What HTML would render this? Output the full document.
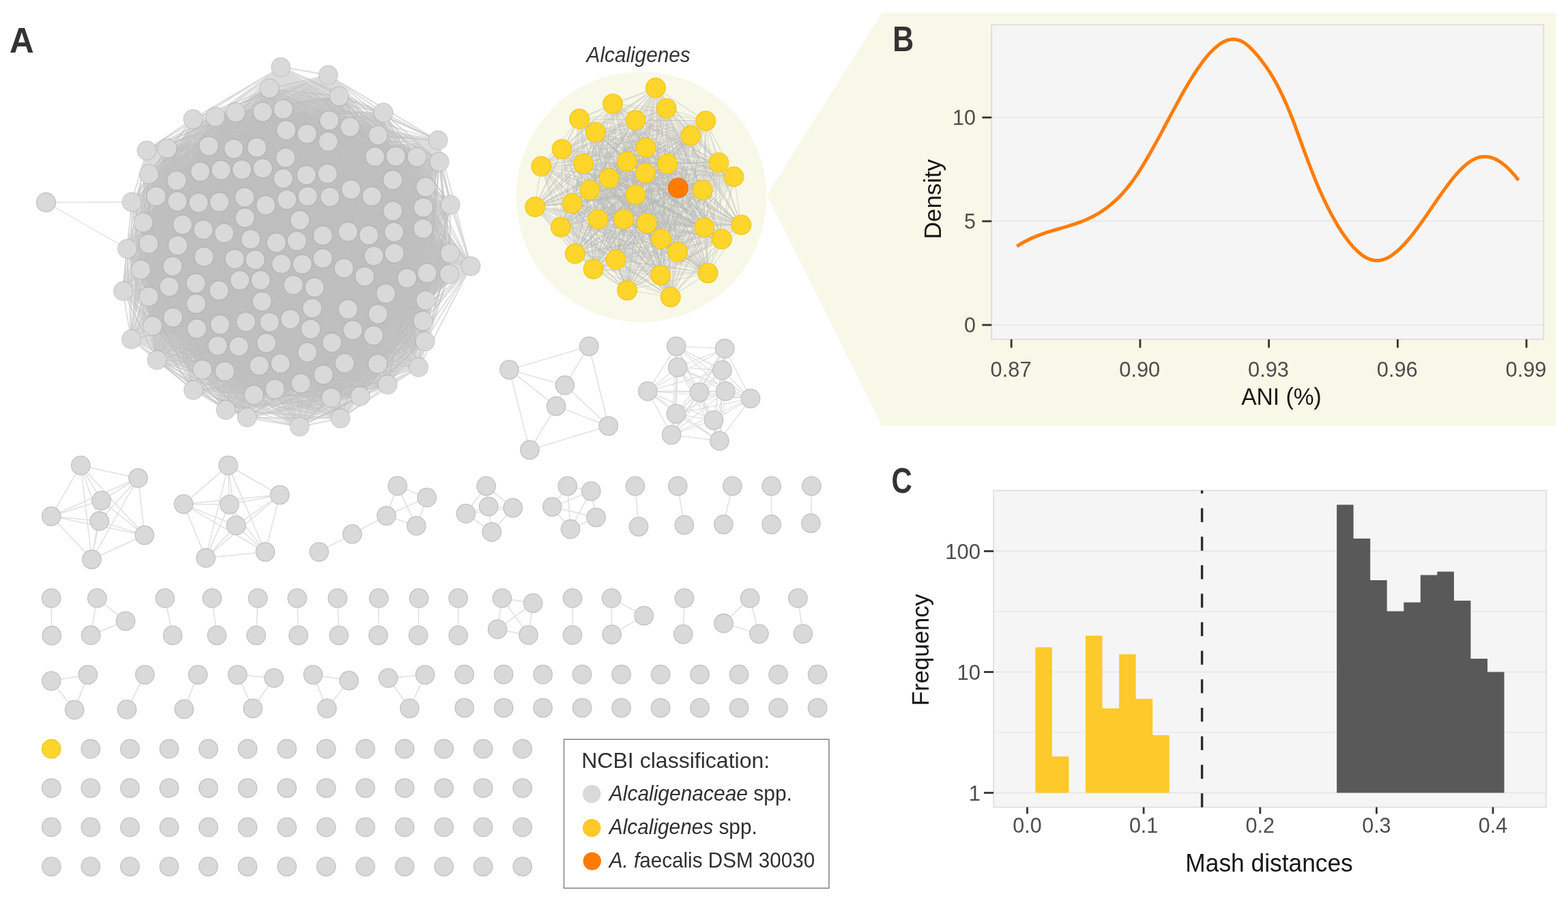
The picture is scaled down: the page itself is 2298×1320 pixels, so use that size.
<!DOCTYPE html><html><head><meta charset="utf-8"><style>html,body{margin:0;padding:0;background:#fff;overflow:hidden}svg{display:block}</style></head><body>
<svg width="2298" height="1320" viewBox="0 0 2298 1320" font-family="Liberation Sans, Arial, sans-serif">
<rect width="2298" height="1320" fill="#fff"/>
<polygon points="1292.5,19 2280.5,19 2280.5,624 1292.5,624 1124,286" fill="#f7f8e7"/>
<circle cx="940" cy="288.5" r="183.5" fill="#f7f8e7"/>
<polygon points="256.1,423.7 267,310.2 279.4,267.5 323.1,237.9 426.2,176.9 454.9,181.7 577.2,254.3 610.2,381.1 555.9,486.1 470.1,542.3 438.1,548.7 381.2,538.7 363.4,532.4 327,510.2 261.7,456.7" fill="#bfbfbf"/>
<g stroke="#bfbfbf" stroke-width="1.8" fill="none" stroke-opacity="0.55">
<path d="M412 98L481 110M412 98L395 130M412 98L497 141M412 98L562 165M412 98L283 174M412 98L316 171M412 98L346 164M412 98L385 164M412 98L415 160M412 98L482 176M412 98L513 186M412 98L420 190M412 98L450 196M412 98L554 198M412 98L481 208M412 98L642 206M412 98L215 220M412 98L245 218M412 98L306 214M412 98L342 218M412 98L376 216M412 98L418 231M412 98L550 230M412 98L580 229M412 98L611 230M412 98L644 237M412 98L218 255M412 98L259 264M412 98L294 252M412 98L324 249M412 98L354 248M412 98L385 246M412 98L415 262M412 98L449 256M412 98L480 254M412 98L576 264M412 98L624 274M412 98L193 296M412 98L229 288M412 98L260 295M412 98L291 297M412 98L322 296M412 98L358 289M412 98L390 300M412 98L420 292M412 98L451 288M412 98L484 288M412 98L514 278M412 98L545 288M412 98L576 309M412 98L620 304M412 98L660 300M412 98L210 326M412 98L268 329M412 98L298 336M412 98L328 342M412 98L359 319M412 98L440 322M412 98L620 335M412 98L578 340M412 98L186 364M412 98L218 357M412 98L260 360M412 98L368 350M412 98L405 356M412 98L435 353M412 98L473 345M412 98L510 340M412 98L540 344M412 98L548 375M412 98L578 371M412 98L660 371M412 98L690 390M412 98L206 395M412 98L253 390M412 98L299 376M412 98L344 380M412 98L374 380M412 98L412 386M412 98L443 387M412 98L473 378M412 98L504 393M412 98L534 405M412 98L596 408M412 98L626 400M412 98L658 402M412 98L180 426M412 98L218 434M412 98L248 420M412 98L287 415M412 98L321 426M412 98L352 410M412 98L382 410M412 98L430 418M412 98L461 421M412 98L566 430M412 98L624 440M412 98L288 445M412 98L384 442M412 98L458 452M412 98L510 453M412 98L554 460M412 98L192 497M412 98L224 478M412 98L254 465M412 98L288 482M412 98L322 476M412 98L360 472M412 98L395 472M412 98L426 468M412 98L456 482M412 98L517 484M412 98L548 492M412 98L620 470M412 98L486 502M412 98L319 506M412 98L350 508M412 98L390 502M412 98L623 500M412 98L230 528M412 98L296 542M412 98L330 544M412 98L380 536M412 98L411 532M412 98L450 516M412 98L474 549M412 98L505 532M412 98L554 533M412 98L614 538M412 98L284 572M412 98L372 578M412 98L403 570M412 98L441 562M412 98L486 582M412 98L528 580M412 98L568 564M412 98L331 600M412 98L362 612M412 98L439 625M412 98L499 613"/>
<path d="M481 110L395 130M481 110L497 141M481 110L562 165M481 110L283 174M481 110L316 171M481 110L346 164M481 110L385 164M481 110L415 160M481 110L482 176M481 110L513 186M481 110L420 190M481 110L450 196M481 110L554 198M481 110L481 208M481 110L642 206M481 110L215 220M481 110L245 218M481 110L306 214M481 110L342 218M481 110L376 216M481 110L418 231M481 110L550 230M481 110L580 229M481 110L611 230M481 110L644 237M481 110L218 255M481 110L259 264M481 110L294 252M481 110L324 249M481 110L354 248M481 110L385 246M481 110L415 262M481 110L449 256M481 110L480 254M481 110L576 264M481 110L624 274M481 110L193 296M481 110L229 288M481 110L260 295M481 110L291 297M481 110L322 296M481 110L358 289M481 110L390 300M481 110L420 292M481 110L451 288M481 110L484 288M481 110L514 278M481 110L545 288M481 110L576 309M481 110L620 304M481 110L660 300M481 110L210 326M481 110L268 329M481 110L298 336M481 110L328 342M481 110L359 319M481 110L440 322M481 110L620 335M481 110L578 340M481 110L186 364M481 110L218 357M481 110L260 360M481 110L368 350M481 110L405 356M481 110L435 353M481 110L473 345M481 110L510 340M481 110L540 344M481 110L548 375M481 110L578 371M481 110L660 371M481 110L690 390M481 110L206 395M481 110L253 390M481 110L299 376M481 110L344 380M481 110L374 380M481 110L412 386M481 110L443 387M481 110L473 378M481 110L504 393M481 110L534 405M481 110L596 408M481 110L626 400M481 110L658 402M481 110L180 426M481 110L218 434M481 110L248 420M481 110L287 415M481 110L321 426M481 110L352 410M481 110L382 410M481 110L430 418M481 110L461 421M481 110L566 430M481 110L624 440M481 110L288 445M481 110L384 442M481 110L458 452M481 110L510 453M481 110L554 460M481 110L192 497M481 110L224 478M481 110L254 465M481 110L288 482M481 110L322 476M481 110L360 472M481 110L395 472M481 110L426 468M481 110L456 482M481 110L517 484M481 110L548 492M481 110L620 470M481 110L486 502M481 110L319 506M481 110L350 508M481 110L390 502M481 110L623 500M481 110L230 528M481 110L296 542M481 110L330 544M481 110L380 536M481 110L411 532M481 110L450 516M481 110L474 549M481 110L505 532M481 110L554 533M481 110L614 538M481 110L284 572M481 110L372 578M481 110L403 570M481 110L441 562M481 110L486 582M481 110L528 580M481 110L568 564M481 110L331 600M481 110L362 612M481 110L439 625M481 110L499 613"/>
<path d="M395 130L497 141M395 130L346 164M395 130L385 164M395 130L415 160M395 130L482 176M395 130L513 186M395 130L420 190M395 130L450 196M395 130L554 198M395 130L481 208M395 130L306 214M395 130L342 218M395 130L376 216M395 130L418 231M395 130L550 230M395 130L580 229M395 130L611 230M395 130L259 264M395 130L294 252M395 130L324 249M395 130L354 248M395 130L385 246M395 130L415 262M395 130L449 256M395 130L480 254M395 130L576 264M395 130L624 274M395 130L229 288M395 130L260 295M395 130L291 297M395 130L322 296M395 130L358 289M395 130L390 300M395 130L420 292M395 130L451 288M395 130L484 288M395 130L514 278M395 130L545 288M395 130L576 309M395 130L620 304M395 130L210 326M395 130L268 329M395 130L298 336M395 130L328 342M395 130L359 319M395 130L440 322M395 130L620 335M395 130L578 340M395 130L218 357M395 130L260 360M395 130L368 350M395 130L405 356M395 130L435 353M395 130L473 345M395 130L510 340M395 130L540 344M395 130L548 375M395 130L578 371M395 130L660 371M395 130L206 395M395 130L253 390M395 130L299 376M395 130L344 380M395 130L374 380M395 130L412 386M395 130L443 387M395 130L473 378M395 130L504 393M395 130L534 405M395 130L596 408M395 130L626 400M395 130L658 402M395 130L218 434M395 130L248 420M395 130L287 415M395 130L321 426M395 130L352 410M395 130L382 410M395 130L430 418M395 130L461 421M395 130L566 430M395 130L624 440M395 130L288 445M395 130L384 442M395 130L458 452M395 130L510 453M395 130L554 460M395 130L224 478M395 130L254 465M395 130L288 482M395 130L322 476M395 130L360 472M395 130L395 472M395 130L426 468M395 130L456 482M395 130L517 484M395 130L548 492M395 130L620 470M395 130L486 502M395 130L319 506M395 130L350 508M395 130L390 502M395 130L296 542M395 130L330 544M395 130L380 536M395 130L411 532M395 130L450 516M395 130L474 549M395 130L505 532M395 130L554 533M395 130L372 578M395 130L403 570M395 130L441 562M395 130L486 582"/>
<path d="M497 141L346 164M497 141L385 164M497 141L415 160M497 141L482 176M497 141L513 186M497 141L420 190M497 141L450 196M497 141L554 198M497 141L481 208M497 141L306 214M497 141L342 218M497 141L376 216M497 141L418 231M497 141L550 230M497 141L580 229M497 141L611 230M497 141L259 264M497 141L294 252M497 141L324 249M497 141L354 248M497 141L385 246M497 141L415 262M497 141L449 256M497 141L480 254M497 141L576 264M497 141L624 274M497 141L229 288M497 141L260 295M497 141L291 297M497 141L322 296M497 141L358 289M497 141L390 300M497 141L420 292M497 141L451 288M497 141L484 288M497 141L514 278M497 141L545 288M497 141L576 309M497 141L620 304M497 141L210 326M497 141L268 329M497 141L298 336M497 141L328 342M497 141L359 319M497 141L440 322M497 141L620 335M497 141L578 340M497 141L218 357M497 141L260 360M497 141L368 350M497 141L405 356M497 141L435 353M497 141L473 345M497 141L510 340M497 141L540 344M497 141L548 375M497 141L578 371M497 141L660 371M497 141L206 395M497 141L253 390M497 141L299 376M497 141L344 380M497 141L374 380M497 141L412 386M497 141L443 387M497 141L473 378M497 141L504 393M497 141L534 405M497 141L596 408M497 141L626 400M497 141L658 402M497 141L218 434M497 141L248 420M497 141L287 415M497 141L321 426M497 141L352 410M497 141L382 410M497 141L430 418M497 141L461 421M497 141L566 430M497 141L624 440M497 141L288 445M497 141L384 442M497 141L458 452M497 141L510 453M497 141L554 460M497 141L224 478M497 141L254 465M497 141L288 482M497 141L322 476M497 141L360 472M497 141L395 472M497 141L426 468M497 141L456 482M497 141L517 484M497 141L548 492M497 141L620 470M497 141L486 502M497 141L319 506M497 141L350 508M497 141L390 502M497 141L296 542M497 141L330 544M497 141L380 536M497 141L411 532M497 141L450 516M497 141L474 549M497 141L505 532M497 141L554 533M497 141L372 578M497 141L403 570M497 141L441 562M497 141L486 582"/>
<path d="M562 165L395 130M562 165L497 141M562 165L316 171M562 165L346 164M562 165L385 164M562 165L415 160M562 165L482 176M562 165L513 186M562 165L420 190M562 165L450 196M562 165L554 198M562 165L481 208M562 165L245 218M562 165L306 214M562 165L342 218M562 165L376 216M562 165L418 231M562 165L550 230M562 165L580 229M562 165L611 230M562 165L644 237M562 165L218 255M562 165L259 264M562 165L294 252M562 165L324 249M562 165L354 248M562 165L385 246M562 165L415 262M562 165L449 256M562 165L480 254M562 165L576 264M562 165L624 274M562 165L229 288M562 165L260 295M562 165L291 297M562 165L322 296M562 165L358 289M562 165L390 300M562 165L420 292M562 165L451 288M562 165L484 288M562 165L514 278M562 165L545 288M562 165L576 309M562 165L620 304M562 165L660 300M562 165L210 326M562 165L268 329M562 165L298 336M562 165L328 342M562 165L359 319M562 165L440 322M562 165L620 335M562 165L578 340M562 165L218 357M562 165L260 360M562 165L368 350M562 165L405 356M562 165L435 353M562 165L473 345M562 165L510 340M562 165L540 344M562 165L548 375M562 165L578 371M562 165L660 371M562 165L206 395M562 165L253 390M562 165L299 376M562 165L344 380M562 165L374 380M562 165L412 386M562 165L443 387M562 165L473 378M562 165L504 393M562 165L534 405M562 165L596 408M562 165L626 400M562 165L658 402M562 165L218 434M562 165L248 420M562 165L287 415M562 165L321 426M562 165L352 410M562 165L382 410M562 165L430 418M562 165L461 421M562 165L566 430M562 165L624 440M562 165L288 445M562 165L384 442M562 165L458 452M562 165L510 453M562 165L554 460M562 165L224 478M562 165L254 465M562 165L288 482M562 165L322 476M562 165L360 472M562 165L395 472M562 165L426 468M562 165L456 482M562 165L517 484M562 165L548 492M562 165L620 470M562 165L486 502M562 165L319 506M562 165L350 508M562 165L390 502M562 165L623 500M562 165L296 542M562 165L330 544M562 165L380 536M562 165L411 532M562 165L450 516M562 165L474 549M562 165L505 532M562 165L554 533M562 165L372 578M562 165L403 570M562 165L441 562M562 165L486 582M562 165L528 580"/>
<path d="M283 174L395 130M283 174L497 141M283 174L562 165M283 174L316 171M283 174L346 164M283 174L385 164M283 174L415 160M283 174L482 176M283 174L513 186M283 174L420 190M283 174L450 196M283 174L554 198M283 174L481 208M283 174L642 206M283 174L215 220M283 174L245 218M283 174L306 214M283 174L342 218M283 174L376 216M283 174L418 231M283 174L550 230M283 174L580 229M283 174L611 230M283 174L644 237M283 174L218 255M283 174L259 264M283 174L294 252M283 174L324 249M283 174L354 248M283 174L385 246M283 174L415 262M283 174L449 256M283 174L480 254M283 174L576 264M283 174L624 274M283 174L193 296M283 174L229 288M283 174L260 295M283 174L291 297M283 174L322 296M283 174L358 289M283 174L390 300M283 174L420 292M283 174L451 288M283 174L484 288M283 174L514 278M283 174L545 288M283 174L576 309M283 174L620 304M283 174L660 300M283 174L210 326M283 174L268 329M283 174L298 336M283 174L328 342M283 174L359 319M283 174L440 322M283 174L620 335M283 174L578 340M283 174L186 364M283 174L218 357M283 174L260 360M283 174L368 350M283 174L405 356M283 174L435 353M283 174L473 345M283 174L510 340M283 174L540 344M283 174L548 375M283 174L578 371M283 174L660 371M283 174L690 390M283 174L206 395M283 174L253 390M283 174L299 376M283 174L344 380M283 174L374 380M283 174L412 386M283 174L443 387M283 174L473 378M283 174L504 393M283 174L534 405M283 174L596 408M283 174L626 400M283 174L658 402M283 174L180 426M283 174L218 434M283 174L248 420M283 174L287 415M283 174L321 426M283 174L352 410M283 174L382 410M283 174L430 418M283 174L461 421M283 174L566 430M283 174L624 440M283 174L288 445M283 174L384 442M283 174L458 452M283 174L510 453M283 174L554 460M283 174L192 497M283 174L224 478M283 174L254 465M283 174L288 482M283 174L322 476M283 174L360 472M283 174L395 472M283 174L426 468M283 174L456 482M283 174L517 484M283 174L548 492M283 174L620 470M283 174L486 502M283 174L319 506M283 174L350 508M283 174L390 502M283 174L623 500M283 174L230 528M283 174L296 542M283 174L330 544M283 174L380 536M283 174L411 532M283 174L450 516M283 174L474 549M283 174L505 532M283 174L554 533M283 174L614 538M283 174L284 572M283 174L372 578M283 174L403 570M283 174L441 562M283 174L486 582M283 174L528 580M283 174L568 564M283 174L331 600M283 174L362 612M283 174L439 625M283 174L499 613"/>
<path d="M316 171L395 130M316 171L497 141M316 171L346 164M316 171L385 164M316 171L415 160M316 171L482 176M316 171L513 186M316 171L420 190M316 171L450 196M316 171L554 198M316 171L481 208M316 171L245 218M316 171L306 214M316 171L342 218M316 171L376 216M316 171L418 231M316 171L550 230M316 171L580 229M316 171L611 230M316 171L259 264M316 171L294 252M316 171L324 249M316 171L354 248M316 171L385 246M316 171L415 262M316 171L449 256M316 171L480 254M316 171L576 264M316 171L624 274M316 171L229 288M316 171L260 295M316 171L291 297M316 171L322 296M316 171L358 289M316 171L390 300M316 171L420 292M316 171L451 288M316 171L484 288M316 171L514 278M316 171L545 288M316 171L576 309M316 171L620 304M316 171L210 326M316 171L268 329M316 171L298 336M316 171L328 342M316 171L359 319M316 171L440 322M316 171L620 335M316 171L578 340M316 171L218 357M316 171L260 360M316 171L368 350M316 171L405 356M316 171L435 353M316 171L473 345M316 171L510 340M316 171L540 344M316 171L548 375M316 171L578 371M316 171L660 371M316 171L206 395M316 171L253 390M316 171L299 376M316 171L344 380M316 171L374 380M316 171L412 386M316 171L443 387M316 171L473 378M316 171L504 393M316 171L534 405M316 171L596 408M316 171L626 400M316 171L658 402M316 171L218 434M316 171L248 420M316 171L287 415M316 171L321 426M316 171L352 410M316 171L382 410M316 171L430 418M316 171L461 421M316 171L566 430M316 171L624 440M316 171L288 445M316 171L384 442M316 171L458 452M316 171L510 453M316 171L554 460M316 171L224 478M316 171L254 465M316 171L288 482M316 171L322 476M316 171L360 472M316 171L395 472M316 171L426 468M316 171L456 482M316 171L517 484M316 171L548 492M316 171L620 470M316 171L486 502M316 171L319 506M316 171L350 508M316 171L390 502M316 171L296 542M316 171L330 544M316 171L380 536M316 171L411 532M316 171L450 516M316 171L474 549M316 171L505 532M316 171L554 533M316 171L372 578M316 171L403 570M316 171L441 562M316 171L486 582"/>
<path d="M346 164L385 164M346 164L415 160M346 164L482 176M346 164L513 186M346 164L420 190M346 164L450 196M346 164L554 198M346 164L481 208M346 164L306 214M346 164L342 218M346 164L376 216M346 164L418 231M346 164L550 230M346 164L580 229M346 164L611 230M346 164L259 264M346 164L294 252M346 164L324 249M346 164L354 248M346 164L385 246M346 164L415 262M346 164L449 256M346 164L480 254M346 164L576 264M346 164L624 274M346 164L229 288M346 164L260 295M346 164L291 297M346 164L322 296M346 164L358 289M346 164L390 300M346 164L420 292M346 164L451 288M346 164L484 288M346 164L514 278M346 164L545 288M346 164L576 309M346 164L620 304M346 164L268 329M346 164L298 336M346 164L328 342M346 164L359 319M346 164L440 322M346 164L620 335M346 164L578 340M346 164L218 357M346 164L260 360M346 164L368 350M346 164L405 356M346 164L435 353M346 164L473 345M346 164L510 340M346 164L540 344M346 164L548 375M346 164L578 371M346 164L660 371M346 164L253 390M346 164L299 376M346 164L344 380M346 164L374 380M346 164L412 386M346 164L443 387M346 164L473 378M346 164L504 393M346 164L534 405M346 164L596 408M346 164L626 400M346 164L218 434M346 164L248 420M346 164L287 415M346 164L321 426M346 164L352 410M346 164L382 410M346 164L430 418M346 164L461 421M346 164L566 430M346 164L624 440M346 164L288 445M346 164L384 442M346 164L458 452M346 164L510 453M346 164L554 460M346 164L224 478M346 164L254 465M346 164L288 482M346 164L322 476M346 164L360 472M346 164L395 472M346 164L426 468M346 164L456 482M346 164L517 484M346 164L548 492M346 164L620 470M346 164L486 502M346 164L319 506M346 164L350 508M346 164L390 502M346 164L296 542M346 164L330 544M346 164L380 536M346 164L411 532M346 164L450 516M346 164L474 549M346 164L505 532M346 164L554 533M346 164L372 578M346 164L403 570M346 164L441 562M346 164L486 582"/>
<path d="M385 164L415 160M385 164L482 176M385 164L513 186M385 164L420 190M385 164L450 196M385 164L481 208M385 164L306 214M385 164L342 218M385 164L376 216M385 164L418 231M385 164L550 230M385 164L580 229M385 164L259 264M385 164L294 252M385 164L324 249M385 164L354 248M385 164L385 246M385 164L415 262M385 164L449 256M385 164L480 254M385 164L576 264M385 164L260 295M385 164L291 297M385 164L322 296M385 164L358 289M385 164L390 300M385 164L420 292M385 164L451 288M385 164L484 288M385 164L514 278M385 164L545 288M385 164L576 309M385 164L620 304M385 164L268 329M385 164L298 336M385 164L328 342M385 164L359 319M385 164L440 322M385 164L620 335M385 164L578 340M385 164L260 360M385 164L368 350M385 164L405 356M385 164L435 353M385 164L473 345M385 164L510 340M385 164L540 344M385 164L548 375M385 164L578 371M385 164L253 390M385 164L299 376M385 164L344 380M385 164L374 380M385 164L412 386M385 164L443 387M385 164L473 378M385 164L504 393M385 164L534 405M385 164L596 408M385 164L626 400M385 164L248 420M385 164L287 415M385 164L321 426M385 164L352 410M385 164L382 410M385 164L430 418M385 164L461 421M385 164L566 430M385 164L288 445M385 164L384 442M385 164L458 452M385 164L510 453M385 164L554 460M385 164L254 465M385 164L288 482M385 164L322 476M385 164L360 472M385 164L395 472M385 164L426 468M385 164L456 482M385 164L517 484M385 164L548 492M385 164L486 502M385 164L319 506M385 164L350 508M385 164L390 502M385 164L330 544M385 164L380 536M385 164L411 532M385 164L450 516M385 164L474 549M385 164L505 532M385 164L403 570M385 164L441 562"/>
<path d="M415 160L482 176M415 160L420 190M415 160L450 196M415 160L481 208M415 160L342 218M415 160L376 216M415 160L418 231M415 160L550 230M415 160L294 252M415 160L324 249M415 160L354 248M415 160L385 246M415 160L415 262M415 160L449 256M415 160L480 254M415 160L576 264M415 160L260 295M415 160L291 297M415 160L322 296M415 160L358 289M415 160L390 300M415 160L420 292M415 160L451 288M415 160L484 288M415 160L514 278M415 160L545 288M415 160L576 309M415 160L268 329M415 160L298 336M415 160L328 342M415 160L359 319M415 160L440 322M415 160L578 340M415 160L260 360M415 160L368 350M415 160L405 356M415 160L435 353M415 160L473 345M415 160L510 340M415 160L540 344M415 160L548 375M415 160L578 371M415 160L253 390M415 160L299 376M415 160L344 380M415 160L374 380M415 160L412 386M415 160L443 387M415 160L473 378M415 160L504 393M415 160L534 405M415 160L596 408M415 160L248 420M415 160L287 415M415 160L321 426M415 160L352 410M415 160L382 410M415 160L430 418M415 160L461 421M415 160L566 430M415 160L288 445M415 160L384 442M415 160L458 452M415 160L510 453M415 160L554 460M415 160L254 465M415 160L288 482M415 160L322 476M415 160L360 472M415 160L395 472M415 160L426 468M415 160L456 482M415 160L517 484M415 160L548 492M415 160L486 502M415 160L319 506M415 160L350 508M415 160L390 502M415 160L380 536M415 160L411 532M415 160L450 516M415 160L474 549M415 160L505 532M415 160L441 562"/>
<path d="M482 176L420 190M482 176L450 196M482 176L481 208M482 176L342 218M482 176L376 216M482 176L418 231M482 176L550 230M482 176L294 252M482 176L324 249M482 176L354 248M482 176L385 246M482 176L415 262M482 176L449 256M482 176L480 254M482 176L576 264M482 176L260 295M482 176L291 297M482 176L322 296M482 176L358 289M482 176L390 300M482 176L420 292M482 176L451 288M482 176L484 288M482 176L514 278M482 176L545 288M482 176L576 309M482 176L268 329M482 176L298 336M482 176L328 342M482 176L359 319M482 176L440 322M482 176L578 340M482 176L260 360M482 176L368 350M482 176L405 356M482 176L435 353M482 176L473 345M482 176L510 340M482 176L540 344M482 176L548 375M482 176L578 371M482 176L253 390M482 176L299 376M482 176L344 380M482 176L374 380M482 176L412 386M482 176L443 387M482 176L473 378M482 176L504 393M482 176L534 405M482 176L596 408M482 176L248 420M482 176L287 415M482 176L321 426M482 176L352 410M482 176L382 410M482 176L430 418M482 176L461 421M482 176L566 430M482 176L288 445M482 176L384 442M482 176L458 452M482 176L510 453M482 176L554 460M482 176L254 465M482 176L288 482M482 176L322 476M482 176L360 472M482 176L395 472M482 176L426 468M482 176L456 482M482 176L517 484M482 176L548 492M482 176L486 502M482 176L319 506M482 176L350 508M482 176L390 502M482 176L380 536M482 176L411 532M482 176L450 516M482 176L474 549M482 176L505 532M482 176L441 562"/>
<path d="M513 186L415 160M513 186L482 176M513 186L420 190M513 186L450 196M513 186L481 208M513 186L342 218M513 186L376 216M513 186L418 231M513 186L550 230M513 186L580 229M513 186L259 264M513 186L294 252M513 186L324 249M513 186L354 248M513 186L385 246M513 186L415 262M513 186L449 256M513 186L480 254M513 186L576 264M513 186L260 295M513 186L291 297M513 186L322 296M513 186L358 289M513 186L390 300M513 186L420 292M513 186L451 288M513 186L484 288M513 186L514 278M513 186L545 288M513 186L576 309M513 186L268 329M513 186L298 336M513 186L328 342M513 186L359 319M513 186L440 322M513 186L620 335M513 186L578 340M513 186L260 360M513 186L368 350M513 186L405 356M513 186L435 353M513 186L473 345M513 186L510 340M513 186L540 344M513 186L548 375M513 186L578 371M513 186L253 390M513 186L299 376M513 186L344 380M513 186L374 380M513 186L412 386M513 186L443 387M513 186L473 378M513 186L504 393M513 186L534 405M513 186L596 408M513 186L626 400M513 186L248 420M513 186L287 415M513 186L321 426M513 186L352 410M513 186L382 410M513 186L430 418M513 186L461 421M513 186L566 430M513 186L288 445M513 186L384 442M513 186L458 452M513 186L510 453M513 186L554 460M513 186L254 465M513 186L288 482M513 186L322 476M513 186L360 472M513 186L395 472M513 186L426 468M513 186L456 482M513 186L517 484M513 186L548 492M513 186L486 502M513 186L319 506M513 186L350 508M513 186L390 502M513 186L380 536M513 186L411 532M513 186L450 516M513 186L474 549M513 186L505 532M513 186L441 562"/>
<path d="M554 198L385 164M554 198L415 160M554 198L482 176M554 198L513 186M554 198L420 190M554 198L450 196M554 198L481 208M554 198L306 214M554 198L342 218M554 198L376 216M554 198L418 231M554 198L550 230M554 198L580 229M554 198L259 264M554 198L294 252M554 198L324 249M554 198L354 248M554 198L385 246M554 198L415 262M554 198L449 256M554 198L480 254M554 198L576 264M554 198L260 295M554 198L291 297M554 198L322 296M554 198L358 289M554 198L390 300M554 198L420 292M554 198L451 288M554 198L484 288M554 198L514 278M554 198L545 288M554 198L576 309M554 198L620 304M554 198L268 329M554 198L298 336M554 198L328 342M554 198L359 319M554 198L440 322M554 198L620 335M554 198L578 340M554 198L260 360M554 198L368 350M554 198L405 356M554 198L435 353M554 198L473 345M554 198L510 340M554 198L540 344M554 198L548 375M554 198L578 371M554 198L253 390M554 198L299 376M554 198L344 380M554 198L374 380M554 198L412 386M554 198L443 387M554 198L473 378M554 198L504 393M554 198L534 405M554 198L596 408M554 198L626 400M554 198L248 420M554 198L287 415M554 198L321 426M554 198L352 410M554 198L382 410M554 198L430 418M554 198L461 421M554 198L566 430M554 198L288 445M554 198L384 442M554 198L458 452M554 198L510 453M554 198L554 460M554 198L254 465M554 198L288 482M554 198L322 476M554 198L360 472M554 198L395 472M554 198L426 468M554 198L456 482M554 198L517 484M554 198L548 492M554 198L486 502M554 198L319 506M554 198L350 508M554 198L390 502M554 198L330 544M554 198L380 536M554 198L411 532M554 198L450 516M554 198L474 549M554 198L505 532M554 198L403 570M554 198L441 562"/>
<path d="M642 206L395 130M642 206L497 141M642 206L562 165M642 206L316 171M642 206L346 164M642 206L385 164M642 206L415 160M642 206L482 176M642 206L513 186M642 206L420 190M642 206L450 196M642 206L554 198M642 206L481 208M642 206L215 220M642 206L245 218M642 206L306 214M642 206L342 218M642 206L376 216M642 206L418 231M642 206L550 230M642 206L580 229M642 206L611 230M642 206L644 237M642 206L218 255M642 206L259 264M642 206L294 252M642 206L324 249M642 206L354 248M642 206L385 246M642 206L415 262M642 206L449 256M642 206L480 254M642 206L576 264M642 206L624 274M642 206L193 296M642 206L229 288M642 206L260 295M642 206L291 297M642 206L322 296M642 206L358 289M642 206L390 300M642 206L420 292M642 206L451 288M642 206L484 288M642 206L514 278M642 206L545 288M642 206L576 309M642 206L620 304M642 206L660 300M642 206L210 326M642 206L268 329M642 206L298 336M642 206L328 342M642 206L359 319M642 206L440 322M642 206L620 335M642 206L578 340M642 206L186 364M642 206L218 357M642 206L260 360M642 206L368 350M642 206L405 356M642 206L435 353M642 206L473 345M642 206L510 340M642 206L540 344M642 206L548 375M642 206L578 371M642 206L660 371M642 206L690 390M642 206L206 395M642 206L253 390M642 206L299 376M642 206L344 380M642 206L374 380M642 206L412 386M642 206L443 387M642 206L473 378M642 206L504 393M642 206L534 405M642 206L596 408M642 206L626 400M642 206L658 402M642 206L180 426M642 206L218 434M642 206L248 420M642 206L287 415M642 206L321 426M642 206L352 410M642 206L382 410M642 206L430 418M642 206L461 421M642 206L566 430M642 206L624 440M642 206L288 445M642 206L384 442M642 206L458 452M642 206L510 453M642 206L554 460M642 206L192 497M642 206L224 478M642 206L254 465M642 206L288 482M642 206L322 476M642 206L360 472M642 206L395 472M642 206L426 468M642 206L456 482M642 206L517 484M642 206L548 492M642 206L620 470M642 206L486 502M642 206L319 506M642 206L350 508M642 206L390 502M642 206L623 500M642 206L230 528M642 206L296 542M642 206L330 544M642 206L380 536M642 206L411 532M642 206L450 516M642 206L474 549M642 206L505 532M642 206L554 533M642 206L614 538M642 206L284 572M642 206L372 578M642 206L403 570M642 206L441 562M642 206L486 582M642 206L528 580M642 206L568 564M642 206L331 600M642 206L362 612M642 206L439 625M642 206L499 613"/>
<path d="M215 220L395 130M215 220L497 141M215 220L562 165M215 220L316 171M215 220L346 164M215 220L385 164M215 220L415 160M215 220L482 176M215 220L513 186M215 220L420 190M215 220L450 196M215 220L554 198M215 220L481 208M215 220L245 218M215 220L306 214M215 220L342 218M215 220L376 216M215 220L418 231M215 220L550 230M215 220L580 229M215 220L611 230M215 220L644 237M215 220L218 255M215 220L259 264M215 220L294 252M215 220L324 249M215 220L354 248M215 220L385 246M215 220L415 262M215 220L449 256M215 220L480 254M215 220L576 264M215 220L624 274M215 220L193 296M215 220L229 288M215 220L260 295M215 220L291 297M215 220L322 296M215 220L358 289M215 220L390 300M215 220L420 292M215 220L451 288M215 220L484 288M215 220L514 278M215 220L545 288M215 220L576 309M215 220L620 304M215 220L660 300M215 220L210 326M215 220L268 329M215 220L298 336M215 220L328 342M215 220L359 319M215 220L440 322M215 220L620 335M215 220L578 340M215 220L186 364M215 220L218 357M215 220L260 360M215 220L368 350M215 220L405 356M215 220L435 353M215 220L473 345M215 220L510 340M215 220L540 344M215 220L548 375M215 220L578 371M215 220L660 371M215 220L690 390M215 220L206 395M215 220L253 390M215 220L299 376M215 220L344 380M215 220L374 380M215 220L412 386M215 220L443 387M215 220L473 378M215 220L504 393M215 220L534 405M215 220L596 408M215 220L626 400M215 220L658 402M215 220L180 426M215 220L218 434M215 220L248 420M215 220L287 415M215 220L321 426M215 220L352 410M215 220L382 410M215 220L430 418M215 220L461 421M215 220L566 430M215 220L624 440M215 220L288 445M215 220L384 442M215 220L458 452M215 220L510 453M215 220L554 460M215 220L192 497M215 220L224 478M215 220L254 465M215 220L288 482M215 220L322 476M215 220L360 472M215 220L395 472M215 220L426 468M215 220L456 482M215 220L517 484M215 220L548 492M215 220L620 470M215 220L486 502M215 220L319 506M215 220L350 508M215 220L390 502M215 220L623 500M215 220L230 528M215 220L296 542M215 220L330 544M215 220L380 536M215 220L411 532M215 220L450 516M215 220L474 549M215 220L505 532M215 220L554 533M215 220L614 538M215 220L284 572M215 220L372 578M215 220L403 570M215 220L441 562M215 220L486 582M215 220L528 580M215 220L568 564M215 220L331 600M215 220L362 612M215 220L439 625M215 220L499 613"/>
<path d="M245 218L395 130M245 218L497 141M245 218L346 164M245 218L385 164M245 218L415 160M245 218L482 176M245 218L513 186M245 218L420 190M245 218L450 196M245 218L554 198M245 218L481 208M245 218L306 214M245 218L342 218M245 218L376 216M245 218L418 231M245 218L550 230M245 218L580 229M245 218L611 230M245 218L259 264M245 218L294 252M245 218L324 249M245 218L354 248M245 218L385 246M245 218L415 262M245 218L449 256M245 218L480 254M245 218L576 264M245 218L624 274M245 218L229 288M245 218L260 295M245 218L291 297M245 218L322 296M245 218L358 289M245 218L390 300M245 218L420 292M245 218L451 288M245 218L484 288M245 218L514 278M245 218L545 288M245 218L576 309M245 218L620 304M245 218L210 326M245 218L268 329M245 218L298 336M245 218L328 342M245 218L359 319M245 218L440 322M245 218L620 335M245 218L578 340M245 218L218 357M245 218L260 360M245 218L368 350M245 218L405 356M245 218L435 353M245 218L473 345M245 218L510 340M245 218L540 344M245 218L548 375M245 218L578 371M245 218L660 371M245 218L206 395M245 218L253 390M245 218L299 376M245 218L344 380M245 218L374 380M245 218L412 386M245 218L443 387M245 218L473 378M245 218L504 393M245 218L534 405M245 218L596 408M245 218L626 400M245 218L658 402M245 218L218 434M245 218L248 420M245 218L287 415M245 218L321 426M245 218L352 410M245 218L382 410M245 218L430 418M245 218L461 421M245 218L566 430M245 218L624 440M245 218L288 445M245 218L384 442M245 218L458 452M245 218L510 453M245 218L554 460M245 218L224 478M245 218L254 465M245 218L288 482M245 218L322 476M245 218L360 472M245 218L395 472M245 218L426 468M245 218L456 482M245 218L517 484M245 218L548 492M245 218L620 470M245 218L486 502M245 218L319 506M245 218L350 508M245 218L390 502M245 218L296 542M245 218L330 544M245 218L380 536M245 218L411 532M245 218L450 516M245 218L474 549M245 218L505 532M245 218L554 533M245 218L372 578M245 218L403 570M245 218L441 562M245 218L486 582"/>
<path d="M306 214L415 160M306 214L482 176M306 214L513 186M306 214L420 190M306 214L450 196M306 214L481 208M306 214L342 218M306 214L376 216M306 214L418 231M306 214L550 230M306 214L580 229M306 214L259 264M306 214L294 252M306 214L324 249M306 214L354 248M306 214L385 246M306 214L415 262M306 214L449 256M306 214L480 254M306 214L576 264M306 214L260 295M306 214L291 297M306 214L322 296M306 214L358 289M306 214L390 300M306 214L420 292M306 214L451 288M306 214L484 288M306 214L514 278M306 214L545 288M306 214L576 309M306 214L620 304M306 214L268 329M306 214L298 336M306 214L328 342M306 214L359 319M306 214L440 322M306 214L620 335M306 214L578 340M306 214L260 360M306 214L368 350M306 214L405 356M306 214L435 353M306 214L473 345M306 214L510 340M306 214L540 344M306 214L548 375M306 214L578 371M306 214L253 390M306 214L299 376M306 214L344 380M306 214L374 380M306 214L412 386M306 214L443 387M306 214L473 378M306 214L504 393M306 214L534 405M306 214L596 408M306 214L626 400M306 214L248 420M306 214L287 415M306 214L321 426M306 214L352 410M306 214L382 410M306 214L430 418M306 214L461 421M306 214L566 430M306 214L288 445M306 214L384 442M306 214L458 452M306 214L510 453M306 214L554 460M306 214L254 465M306 214L288 482M306 214L322 476M306 214L360 472M306 214L395 472M306 214L426 468M306 214L456 482M306 214L517 484M306 214L548 492M306 214L486 502M306 214L319 506M306 214L350 508M306 214L390 502M306 214L330 544M306 214L380 536M306 214L411 532M306 214L450 516M306 214L474 549M306 214L505 532M306 214L403 570M306 214L441 562"/>
<path d="M342 218L420 190M342 218L450 196M342 218L481 208M342 218L376 216M342 218L418 231M342 218L550 230M342 218L294 252M342 218L324 249M342 218L354 248M342 218L385 246M342 218L415 262M342 218L449 256M342 218L480 254M342 218L576 264M342 218L291 297M342 218L322 296M342 218L358 289M342 218L390 300M342 218L420 292M342 218L451 288M342 218L484 288M342 218L514 278M342 218L545 288M342 218L576 309M342 218L268 329M342 218L298 336M342 218L328 342M342 218L359 319M342 218L440 322M342 218L578 340M342 218L260 360M342 218L368 350M342 218L405 356M342 218L435 353M342 218L473 345M342 218L510 340M342 218L540 344M342 218L548 375M342 218L578 371M342 218L253 390M342 218L299 376M342 218L344 380M342 218L374 380M342 218L412 386M342 218L443 387M342 218L473 378M342 218L504 393M342 218L534 405M342 218L596 408M342 218L287 415M342 218L321 426M342 218L352 410M342 218L382 410M342 218L430 418M342 218L461 421M342 218L566 430M342 218L288 445M342 218L384 442M342 218L458 452M342 218L510 453M342 218L554 460M342 218L288 482M342 218L322 476M342 218L360 472M342 218L395 472M342 218L426 468M342 218L456 482M342 218L517 484M342 218L548 492M342 218L486 502M342 218L319 506M342 218L350 508M342 218L390 502M342 218L380 536M342 218L411 532M342 218L450 516"/>
<path d="M550 230L420 190M550 230L450 196M550 230L481 208M550 230L376 216M550 230L418 231M550 230L294 252M550 230L324 249M550 230L354 248M550 230L385 246M550 230L415 262M550 230L449 256M550 230L480 254M550 230L576 264M550 230L291 297M550 230L322 296M550 230L358 289M550 230L390 300M550 230L420 292M550 230L451 288M550 230L484 288M550 230L514 278M550 230L545 288M550 230L576 309M550 230L268 329M550 230L298 336M550 230L328 342M550 230L359 319M550 230L440 322M550 230L578 340M550 230L260 360M550 230L368 350M550 230L405 356M550 230L435 353M550 230L473 345M550 230L510 340M550 230L540 344M550 230L548 375M550 230L578 371M550 230L253 390M550 230L299 376M550 230L344 380M550 230L374 380M550 230L412 386M550 230L443 387M550 230L473 378M550 230L504 393M550 230L534 405M550 230L596 408M550 230L287 415M550 230L321 426M550 230L352 410M550 230L382 410M550 230L430 418M550 230L461 421M550 230L566 430M550 230L288 445M550 230L384 442M550 230L458 452M550 230L510 453M550 230L554 460M550 230L288 482M550 230L322 476M550 230L360 472M550 230L395 472M550 230L426 468M550 230L456 482M550 230L517 484M550 230L548 492M550 230L486 502M550 230L319 506M550 230L350 508M550 230L390 502M550 230L380 536M550 230L411 532M550 230L450 516"/>
<path d="M580 229L415 160M580 229L482 176M580 229L420 190M580 229L450 196M580 229L481 208M580 229L342 218M580 229L376 216M580 229L418 231M580 229L550 230M580 229L259 264M580 229L294 252M580 229L324 249M580 229L354 248M580 229L385 246M580 229L415 262M580 229L449 256M580 229L480 254M580 229L576 264M580 229L260 295M580 229L291 297M580 229L322 296M580 229L358 289M580 229L390 300M580 229L420 292M580 229L451 288M580 229L484 288M580 229L514 278M580 229L545 288M580 229L576 309M580 229L268 329M580 229L298 336M580 229L328 342M580 229L359 319M580 229L440 322M580 229L620 335M580 229L578 340M580 229L260 360M580 229L368 350M580 229L405 356M580 229L435 353M580 229L473 345M580 229L510 340M580 229L540 344M580 229L548 375M580 229L578 371M580 229L253 390M580 229L299 376M580 229L344 380M580 229L374 380M580 229L412 386M580 229L443 387M580 229L473 378M580 229L504 393M580 229L534 405M580 229L596 408M580 229L626 400M580 229L248 420M580 229L287 415M580 229L321 426M580 229L352 410M580 229L382 410M580 229L430 418M580 229L461 421M580 229L566 430M580 229L288 445M580 229L384 442M580 229L458 452M580 229L510 453M580 229L554 460M580 229L254 465M580 229L288 482M580 229L322 476M580 229L360 472M580 229L395 472M580 229L426 468M580 229L456 482M580 229L517 484M580 229L548 492M580 229L486 502M580 229L319 506M580 229L350 508M580 229L390 502M580 229L380 536M580 229L411 532M580 229L450 516M580 229L474 549M580 229L505 532M580 229L441 562"/>
<path d="M611 230L385 164M611 230L415 160M611 230L482 176M611 230L513 186M611 230L420 190M611 230L450 196M611 230L554 198M611 230L481 208M611 230L306 214M611 230L342 218M611 230L376 216M611 230L418 231M611 230L550 230M611 230L580 229M611 230L259 264M611 230L294 252M611 230L324 249M611 230L354 248M611 230L385 246M611 230L415 262M611 230L449 256M611 230L480 254M611 230L576 264M611 230L260 295M611 230L291 297M611 230L322 296M611 230L358 289M611 230L390 300M611 230L420 292M611 230L451 288M611 230L484 288M611 230L514 278M611 230L545 288M611 230L576 309M611 230L620 304M611 230L268 329M611 230L298 336M611 230L328 342M611 230L359 319M611 230L440 322M611 230L620 335M611 230L578 340M611 230L260 360M611 230L368 350M611 230L405 356M611 230L435 353M611 230L473 345M611 230L510 340M611 230L540 344M611 230L548 375M611 230L578 371M611 230L253 390M611 230L299 376M611 230L344 380M611 230L374 380M611 230L412 386M611 230L443 387M611 230L473 378M611 230L504 393M611 230L534 405M611 230L596 408M611 230L626 400M611 230L248 420M611 230L287 415M611 230L321 426M611 230L352 410M611 230L382 410M611 230L430 418M611 230L461 421M611 230L566 430M611 230L288 445M611 230L384 442M611 230L458 452M611 230L510 453M611 230L554 460M611 230L254 465M611 230L288 482M611 230L322 476M611 230L360 472M611 230L395 472M611 230L426 468M611 230L456 482M611 230L517 484M611 230L548 492M611 230L486 502M611 230L319 506M611 230L350 508M611 230L390 502M611 230L330 544M611 230L380 536M611 230L411 532M611 230L450 516M611 230L474 549M611 230L505 532M611 230L554 533M611 230L403 570M611 230L441 562"/>
<path d="M644 237L395 130M644 237L497 141M644 237L316 171M644 237L346 164M644 237L385 164M644 237L415 160M644 237L482 176M644 237L513 186M644 237L420 190M644 237L450 196M644 237L554 198M644 237L481 208M644 237L245 218M644 237L306 214M644 237L342 218M644 237L376 216M644 237L418 231M644 237L550 230M644 237L580 229M644 237L611 230M644 237L218 255M644 237L259 264M644 237L294 252M644 237L324 249M644 237L354 248M644 237L385 246M644 237L415 262M644 237L449 256M644 237L480 254M644 237L576 264M644 237L624 274M644 237L229 288M644 237L260 295M644 237L291 297M644 237L322 296M644 237L358 289M644 237L390 300M644 237L420 292M644 237L451 288M644 237L484 288M644 237L514 278M644 237L545 288M644 237L576 309M644 237L620 304M644 237L660 300M644 237L210 326M644 237L268 329M644 237L298 336M644 237L328 342M644 237L359 319M644 237L440 322M644 237L620 335M644 237L578 340M644 237L218 357M644 237L260 360M644 237L368 350M644 237L405 356M644 237L435 353M644 237L473 345M644 237L510 340M644 237L540 344M644 237L548 375M644 237L578 371M644 237L660 371M644 237L206 395M644 237L253 390M644 237L299 376M644 237L344 380M644 237L374 380M644 237L412 386M644 237L443 387M644 237L473 378M644 237L504 393M644 237L534 405M644 237L596 408M644 237L626 400M644 237L658 402M644 237L218 434M644 237L248 420M644 237L287 415M644 237L321 426M644 237L352 410M644 237L382 410M644 237L430 418M644 237L461 421M644 237L566 430M644 237L624 440M644 237L288 445M644 237L384 442M644 237L458 452M644 237L510 453M644 237L554 460M644 237L224 478M644 237L254 465M644 237L288 482M644 237L322 476M644 237L360 472M644 237L395 472M644 237L426 468M644 237L456 482M644 237L517 484M644 237L548 492M644 237L620 470M644 237L486 502M644 237L319 506M644 237L350 508M644 237L390 502M644 237L623 500M644 237L296 542M644 237L330 544M644 237L380 536M644 237L411 532M644 237L450 516M644 237L474 549M644 237L505 532M644 237L554 533M644 237L372 578M644 237L403 570M644 237L441 562M644 237L486 582M644 237L528 580"/>
<path d="M218 255L395 130M218 255L497 141M218 255L316 171M218 255L346 164M218 255L385 164M218 255L415 160M218 255L482 176M218 255L513 186M218 255L420 190M218 255L450 196M218 255L554 198M218 255L481 208M218 255L245 218M218 255L306 214M218 255L342 218M218 255L376 216M218 255L418 231M218 255L550 230M218 255L580 229M218 255L611 230M218 255L259 264M218 255L294 252M218 255L324 249M218 255L354 248M218 255L385 246M218 255L415 262M218 255L449 256M218 255L480 254M218 255L576 264M218 255L624 274M218 255L229 288M218 255L260 295M218 255L291 297M218 255L322 296M218 255L358 289M218 255L390 300M218 255L420 292M218 255L451 288M218 255L484 288M218 255L514 278M218 255L545 288M218 255L576 309M218 255L620 304M218 255L210 326M218 255L268 329M218 255L298 336M218 255L328 342M218 255L359 319M218 255L440 322M218 255L620 335M218 255L578 340M218 255L218 357M218 255L260 360M218 255L368 350M218 255L405 356M218 255L435 353M218 255L473 345M218 255L510 340M218 255L540 344M218 255L548 375M218 255L578 371M218 255L660 371M218 255L206 395M218 255L253 390M218 255L299 376M218 255L344 380M218 255L374 380M218 255L412 386M218 255L443 387M218 255L473 378M218 255L504 393M218 255L534 405M218 255L596 408M218 255L626 400M218 255L658 402M218 255L218 434M218 255L248 420M218 255L287 415M218 255L321 426M218 255L352 410M218 255L382 410M218 255L430 418M218 255L461 421M218 255L566 430M218 255L624 440M218 255L288 445M218 255L384 442M218 255L458 452M218 255L510 453M218 255L554 460M218 255L224 478M218 255L254 465M218 255L288 482M218 255L322 476M218 255L360 472M218 255L395 472M218 255L426 468M218 255L456 482M218 255L517 484M218 255L548 492M218 255L620 470M218 255L486 502M218 255L319 506M218 255L350 508M218 255L390 502M218 255L296 542M218 255L330 544M218 255L380 536M218 255L411 532M218 255L450 516M218 255L474 549M218 255L505 532M218 255L554 533M218 255L372 578M218 255L403 570M218 255L441 562M218 255L486 582"/>
<path d="M259 264L415 160M259 264L482 176M259 264L420 190M259 264L450 196M259 264L481 208M259 264L342 218M259 264L376 216M259 264L418 231M259 264L550 230M259 264L294 252M259 264L324 249M259 264L354 248M259 264L385 246M259 264L415 262M259 264L449 256M259 264L480 254M259 264L576 264M259 264L260 295M259 264L291 297M259 264L322 296M259 264L358 289M259 264L390 300M259 264L420 292M259 264L451 288M259 264L484 288M259 264L514 278M259 264L545 288M259 264L576 309M259 264L268 329M259 264L298 336M259 264L328 342M259 264L359 319M259 264L440 322M259 264L578 340M259 264L260 360M259 264L368 350M259 264L405 356M259 264L435 353M259 264L473 345M259 264L510 340M259 264L540 344M259 264L548 375M259 264L578 371M259 264L253 390M259 264L299 376M259 264L344 380M259 264L374 380M259 264L412 386M259 264L443 387M259 264L473 378M259 264L504 393M259 264L534 405M259 264L596 408M259 264L248 420M259 264L287 415M259 264L321 426M259 264L352 410M259 264L382 410M259 264L430 418M259 264L461 421M259 264L566 430M259 264L288 445M259 264L384 442M259 264L458 452M259 264L510 453M259 264L554 460M259 264L254 465M259 264L288 482M259 264L322 476M259 264L360 472M259 264L395 472M259 264L426 468M259 264L456 482M259 264L517 484M259 264L548 492M259 264L486 502M259 264L319 506M259 264L350 508M259 264L390 502M259 264L380 536M259 264L411 532M259 264L450 516M259 264L474 549M259 264L505 532M259 264L441 562"/>
<path d="M294 252L420 190M294 252L450 196M294 252L481 208M294 252L376 216M294 252L418 231M294 252L324 249M294 252L354 248M294 252L385 246M294 252L415 262M294 252L449 256M294 252L480 254M294 252L576 264M294 252L291 297M294 252L322 296M294 252L358 289M294 252L390 300M294 252L420 292M294 252L451 288M294 252L484 288M294 252L514 278M294 252L545 288M294 252L576 309M294 252L268 329M294 252L298 336M294 252L328 342M294 252L359 319M294 252L440 322M294 252L578 340M294 252L260 360M294 252L368 350M294 252L405 356M294 252L435 353M294 252L473 345M294 252L510 340M294 252L540 344M294 252L548 375M294 252L578 371M294 252L299 376M294 252L344 380M294 252L374 380M294 252L412 386M294 252L443 387M294 252L473 378M294 252L504 393M294 252L534 405M294 252L596 408M294 252L287 415M294 252L321 426M294 252L352 410M294 252L382 410M294 252L430 418M294 252L461 421M294 252L566 430M294 252L288 445M294 252L384 442M294 252L458 452M294 252L510 453M294 252L554 460M294 252L288 482M294 252L322 476M294 252L360 472M294 252L395 472M294 252L426 468M294 252L456 482M294 252L517 484M294 252L548 492M294 252L486 502M294 252L319 506M294 252L350 508M294 252L390 502M294 252L380 536M294 252L411 532M294 252L450 516"/>
<path d="M624 274L385 164M624 274L415 160M624 274L482 176M624 274L513 186M624 274L420 190M624 274L450 196M624 274L554 198M624 274L481 208M624 274L306 214M624 274L342 218M624 274L376 216M624 274L418 231M624 274L550 230M624 274L580 229M624 274L611 230M624 274L259 264M624 274L294 252M624 274L324 249M624 274L354 248M624 274L385 246M624 274L415 262M624 274L449 256M624 274L480 254M624 274L576 264M624 274L260 295M624 274L291 297M624 274L322 296M624 274L358 289M624 274L390 300M624 274L420 292M624 274L451 288M624 274L484 288M624 274L514 278M624 274L545 288M624 274L576 309M624 274L620 304M624 274L268 329M624 274L298 336M624 274L328 342M624 274L359 319M624 274L440 322M624 274L620 335M624 274L578 340M624 274L260 360M624 274L368 350M624 274L405 356M624 274L435 353M624 274L473 345M624 274L510 340M624 274L540 344M624 274L548 375M624 274L578 371M624 274L253 390M624 274L299 376M624 274L344 380M624 274L374 380M624 274L412 386M624 274L443 387M624 274L473 378M624 274L504 393M624 274L534 405M624 274L596 408M624 274L626 400M624 274L218 434M624 274L248 420M624 274L287 415M624 274L321 426M624 274L352 410M624 274L382 410M624 274L430 418M624 274L461 421M624 274L566 430M624 274L624 440M624 274L288 445M624 274L384 442M624 274L458 452M624 274L510 453M624 274L554 460M624 274L254 465M624 274L288 482M624 274L322 476M624 274L360 472M624 274L395 472M624 274L426 468M624 274L456 482M624 274L517 484M624 274L548 492M624 274L486 502M624 274L319 506M624 274L350 508M624 274L390 502M624 274L330 544M624 274L380 536M624 274L411 532M624 274L450 516M624 274L474 549M624 274L505 532M624 274L554 533M624 274L403 570M624 274L441 562"/>
<path d="M193 296L395 130M193 296L497 141M193 296L562 165M193 296L316 171M193 296L346 164M193 296L385 164M193 296L415 160M193 296L482 176M193 296L513 186M193 296L420 190M193 296L450 196M193 296L554 198M193 296L481 208M193 296L245 218M193 296L306 214M193 296L342 218M193 296L376 216M193 296L418 231M193 296L550 230M193 296L580 229M193 296L611 230M193 296L644 237M193 296L218 255M193 296L259 264M193 296L294 252M193 296L324 249M193 296L354 248M193 296L385 246M193 296L415 262M193 296L449 256M193 296L480 254M193 296L576 264M193 296L624 274M193 296L229 288M193 296L260 295M193 296L291 297M193 296L322 296M193 296L358 289M193 296L390 300M193 296L420 292M193 296L451 288M193 296L484 288M193 296L514 278M193 296L545 288M193 296L576 309M193 296L620 304M193 296L660 300M193 296L210 326M193 296L268 329M193 296L298 336M193 296L328 342M193 296L359 319M193 296L440 322M193 296L620 335M193 296L578 340M193 296L186 364M193 296L218 357M193 296L260 360M193 296L368 350M193 296L405 356M193 296L435 353M193 296L473 345M193 296L510 340M193 296L540 344M193 296L548 375M193 296L578 371M193 296L660 371M193 296L690 390M193 296L206 395M193 296L253 390M193 296L299 376M193 296L344 380M193 296L374 380M193 296L412 386M193 296L443 387M193 296L473 378M193 296L504 393M193 296L534 405M193 296L596 408M193 296L626 400M193 296L658 402M193 296L180 426M193 296L218 434M193 296L248 420M193 296L287 415M193 296L321 426M193 296L352 410M193 296L382 410M193 296L430 418M193 296L461 421M193 296L566 430M193 296L624 440M193 296L288 445M193 296L384 442M193 296L458 452M193 296L510 453M193 296L554 460M193 296L192 497M193 296L224 478M193 296L254 465M193 296L288 482M193 296L322 476M193 296L360 472M193 296L395 472M193 296L426 468M193 296L456 482M193 296L517 484M193 296L548 492M193 296L620 470M193 296L486 502M193 296L319 506M193 296L350 508M193 296L390 502M193 296L623 500M193 296L230 528M193 296L296 542M193 296L330 544M193 296L380 536M193 296L411 532M193 296L450 516M193 296L474 549M193 296L505 532M193 296L554 533M193 296L614 538M193 296L284 572M193 296L372 578M193 296L403 570M193 296L441 562M193 296L486 582M193 296L528 580M193 296L568 564M193 296L331 600M193 296L362 612M193 296L439 625M193 296L499 613"/>
<path d="M229 288L385 164M229 288L415 160M229 288L482 176M229 288L513 186M229 288L420 190M229 288L450 196M229 288L554 198M229 288L481 208M229 288L306 214M229 288L342 218M229 288L376 216M229 288L418 231M229 288L550 230M229 288L580 229M229 288L611 230M229 288L259 264M229 288L294 252M229 288L324 249M229 288L354 248M229 288L385 246M229 288L415 262M229 288L449 256M229 288L480 254M229 288L576 264M229 288L624 274M229 288L260 295M229 288L291 297M229 288L322 296M229 288L358 289M229 288L390 300M229 288L420 292M229 288L451 288M229 288L484 288M229 288L514 278M229 288L545 288M229 288L576 309M229 288L620 304M229 288L268 329M229 288L298 336M229 288L328 342M229 288L359 319M229 288L440 322M229 288L620 335M229 288L578 340M229 288L260 360M229 288L368 350M229 288L405 356M229 288L435 353M229 288L473 345M229 288L510 340M229 288L540 344M229 288L548 375M229 288L578 371M229 288L253 390M229 288L299 376M229 288L344 380M229 288L374 380M229 288L412 386M229 288L443 387M229 288L473 378M229 288L504 393M229 288L534 405M229 288L596 408M229 288L626 400M229 288L218 434M229 288L248 420M229 288L287 415M229 288L321 426M229 288L352 410M229 288L382 410M229 288L430 418M229 288L461 421M229 288L566 430M229 288L624 440M229 288L288 445M229 288L384 442M229 288L458 452M229 288L510 453M229 288L554 460M229 288L224 478M229 288L254 465M229 288L288 482M229 288L322 476M229 288L360 472M229 288L395 472M229 288L426 468M229 288L456 482M229 288L517 484M229 288L548 492M229 288L486 502M229 288L319 506M229 288L350 508M229 288L390 502M229 288L330 544M229 288L380 536M229 288L411 532M229 288L450 516M229 288L474 549M229 288L505 532M229 288L554 533M229 288L372 578M229 288L403 570M229 288L441 562M229 288L486 582"/>
<path d="M260 295L420 190M260 295L450 196M260 295L481 208M260 295L342 218M260 295L376 216M260 295L418 231M260 295L550 230M260 295L294 252M260 295L324 249M260 295L354 248M260 295L385 246M260 295L415 262M260 295L449 256M260 295L480 254M260 295L576 264M260 295L291 297M260 295L322 296M260 295L358 289M260 295L390 300M260 295L420 292M260 295L451 288M260 295L484 288M260 295L514 278M260 295L545 288M260 295L576 309M260 295L268 329M260 295L298 336M260 295L328 342M260 295L359 319M260 295L440 322M260 295L578 340M260 295L260 360M260 295L368 350M260 295L405 356M260 295L435 353M260 295L473 345M260 295L510 340M260 295L540 344M260 295L548 375M260 295L578 371M260 295L253 390M260 295L299 376M260 295L344 380M260 295L374 380M260 295L412 386M260 295L443 387M260 295L473 378M260 295L504 393M260 295L534 405M260 295L596 408M260 295L248 420M260 295L287 415M260 295L321 426M260 295L352 410M260 295L382 410M260 295L430 418M260 295L461 421M260 295L566 430M260 295L288 445M260 295L384 442M260 295L458 452M260 295L510 453M260 295L554 460M260 295L288 482M260 295L322 476M260 295L360 472M260 295L395 472M260 295L426 468M260 295L456 482M260 295L517 484M260 295L548 492M260 295L486 502M260 295L319 506M260 295L350 508M260 295L390 502M260 295L380 536M260 295L411 532M260 295L450 516M260 295L474 549M260 295L505 532"/>
<path d="M620 304L415 160M620 304L482 176M620 304L513 186M620 304L420 190M620 304L450 196M620 304L481 208M620 304L342 218M620 304L376 216M620 304L418 231M620 304L550 230M620 304L580 229M620 304L259 264M620 304L294 252M620 304L324 249M620 304L354 248M620 304L385 246M620 304L415 262M620 304L449 256M620 304L480 254M620 304L576 264M620 304L260 295M620 304L291 297M620 304L322 296M620 304L358 289M620 304L390 300M620 304L420 292M620 304L451 288M620 304L484 288M620 304L514 278M620 304L545 288M620 304L576 309M620 304L268 329M620 304L298 336M620 304L328 342M620 304L359 319M620 304L440 322M620 304L620 335M620 304L578 340M620 304L260 360M620 304L368 350M620 304L405 356M620 304L435 353M620 304L473 345M620 304L510 340M620 304L540 344M620 304L548 375M620 304L578 371M620 304L253 390M620 304L299 376M620 304L344 380M620 304L374 380M620 304L412 386M620 304L443 387M620 304L473 378M620 304L504 393M620 304L534 405M620 304L596 408M620 304L626 400M620 304L248 420M620 304L287 415M620 304L321 426M620 304L352 410M620 304L382 410M620 304L430 418M620 304L461 421M620 304L566 430M620 304L288 445M620 304L384 442M620 304L458 452M620 304L510 453M620 304L554 460M620 304L254 465M620 304L288 482M620 304L322 476M620 304L360 472M620 304L395 472M620 304L426 468M620 304L456 482M620 304L517 484M620 304L548 492M620 304L486 502M620 304L319 506M620 304L350 508M620 304L390 502M620 304L330 544M620 304L380 536M620 304L411 532M620 304L450 516M620 304L474 549M620 304L505 532M620 304L403 570M620 304L441 562"/>
<path d="M660 300L395 130M660 300L497 141M660 300L316 171M660 300L346 164M660 300L385 164M660 300L415 160M660 300L482 176M660 300L513 186M660 300L420 190M660 300L450 196M660 300L554 198M660 300L481 208M660 300L245 218M660 300L306 214M660 300L342 218M660 300L376 216M660 300L418 231M660 300L550 230M660 300L580 229M660 300L611 230M660 300L218 255M660 300L259 264M660 300L294 252M660 300L324 249M660 300L354 248M660 300L385 246M660 300L415 262M660 300L449 256M660 300L480 254M660 300L576 264M660 300L624 274M660 300L229 288M660 300L260 295M660 300L291 297M660 300L322 296M660 300L358 289M660 300L390 300M660 300L420 292M660 300L451 288M660 300L484 288M660 300L514 278M660 300L545 288M660 300L576 309M660 300L620 304M660 300L210 326M660 300L268 329M660 300L298 336M660 300L328 342M660 300L359 319M660 300L440 322M660 300L620 335M660 300L578 340M660 300L218 357M660 300L260 360M660 300L368 350M660 300L405 356M660 300L435 353M660 300L473 345M660 300L510 340M660 300L540 344M660 300L548 375M660 300L578 371M660 300L660 371M660 300L206 395M660 300L253 390M660 300L299 376M660 300L344 380M660 300L374 380M660 300L412 386M660 300L443 387M660 300L473 378M660 300L504 393M660 300L534 405M660 300L596 408M660 300L626 400M660 300L658 402M660 300L218 434M660 300L248 420M660 300L287 415M660 300L321 426M660 300L352 410M660 300L382 410M660 300L430 418M660 300L461 421M660 300L566 430M660 300L624 440M660 300L288 445M660 300L384 442M660 300L458 452M660 300L510 453M660 300L554 460M660 300L224 478M660 300L254 465M660 300L288 482M660 300L322 476M660 300L360 472M660 300L395 472M660 300L426 468M660 300L456 482M660 300L517 484M660 300L548 492M660 300L620 470M660 300L486 502M660 300L319 506M660 300L350 508M660 300L390 502M660 300L623 500M660 300L296 542M660 300L330 544M660 300L380 536M660 300L411 532M660 300L450 516M660 300L474 549M660 300L505 532M660 300L554 533M660 300L372 578M660 300L403 570M660 300L441 562M660 300L486 582M660 300L528 580"/>
<path d="M210 326L346 164M210 326L385 164M210 326L415 160M210 326L482 176M210 326L513 186M210 326L420 190M210 326L450 196M210 326L554 198M210 326L481 208M210 326L306 214M210 326L342 218M210 326L376 216M210 326L418 231M210 326L550 230M210 326L580 229M210 326L611 230M210 326L259 264M210 326L294 252M210 326L324 249M210 326L354 248M210 326L385 246M210 326L415 262M210 326L449 256M210 326L480 254M210 326L576 264M210 326L624 274M210 326L229 288M210 326L260 295M210 326L291 297M210 326L322 296M210 326L358 289M210 326L390 300M210 326L420 292M210 326L451 288M210 326L484 288M210 326L514 278M210 326L545 288M210 326L576 309M210 326L620 304M210 326L268 329M210 326L298 336M210 326L328 342M210 326L359 319M210 326L440 322M210 326L620 335M210 326L578 340M210 326L218 357M210 326L260 360M210 326L368 350M210 326L405 356M210 326L435 353M210 326L473 345M210 326L510 340M210 326L540 344M210 326L548 375M210 326L578 371M210 326L660 371M210 326L206 395M210 326L253 390M210 326L299 376M210 326L344 380M210 326L374 380M210 326L412 386M210 326L443 387M210 326L473 378M210 326L504 393M210 326L534 405M210 326L596 408M210 326L626 400M210 326L658 402M210 326L218 434M210 326L248 420M210 326L287 415M210 326L321 426M210 326L352 410M210 326L382 410M210 326L430 418M210 326L461 421M210 326L566 430M210 326L624 440M210 326L288 445M210 326L384 442M210 326L458 452M210 326L510 453M210 326L554 460M210 326L224 478M210 326L254 465M210 326L288 482M210 326L322 476M210 326L360 472M210 326L395 472M210 326L426 468M210 326L456 482M210 326L517 484M210 326L548 492M210 326L620 470M210 326L486 502M210 326L319 506M210 326L350 508M210 326L390 502M210 326L296 542M210 326L330 544M210 326L380 536M210 326L411 532M210 326L450 516M210 326L474 549M210 326L505 532M210 326L554 533M210 326L372 578M210 326L403 570M210 326L441 562M210 326L486 582"/>
<path d="M620 335L415 160M620 335L482 176M620 335L420 190M620 335L450 196M620 335L481 208M620 335L342 218M620 335L376 216M620 335L418 231M620 335L550 230M620 335L259 264M620 335L294 252M620 335L324 249M620 335L354 248M620 335L385 246M620 335L415 262M620 335L449 256M620 335L480 254M620 335L576 264M620 335L260 295M620 335L291 297M620 335L322 296M620 335L358 289M620 335L390 300M620 335L420 292M620 335L451 288M620 335L484 288M620 335L514 278M620 335L545 288M620 335L576 309M620 335L268 329M620 335L298 336M620 335L328 342M620 335L359 319M620 335L440 322M620 335L578 340M620 335L260 360M620 335L368 350M620 335L405 356M620 335L435 353M620 335L473 345M620 335L510 340M620 335L540 344M620 335L548 375M620 335L578 371M620 335L253 390M620 335L299 376M620 335L344 380M620 335L374 380M620 335L412 386M620 335L443 387M620 335L473 378M620 335L504 393M620 335L534 405M620 335L596 408M620 335L248 420M620 335L287 415M620 335L321 426M620 335L352 410M620 335L382 410M620 335L430 418M620 335L461 421M620 335L566 430M620 335L288 445M620 335L384 442M620 335L458 452M620 335L510 453M620 335L554 460M620 335L254 465M620 335L288 482M620 335L322 476M620 335L360 472M620 335L395 472M620 335L426 468M620 335L456 482M620 335L517 484M620 335L548 492M620 335L486 502M620 335L319 506M620 335L350 508M620 335L390 502M620 335L380 536M620 335L411 532M620 335L450 516M620 335L474 549M620 335L505 532M620 335L441 562"/>
<path d="M186 364L395 130M186 364L497 141M186 364L562 165M186 364L316 171M186 364L346 164M186 364L385 164M186 364L415 160M186 364L482 176M186 364L513 186M186 364L420 190M186 364L450 196M186 364L554 198M186 364L481 208M186 364L245 218M186 364L306 214M186 364L342 218M186 364L376 216M186 364L418 231M186 364L550 230M186 364L580 229M186 364L611 230M186 364L644 237M186 364L218 255M186 364L259 264M186 364L294 252M186 364L324 249M186 364L354 248M186 364L385 246M186 364L415 262M186 364L449 256M186 364L480 254M186 364L576 264M186 364L624 274M186 364L229 288M186 364L260 295M186 364L291 297M186 364L322 296M186 364L358 289M186 364L390 300M186 364L420 292M186 364L451 288M186 364L484 288M186 364L514 278M186 364L545 288M186 364L576 309M186 364L620 304M186 364L660 300M186 364L210 326M186 364L268 329M186 364L298 336M186 364L328 342M186 364L359 319M186 364L440 322M186 364L620 335M186 364L578 340M186 364L218 357M186 364L260 360M186 364L368 350M186 364L405 356M186 364L435 353M186 364L473 345M186 364L510 340M186 364L540 344M186 364L548 375M186 364L578 371M186 364L660 371M186 364L206 395M186 364L253 390M186 364L299 376M186 364L344 380M186 364L374 380M186 364L412 386M186 364L443 387M186 364L473 378M186 364L504 393M186 364L534 405M186 364L596 408M186 364L626 400M186 364L658 402M186 364L218 434M186 364L248 420M186 364L287 415M186 364L321 426M186 364L352 410M186 364L382 410M186 364L430 418M186 364L461 421M186 364L566 430M186 364L624 440M186 364L288 445M186 364L384 442M186 364L458 452M186 364L510 453M186 364L554 460M186 364L224 478M186 364L254 465M186 364L288 482M186 364L322 476M186 364L360 472M186 364L395 472M186 364L426 468M186 364L456 482M186 364L517 484M186 364L548 492M186 364L620 470M186 364L486 502M186 364L319 506M186 364L350 508M186 364L390 502M186 364L623 500M186 364L230 528M186 364L296 542M186 364L330 544M186 364L380 536M186 364L411 532M186 364L450 516M186 364L474 549M186 364L505 532M186 364L554 533M186 364L372 578M186 364L403 570M186 364L441 562M186 364L486 582M186 364L528 580M186 364L568 564"/>
<path d="M218 357L385 164M218 357L415 160M218 357L482 176M218 357L513 186M218 357L420 190M218 357L450 196M218 357L554 198M218 357L481 208M218 357L306 214M218 357L342 218M218 357L376 216M218 357L418 231M218 357L550 230M218 357L580 229M218 357L611 230M218 357L259 264M218 357L294 252M218 357L324 249M218 357L354 248M218 357L385 246M218 357L415 262M218 357L449 256M218 357L480 254M218 357L576 264M218 357L624 274M218 357L229 288M218 357L260 295M218 357L291 297M218 357L322 296M218 357L358 289M218 357L390 300M218 357L420 292M218 357L451 288M218 357L484 288M218 357L514 278M218 357L545 288M218 357L576 309M218 357L620 304M218 357L268 329M218 357L298 336M218 357L328 342M218 357L359 319M218 357L440 322M218 357L620 335M218 357L578 340M218 357L260 360M218 357L368 350M218 357L405 356M218 357L435 353M218 357L473 345M218 357L510 340M218 357L540 344M218 357L548 375M218 357L578 371M218 357L253 390M218 357L299 376M218 357L344 380M218 357L374 380M218 357L412 386M218 357L443 387M218 357L473 378M218 357L504 393M218 357L534 405M218 357L596 408M218 357L626 400M218 357L218 434M218 357L248 420M218 357L287 415M218 357L321 426M218 357L352 410M218 357L382 410M218 357L430 418M218 357L461 421M218 357L566 430M218 357L624 440M218 357L288 445M218 357L384 442M218 357L458 452M218 357L510 453M218 357L554 460M218 357L224 478M218 357L254 465M218 357L288 482M218 357L322 476M218 357L360 472M218 357L395 472M218 357L426 468M218 357L456 482M218 357L517 484M218 357L548 492M218 357L486 502M218 357L319 506M218 357L350 508M218 357L390 502M218 357L296 542M218 357L330 544M218 357L380 536M218 357L411 532M218 357L450 516M218 357L474 549M218 357L505 532M218 357L554 533M218 357L372 578M218 357L403 570M218 357L441 562M218 357L486 582"/>
<path d="M260 360L420 190M260 360L450 196M260 360L481 208M260 360L376 216M260 360L418 231M260 360L324 249M260 360L354 248M260 360L385 246M260 360L415 262M260 360L449 256M260 360L480 254M260 360L576 264M260 360L291 297M260 360L322 296M260 360L358 289M260 360L390 300M260 360L420 292M260 360L451 288M260 360L484 288M260 360L514 278M260 360L545 288M260 360L576 309M260 360L268 329M260 360L298 336M260 360L328 342M260 360L359 319M260 360L440 322M260 360L578 340M260 360L368 350M260 360L405 356M260 360L435 353M260 360L473 345M260 360L510 340M260 360L540 344M260 360L548 375M260 360L578 371M260 360L299 376M260 360L344 380M260 360L374 380M260 360L412 386M260 360L443 387M260 360L473 378M260 360L504 393M260 360L534 405M260 360L596 408M260 360L287 415M260 360L321 426M260 360L352 410M260 360L382 410M260 360L430 418M260 360L461 421M260 360L566 430M260 360L288 445M260 360L384 442M260 360L458 452M260 360L510 453M260 360L554 460M260 360L322 476M260 360L360 472M260 360L395 472M260 360L426 468M260 360L456 482M260 360L517 484M260 360L548 492M260 360L486 502M260 360L350 508M260 360L390 502M260 360L380 536M260 360L411 532M260 360L450 516"/>
<path d="M660 371L385 164M660 371L415 160M660 371L482 176M660 371L513 186M660 371L420 190M660 371L450 196M660 371L554 198M660 371L481 208M660 371L306 214M660 371L342 218M660 371L376 216M660 371L418 231M660 371L550 230M660 371L580 229M660 371L611 230M660 371L259 264M660 371L294 252M660 371L324 249M660 371L354 248M660 371L385 246M660 371L415 262M660 371L449 256M660 371L480 254M660 371L576 264M660 371L624 274M660 371L229 288M660 371L260 295M660 371L291 297M660 371L322 296M660 371L358 289M660 371L390 300M660 371L420 292M660 371L451 288M660 371L484 288M660 371L514 278M660 371L545 288M660 371L576 309M660 371L620 304M660 371L268 329M660 371L298 336M660 371L328 342M660 371L359 319M660 371L440 322M660 371L620 335M660 371L578 340M660 371L218 357M660 371L260 360M660 371L368 350M660 371L405 356M660 371L435 353M660 371L473 345M660 371L510 340M660 371L540 344M660 371L548 375M660 371L578 371M660 371L253 390M660 371L299 376M660 371L344 380M660 371L374 380M660 371L412 386M660 371L443 387M660 371L473 378M660 371L504 393M660 371L534 405M660 371L596 408M660 371L626 400M660 371L218 434M660 371L248 420M660 371L287 415M660 371L321 426M660 371L352 410M660 371L382 410M660 371L430 418M660 371L461 421M660 371L566 430M660 371L624 440M660 371L288 445M660 371L384 442M660 371L458 452M660 371L510 453M660 371L554 460M660 371L224 478M660 371L254 465M660 371L288 482M660 371L322 476M660 371L360 472M660 371L395 472M660 371L426 468M660 371L456 482M660 371L517 484M660 371L548 492M660 371L620 470M660 371L486 502M660 371L319 506M660 371L350 508M660 371L390 502M660 371L296 542M660 371L330 544M660 371L380 536M660 371L411 532M660 371L450 516M660 371L474 549M660 371L505 532M660 371L554 533M660 371L372 578M660 371L403 570M660 371L441 562M660 371L486 582"/>
<path d="M690 390L395 130M690 390L497 141M690 390L562 165M690 390L316 171M690 390L346 164M690 390L385 164M690 390L415 160M690 390L482 176M690 390L513 186M690 390L420 190M690 390L450 196M690 390L554 198M690 390L481 208M690 390L245 218M690 390L306 214M690 390L342 218M690 390L376 216M690 390L418 231M690 390L550 230M690 390L580 229M690 390L611 230M690 390L644 237M690 390L218 255M690 390L259 264M690 390L294 252M690 390L324 249M690 390L354 248M690 390L385 246M690 390L415 262M690 390L449 256M690 390L480 254M690 390L576 264M690 390L624 274M690 390L229 288M690 390L260 295M690 390L291 297M690 390L322 296M690 390L358 289M690 390L390 300M690 390L420 292M690 390L451 288M690 390L484 288M690 390L514 278M690 390L545 288M690 390L576 309M690 390L620 304M690 390L660 300M690 390L210 326M690 390L268 329M690 390L298 336M690 390L328 342M690 390L359 319M690 390L440 322M690 390L620 335M690 390L578 340M690 390L186 364M690 390L218 357M690 390L260 360M690 390L368 350M690 390L405 356M690 390L435 353M690 390L473 345M690 390L510 340M690 390L540 344M690 390L548 375M690 390L578 371M690 390L660 371M690 390L206 395M690 390L253 390M690 390L299 376M690 390L344 380M690 390L374 380M690 390L412 386M690 390L443 387M690 390L473 378M690 390L504 393M690 390L534 405M690 390L596 408M690 390L626 400M690 390L658 402M690 390L180 426M690 390L218 434M690 390L248 420M690 390L287 415M690 390L321 426M690 390L352 410M690 390L382 410M690 390L430 418M690 390L461 421M690 390L566 430M690 390L624 440M690 390L288 445M690 390L384 442M690 390L458 452M690 390L510 453M690 390L554 460M690 390L192 497M690 390L224 478M690 390L254 465M690 390L288 482M690 390L322 476M690 390L360 472M690 390L395 472M690 390L426 468M690 390L456 482M690 390L517 484M690 390L548 492M690 390L620 470M690 390L486 502M690 390L319 506M690 390L350 508M690 390L390 502M690 390L623 500M690 390L230 528M690 390L296 542M690 390L330 544M690 390L380 536M690 390L411 532M690 390L450 516M690 390L474 549M690 390L505 532M690 390L554 533M690 390L614 538M690 390L284 572M690 390L372 578M690 390L403 570M690 390L441 562M690 390L486 582M690 390L528 580M690 390L568 564M690 390L331 600M690 390L362 612M690 390L439 625M690 390L499 613"/>
<path d="M206 395L346 164M206 395L385 164M206 395L415 160M206 395L482 176M206 395L513 186M206 395L420 190M206 395L450 196M206 395L554 198M206 395L481 208M206 395L306 214M206 395L342 218M206 395L376 216M206 395L418 231M206 395L550 230M206 395L580 229M206 395L611 230M206 395L259 264M206 395L294 252M206 395L324 249M206 395L354 248M206 395L385 246M206 395L415 262M206 395L449 256M206 395L480 254M206 395L576 264M206 395L624 274M206 395L229 288M206 395L260 295M206 395L291 297M206 395L322 296M206 395L358 289M206 395L390 300M206 395L420 292M206 395L451 288M206 395L484 288M206 395L514 278M206 395L545 288M206 395L576 309M206 395L620 304M206 395L268 329M206 395L298 336M206 395L328 342M206 395L359 319M206 395L440 322M206 395L620 335M206 395L578 340M206 395L218 357M206 395L260 360M206 395L368 350M206 395L405 356M206 395L435 353M206 395L473 345M206 395L510 340M206 395L540 344M206 395L548 375M206 395L578 371M206 395L660 371M206 395L253 390M206 395L299 376M206 395L344 380M206 395L374 380M206 395L412 386M206 395L443 387M206 395L473 378M206 395L504 393M206 395L534 405M206 395L596 408M206 395L626 400M206 395L218 434M206 395L248 420M206 395L287 415M206 395L321 426M206 395L352 410M206 395L382 410M206 395L430 418M206 395L461 421M206 395L566 430M206 395L624 440M206 395L288 445M206 395L384 442M206 395L458 452M206 395L510 453M206 395L554 460M206 395L224 478M206 395L254 465M206 395L288 482M206 395L322 476M206 395L360 472M206 395L395 472M206 395L426 468M206 395L456 482M206 395L517 484M206 395L548 492M206 395L620 470M206 395L486 502M206 395L319 506M206 395L350 508M206 395L390 502M206 395L296 542M206 395L330 544M206 395L380 536M206 395L411 532M206 395L450 516M206 395L474 549M206 395L505 532M206 395L554 533M206 395L372 578M206 395L403 570M206 395L441 562M206 395L486 582"/>
<path d="M253 390L420 190M253 390L450 196M253 390L481 208M253 390L376 216M253 390L418 231M253 390L294 252M253 390L324 249M253 390L354 248M253 390L385 246M253 390L415 262M253 390L449 256M253 390L480 254M253 390L576 264M253 390L291 297M253 390L322 296M253 390L358 289M253 390L390 300M253 390L420 292M253 390L451 288M253 390L484 288M253 390L514 278M253 390L545 288M253 390L576 309M253 390L268 329M253 390L298 336M253 390L328 342M253 390L359 319M253 390L440 322M253 390L578 340M253 390L260 360M253 390L368 350M253 390L405 356M253 390L435 353M253 390L473 345M253 390L510 340M253 390L540 344M253 390L548 375M253 390L578 371M253 390L299 376M253 390L344 380M253 390L374 380M253 390L412 386M253 390L443 387M253 390L473 378M253 390L504 393M253 390L534 405M253 390L596 408M253 390L287 415M253 390L321 426M253 390L352 410M253 390L382 410M253 390L430 418M253 390L461 421M253 390L566 430M253 390L288 445M253 390L384 442M253 390L458 452M253 390L510 453M253 390L554 460M253 390L288 482M253 390L322 476M253 390L360 472M253 390L395 472M253 390L426 468M253 390L456 482M253 390L517 484M253 390L548 492M253 390L486 502M253 390L319 506M253 390L350 508M253 390L390 502M253 390L380 536M253 390L411 532M253 390L450 516"/>
<path d="M626 400L415 160M626 400L482 176M626 400L420 190M626 400L450 196M626 400L481 208M626 400L342 218M626 400L376 216M626 400L418 231M626 400L550 230M626 400L259 264M626 400L294 252M626 400L324 249M626 400L354 248M626 400L385 246M626 400L415 262M626 400L449 256M626 400L480 254M626 400L576 264M626 400L260 295M626 400L291 297M626 400L322 296M626 400L358 289M626 400L390 300M626 400L420 292M626 400L451 288M626 400L484 288M626 400L514 278M626 400L545 288M626 400L576 309M626 400L268 329M626 400L298 336M626 400L328 342M626 400L359 319M626 400L440 322M626 400L620 335M626 400L578 340M626 400L260 360M626 400L368 350M626 400L405 356M626 400L435 353M626 400L473 345M626 400L510 340M626 400L540 344M626 400L548 375M626 400L578 371M626 400L253 390M626 400L299 376M626 400L344 380M626 400L374 380M626 400L412 386M626 400L443 387M626 400L473 378M626 400L504 393M626 400L534 405M626 400L596 408M626 400L248 420M626 400L287 415M626 400L321 426M626 400L352 410M626 400L382 410M626 400L430 418M626 400L461 421M626 400L566 430M626 400L288 445M626 400L384 442M626 400L458 452M626 400L510 453M626 400L554 460M626 400L254 465M626 400L288 482M626 400L322 476M626 400L360 472M626 400L395 472M626 400L426 468M626 400L456 482M626 400L517 484M626 400L548 492M626 400L486 502M626 400L319 506M626 400L350 508M626 400L390 502M626 400L380 536M626 400L411 532M626 400L450 516M626 400L474 549M626 400L505 532M626 400L441 562"/>
<path d="M658 402L346 164M658 402L385 164M658 402L415 160M658 402L482 176M658 402L513 186M658 402L420 190M658 402L450 196M658 402L554 198M658 402L481 208M658 402L306 214M658 402L342 218M658 402L376 216M658 402L418 231M658 402L550 230M658 402L580 229M658 402L611 230M658 402L259 264M658 402L294 252M658 402L324 249M658 402L354 248M658 402L385 246M658 402L415 262M658 402L449 256M658 402L480 254M658 402L576 264M658 402L624 274M658 402L229 288M658 402L260 295M658 402L291 297M658 402L322 296M658 402L358 289M658 402L390 300M658 402L420 292M658 402L451 288M658 402L484 288M658 402L514 278M658 402L545 288M658 402L576 309M658 402L620 304M658 402L268 329M658 402L298 336M658 402L328 342M658 402L359 319M658 402L440 322M658 402L620 335M658 402L578 340M658 402L218 357M658 402L260 360M658 402L368 350M658 402L405 356M658 402L435 353M658 402L473 345M658 402L510 340M658 402L540 344M658 402L548 375M658 402L578 371M658 402L660 371M658 402L206 395M658 402L253 390M658 402L299 376M658 402L344 380M658 402L374 380M658 402L412 386M658 402L443 387M658 402L473 378M658 402L504 393M658 402L534 405M658 402L596 408M658 402L626 400M658 402L218 434M658 402L248 420M658 402L287 415M658 402L321 426M658 402L352 410M658 402L382 410M658 402L430 418M658 402L461 421M658 402L566 430M658 402L624 440M658 402L288 445M658 402L384 442M658 402L458 452M658 402L510 453M658 402L554 460M658 402L224 478M658 402L254 465M658 402L288 482M658 402L322 476M658 402L360 472M658 402L395 472M658 402L426 468M658 402L456 482M658 402L517 484M658 402L548 492M658 402L620 470M658 402L486 502M658 402L319 506M658 402L350 508M658 402L390 502M658 402L296 542M658 402L330 544M658 402L380 536M658 402L411 532M658 402L450 516M658 402L474 549M658 402L505 532M658 402L554 533M658 402L372 578M658 402L403 570M658 402L441 562M658 402L486 582"/>
<path d="M180 426L395 130M180 426L497 141M180 426L562 165M180 426L316 171M180 426L346 164M180 426L385 164M180 426L415 160M180 426L482 176M180 426L513 186M180 426L420 190M180 426L450 196M180 426L554 198M180 426L481 208M180 426L245 218M180 426L306 214M180 426L342 218M180 426L376 216M180 426L418 231M180 426L550 230M180 426L580 229M180 426L611 230M180 426L644 237M180 426L218 255M180 426L259 264M180 426L294 252M180 426L324 249M180 426L354 248M180 426L385 246M180 426L415 262M180 426L449 256M180 426L480 254M180 426L576 264M180 426L624 274M180 426L229 288M180 426L260 295M180 426L291 297M180 426L322 296M180 426L358 289M180 426L390 300M180 426L420 292M180 426L451 288M180 426L484 288M180 426L514 278M180 426L545 288M180 426L576 309M180 426L620 304M180 426L660 300M180 426L210 326M180 426L268 329M180 426L298 336M180 426L328 342M180 426L359 319M180 426L440 322M180 426L620 335M180 426L578 340M180 426L186 364M180 426L218 357M180 426L260 360M180 426L368 350M180 426L405 356M180 426L435 353M180 426L473 345M180 426L510 340M180 426L540 344M180 426L548 375M180 426L578 371M180 426L660 371M180 426L206 395M180 426L253 390M180 426L299 376M180 426L344 380M180 426L374 380M180 426L412 386M180 426L443 387M180 426L473 378M180 426L504 393M180 426L534 405M180 426L596 408M180 426L626 400M180 426L658 402M180 426L218 434M180 426L248 420M180 426L287 415M180 426L321 426M180 426L352 410M180 426L382 410M180 426L430 418M180 426L461 421M180 426L566 430M180 426L624 440M180 426L288 445M180 426L384 442M180 426L458 452M180 426L510 453M180 426L554 460M180 426L192 497M180 426L224 478M180 426L254 465M180 426L288 482M180 426L322 476M180 426L360 472M180 426L395 472M180 426L426 468M180 426L456 482M180 426L517 484M180 426L548 492M180 426L620 470M180 426L486 502M180 426L319 506M180 426L350 508M180 426L390 502M180 426L623 500M180 426L230 528M180 426L296 542M180 426L330 544M180 426L380 536M180 426L411 532M180 426L450 516M180 426L474 549M180 426L505 532M180 426L554 533M180 426L614 538M180 426L284 572M180 426L372 578M180 426L403 570M180 426L441 562M180 426L486 582M180 426L528 580M180 426L568 564M180 426L331 600M180 426L362 612M180 426L439 625M180 426L499 613"/>
<path d="M218 434L385 164M218 434L415 160M218 434L482 176M218 434L513 186M218 434L420 190M218 434L450 196M218 434L554 198M218 434L481 208M218 434L306 214M218 434L342 218M218 434L376 216M218 434L418 231M218 434L550 230M218 434L580 229M218 434L611 230M218 434L259 264M218 434L294 252M218 434L324 249M218 434L354 248M218 434L385 246M218 434L415 262M218 434L449 256M218 434L480 254M218 434L576 264M218 434L260 295M218 434L291 297M218 434L322 296M218 434L358 289M218 434L390 300M218 434L420 292M218 434L451 288M218 434L484 288M218 434L514 278M218 434L545 288M218 434L576 309M218 434L620 304M218 434L268 329M218 434L298 336M218 434L328 342M218 434L359 319M218 434L440 322M218 434L620 335M218 434L578 340M218 434L260 360M218 434L368 350M218 434L405 356M218 434L435 353M218 434L473 345M218 434L510 340M218 434L540 344M218 434L548 375M218 434L578 371M218 434L253 390M218 434L299 376M218 434L344 380M218 434L374 380M218 434L412 386M218 434L443 387M218 434L473 378M218 434L504 393M218 434L534 405M218 434L596 408M218 434L626 400M218 434L248 420M218 434L287 415M218 434L321 426M218 434L352 410M218 434L382 410M218 434L430 418M218 434L461 421M218 434L566 430M218 434L624 440M218 434L288 445M218 434L384 442M218 434L458 452M218 434L510 453M218 434L554 460M218 434L254 465M218 434L288 482M218 434L322 476M218 434L360 472M218 434L395 472M218 434L426 468M218 434L456 482M218 434L517 484M218 434L548 492M218 434L486 502M218 434L319 506M218 434L350 508M218 434L390 502M218 434L330 544M218 434L380 536M218 434L411 532M218 434L450 516M218 434L474 549M218 434L505 532M218 434L554 533M218 434L403 570M218 434L441 562"/>
<path d="M248 420L420 190M248 420L450 196M248 420L481 208M248 420L342 218M248 420L376 216M248 420L418 231M248 420L550 230M248 420L294 252M248 420L324 249M248 420L354 248M248 420L385 246M248 420L415 262M248 420L449 256M248 420L480 254M248 420L576 264M248 420L291 297M248 420L322 296M248 420L358 289M248 420L390 300M248 420L420 292M248 420L451 288M248 420L484 288M248 420L514 278M248 420L545 288M248 420L576 309M248 420L268 329M248 420L298 336M248 420L328 342M248 420L359 319M248 420L440 322M248 420L578 340M248 420L260 360M248 420L368 350M248 420L405 356M248 420L435 353M248 420L473 345M248 420L510 340M248 420L540 344M248 420L548 375M248 420L578 371M248 420L253 390M248 420L299 376M248 420L344 380M248 420L374 380M248 420L412 386M248 420L443 387M248 420L473 378M248 420L504 393M248 420L534 405M248 420L596 408M248 420L287 415M248 420L321 426M248 420L352 410M248 420L382 410M248 420L430 418M248 420L461 421M248 420L566 430M248 420L288 445M248 420L384 442M248 420L458 452M248 420L510 453M248 420L554 460M248 420L288 482M248 420L322 476M248 420L360 472M248 420L395 472M248 420L426 468M248 420L456 482M248 420L517 484M248 420L548 492M248 420L486 502M248 420L319 506M248 420L350 508M248 420L390 502M248 420L380 536M248 420L411 532M248 420L450 516M248 420L474 549"/>
<path d="M624 440L385 164M624 440L415 160M624 440L482 176M624 440L513 186M624 440L420 190M624 440L450 196M624 440L554 198M624 440L481 208M624 440L306 214M624 440L342 218M624 440L376 216M624 440L418 231M624 440L550 230M624 440L580 229M624 440L611 230M624 440L259 264M624 440L294 252M624 440L324 249M624 440L354 248M624 440L385 246M624 440L415 262M624 440L449 256M624 440L480 254M624 440L576 264M624 440L260 295M624 440L291 297M624 440L322 296M624 440L358 289M624 440L390 300M624 440L420 292M624 440L451 288M624 440L484 288M624 440L514 278M624 440L545 288M624 440L576 309M624 440L620 304M624 440L268 329M624 440L298 336M624 440L328 342M624 440L359 319M624 440L440 322M624 440L620 335M624 440L578 340M624 440L260 360M624 440L368 350M624 440L405 356M624 440L435 353M624 440L473 345M624 440L510 340M624 440L540 344M624 440L548 375M624 440L578 371M624 440L253 390M624 440L299 376M624 440L344 380M624 440L374 380M624 440L412 386M624 440L443 387M624 440L473 378M624 440L504 393M624 440L534 405M624 440L596 408M624 440L626 400M624 440L248 420M624 440L287 415M624 440L321 426M624 440L352 410M624 440L382 410M624 440L430 418M624 440L461 421M624 440L566 430M624 440L288 445M624 440L384 442M624 440L458 452M624 440L510 453M624 440L554 460M624 440L254 465M624 440L288 482M624 440L322 476M624 440L360 472M624 440L395 472M624 440L426 468M624 440L456 482M624 440L517 484M624 440L548 492M624 440L486 502M624 440L319 506M624 440L350 508M624 440L390 502M624 440L330 544M624 440L380 536M624 440L411 532M624 440L450 516M624 440L474 549M624 440L505 532M624 440L554 533M624 440L403 570M624 440L441 562"/>
<path d="M192 497L395 130M192 497L497 141M192 497L562 165M192 497L316 171M192 497L346 164M192 497L385 164M192 497L415 160M192 497L482 176M192 497L513 186M192 497L420 190M192 497L450 196M192 497L554 198M192 497L481 208M192 497L245 218M192 497L306 214M192 497L342 218M192 497L376 216M192 497L418 231M192 497L550 230M192 497L580 229M192 497L611 230M192 497L644 237M192 497L218 255M192 497L259 264M192 497L294 252M192 497L324 249M192 497L354 248M192 497L385 246M192 497L415 262M192 497L449 256M192 497L480 254M192 497L576 264M192 497L624 274M192 497L229 288M192 497L260 295M192 497L291 297M192 497L322 296M192 497L358 289M192 497L390 300M192 497L420 292M192 497L451 288M192 497L484 288M192 497L514 278M192 497L545 288M192 497L576 309M192 497L620 304M192 497L660 300M192 497L210 326M192 497L268 329M192 497L298 336M192 497L328 342M192 497L359 319M192 497L440 322M192 497L620 335M192 497L578 340M192 497L186 364M192 497L218 357M192 497L260 360M192 497L368 350M192 497L405 356M192 497L435 353M192 497L473 345M192 497L510 340M192 497L540 344M192 497L548 375M192 497L578 371M192 497L660 371M192 497L206 395M192 497L253 390M192 497L299 376M192 497L344 380M192 497L374 380M192 497L412 386M192 497L443 387M192 497L473 378M192 497L504 393M192 497L534 405M192 497L596 408M192 497L626 400M192 497L658 402M192 497L218 434M192 497L248 420M192 497L287 415M192 497L321 426M192 497L352 410M192 497L382 410M192 497L430 418M192 497L461 421M192 497L566 430M192 497L624 440M192 497L288 445M192 497L384 442M192 497L458 452M192 497L510 453M192 497L554 460M192 497L224 478M192 497L254 465M192 497L288 482M192 497L322 476M192 497L360 472M192 497L395 472M192 497L426 468M192 497L456 482M192 497L517 484M192 497L548 492M192 497L620 470M192 497L486 502M192 497L319 506M192 497L350 508M192 497L390 502M192 497L623 500M192 497L230 528M192 497L296 542M192 497L330 544M192 497L380 536M192 497L411 532M192 497L450 516M192 497L474 549M192 497L505 532M192 497L554 533M192 497L614 538M192 497L284 572M192 497L372 578M192 497L403 570M192 497L441 562M192 497L486 582M192 497L528 580M192 497L568 564M192 497L331 600M192 497L362 612M192 497L439 625M192 497L499 613"/>
<path d="M224 478L385 164M224 478L415 160M224 478L482 176M224 478L513 186M224 478L420 190M224 478L450 196M224 478L554 198M224 478L481 208M224 478L306 214M224 478L342 218M224 478L376 216M224 478L418 231M224 478L550 230M224 478L580 229M224 478L611 230M224 478L259 264M224 478L294 252M224 478L324 249M224 478L354 248M224 478L385 246M224 478L415 262M224 478L449 256M224 478L480 254M224 478L576 264M224 478L624 274M224 478L260 295M224 478L291 297M224 478L322 296M224 478L358 289M224 478L390 300M224 478L420 292M224 478L451 288M224 478L484 288M224 478L514 278M224 478L545 288M224 478L576 309M224 478L620 304M224 478L268 329M224 478L298 336M224 478L328 342M224 478L359 319M224 478L440 322M224 478L620 335M224 478L578 340M224 478L260 360M224 478L368 350M224 478L405 356M224 478L435 353M224 478L473 345M224 478L510 340M224 478L540 344M224 478L548 375M224 478L578 371M224 478L253 390M224 478L299 376M224 478L344 380M224 478L374 380M224 478L412 386M224 478L443 387M224 478L473 378M224 478L504 393M224 478L534 405M224 478L596 408M224 478L626 400M224 478L218 434M224 478L248 420M224 478L287 415M224 478L321 426M224 478L352 410M224 478L382 410M224 478L430 418M224 478L461 421M224 478L566 430M224 478L624 440M224 478L288 445M224 478L384 442M224 478L458 452M224 478L510 453M224 478L554 460M224 478L254 465M224 478L288 482M224 478L322 476M224 478L360 472M224 478L395 472M224 478L426 468M224 478L456 482M224 478L517 484M224 478L548 492M224 478L486 502M224 478L319 506M224 478L350 508M224 478L390 502M224 478L330 544M224 478L380 536M224 478L411 532M224 478L450 516M224 478L474 549M224 478L505 532M224 478L554 533M224 478L372 578M224 478L403 570M224 478L441 562"/>
<path d="M254 465L420 190M254 465L450 196M254 465L481 208M254 465L342 218M254 465L376 216M254 465L418 231M254 465L550 230M254 465L294 252M254 465L324 249M254 465L354 248M254 465L385 246M254 465L415 262M254 465L449 256M254 465L480 254M254 465L576 264M254 465L260 295M254 465L291 297M254 465L322 296M254 465L358 289M254 465L390 300M254 465L420 292M254 465L451 288M254 465L484 288M254 465L514 278M254 465L545 288M254 465L576 309M254 465L268 329M254 465L298 336M254 465L328 342M254 465L359 319M254 465L440 322M254 465L578 340M254 465L260 360M254 465L368 350M254 465L405 356M254 465L435 353M254 465L473 345M254 465L510 340M254 465L540 344M254 465L548 375M254 465L578 371M254 465L253 390M254 465L299 376M254 465L344 380M254 465L374 380M254 465L412 386M254 465L443 387M254 465L473 378M254 465L504 393M254 465L534 405M254 465L596 408M254 465L248 420M254 465L287 415M254 465L321 426M254 465L352 410M254 465L382 410M254 465L430 418M254 465L461 421M254 465L566 430M254 465L288 445M254 465L384 442M254 465L458 452M254 465L510 453M254 465L554 460M254 465L288 482M254 465L322 476M254 465L360 472M254 465L395 472M254 465L426 468M254 465L456 482M254 465L517 484M254 465L548 492M254 465L486 502M254 465L319 506M254 465L350 508M254 465L390 502M254 465L380 536M254 465L411 532M254 465L450 516M254 465L474 549M254 465L505 532"/>
<path d="M288 482L420 190M288 482L450 196M288 482L481 208M288 482L376 216M288 482L418 231M288 482L324 249M288 482L354 248M288 482L385 246M288 482L415 262M288 482L449 256M288 482L480 254M288 482L576 264M288 482L291 297M288 482L322 296M288 482L358 289M288 482L390 300M288 482L420 292M288 482L451 288M288 482L484 288M288 482L514 278M288 482L545 288M288 482L576 309M288 482L268 329M288 482L298 336M288 482L328 342M288 482L359 319M288 482L440 322M288 482L578 340M288 482L260 360M288 482L368 350M288 482L405 356M288 482L435 353M288 482L473 345M288 482L510 340M288 482L540 344M288 482L548 375M288 482L578 371M288 482L299 376M288 482L344 380M288 482L374 380M288 482L412 386M288 482L443 387M288 482L473 378M288 482L504 393M288 482L534 405M288 482L596 408M288 482L287 415M288 482L321 426M288 482L352 410M288 482L382 410M288 482L430 418M288 482L461 421M288 482L566 430M288 482L288 445M288 482L384 442M288 482L458 452M288 482L510 453M288 482L554 460M288 482L322 476M288 482L360 472M288 482L395 472M288 482L426 468M288 482L456 482M288 482L517 484M288 482L548 492M288 482L486 502M288 482L350 508M288 482L390 502M288 482L380 536M288 482L411 532M288 482L450 516"/>
<path d="M620 470L385 164M620 470L415 160M620 470L482 176M620 470L513 186M620 470L420 190M620 470L450 196M620 470L554 198M620 470L481 208M620 470L306 214M620 470L342 218M620 470L376 216M620 470L418 231M620 470L550 230M620 470L580 229M620 470L611 230M620 470L259 264M620 470L294 252M620 470L324 249M620 470L354 248M620 470L385 246M620 470L415 262M620 470L449 256M620 470L480 254M620 470L576 264M620 470L624 274M620 470L229 288M620 470L260 295M620 470L291 297M620 470L322 296M620 470L358 289M620 470L390 300M620 470L420 292M620 470L451 288M620 470L484 288M620 470L514 278M620 470L545 288M620 470L576 309M620 470L620 304M620 470L268 329M620 470L298 336M620 470L328 342M620 470L359 319M620 470L440 322M620 470L620 335M620 470L578 340M620 470L218 357M620 470L260 360M620 470L368 350M620 470L405 356M620 470L435 353M620 470L473 345M620 470L510 340M620 470L540 344M620 470L548 375M620 470L578 371M620 470L253 390M620 470L299 376M620 470L344 380M620 470L374 380M620 470L412 386M620 470L443 387M620 470L473 378M620 470L504 393M620 470L534 405M620 470L596 408M620 470L626 400M620 470L218 434M620 470L248 420M620 470L287 415M620 470L321 426M620 470L352 410M620 470L382 410M620 470L430 418M620 470L461 421M620 470L566 430M620 470L624 440M620 470L288 445M620 470L384 442M620 470L458 452M620 470L510 453M620 470L554 460M620 470L224 478M620 470L254 465M620 470L288 482M620 470L322 476M620 470L360 472M620 470L395 472M620 470L426 468M620 470L456 482M620 470L517 484M620 470L548 492M620 470L486 502M620 470L319 506M620 470L350 508M620 470L390 502M620 470L296 542M620 470L330 544M620 470L380 536M620 470L411 532M620 470L450 516M620 470L474 549M620 470L505 532M620 470L554 533M620 470L372 578M620 470L403 570M620 470L441 562M620 470L486 582"/>
<path d="M319 506L420 190M319 506L450 196M319 506L481 208M319 506L376 216M319 506L418 231M319 506L324 249M319 506L354 248M319 506L385 246M319 506L415 262M319 506L449 256M319 506L480 254M319 506L576 264M319 506L291 297M319 506L322 296M319 506L358 289M319 506L390 300M319 506L420 292M319 506L451 288M319 506L484 288M319 506L514 278M319 506L545 288M319 506L576 309M319 506L268 329M319 506L298 336M319 506L328 342M319 506L359 319M319 506L440 322M319 506L578 340M319 506L260 360M319 506L368 350M319 506L405 356M319 506L435 353M319 506L473 345M319 506L510 340M319 506L540 344M319 506L548 375M319 506L578 371M319 506L299 376M319 506L344 380M319 506L374 380M319 506L412 386M319 506L443 387M319 506L473 378M319 506L504 393M319 506L534 405M319 506L596 408M319 506L287 415M319 506L321 426M319 506L352 410M319 506L382 410M319 506L430 418M319 506L461 421M319 506L566 430M319 506L288 445M319 506L384 442M319 506L458 452M319 506L510 453M319 506L554 460M319 506L288 482M319 506L322 476M319 506L360 472M319 506L395 472M319 506L426 468M319 506L456 482M319 506L517 484M319 506L548 492M319 506L486 502M319 506L350 508M319 506L390 502M319 506L380 536M319 506L411 532M319 506L450 516"/>
<path d="M623 500L395 130M623 500L497 141M623 500L316 171M623 500L346 164M623 500L385 164M623 500L415 160M623 500L482 176M623 500L513 186M623 500L420 190M623 500L450 196M623 500L554 198M623 500L481 208M623 500L245 218M623 500L306 214M623 500L342 218M623 500L376 216M623 500L418 231M623 500L550 230M623 500L580 229M623 500L611 230M623 500L218 255M623 500L259 264M623 500L294 252M623 500L324 249M623 500L354 248M623 500L385 246M623 500L415 262M623 500L449 256M623 500L480 254M623 500L576 264M623 500L624 274M623 500L229 288M623 500L260 295M623 500L291 297M623 500L322 296M623 500L358 289M623 500L390 300M623 500L420 292M623 500L451 288M623 500L484 288M623 500L514 278M623 500L545 288M623 500L576 309M623 500L620 304M623 500L210 326M623 500L268 329M623 500L298 336M623 500L328 342M623 500L359 319M623 500L440 322M623 500L620 335M623 500L578 340M623 500L218 357M623 500L260 360M623 500L368 350M623 500L405 356M623 500L435 353M623 500L473 345M623 500L510 340M623 500L540 344M623 500L548 375M623 500L578 371M623 500L660 371M623 500L206 395M623 500L253 390M623 500L299 376M623 500L344 380M623 500L374 380M623 500L412 386M623 500L443 387M623 500L473 378M623 500L504 393M623 500L534 405M623 500L596 408M623 500L626 400M623 500L658 402M623 500L218 434M623 500L248 420M623 500L287 415M623 500L321 426M623 500L352 410M623 500L382 410M623 500L430 418M623 500L461 421M623 500L566 430M623 500L624 440M623 500L288 445M623 500L384 442M623 500L458 452M623 500L510 453M623 500L554 460M623 500L224 478M623 500L254 465M623 500L288 482M623 500L322 476M623 500L360 472M623 500L395 472M623 500L426 468M623 500L456 482M623 500L517 484M623 500L548 492M623 500L620 470M623 500L486 502M623 500L319 506M623 500L350 508M623 500L390 502M623 500L296 542M623 500L330 544M623 500L380 536M623 500L411 532M623 500L450 516M623 500L474 549M623 500L505 532M623 500L554 533M623 500L372 578M623 500L403 570M623 500L441 562M623 500L486 582M623 500L528 580"/>
<path d="M230 528L395 130M230 528L497 141M230 528L562 165M230 528L316 171M230 528L346 164M230 528L385 164M230 528L415 160M230 528L482 176M230 528L513 186M230 528L420 190M230 528L450 196M230 528L554 198M230 528L481 208M230 528L245 218M230 528L306 214M230 528L342 218M230 528L376 216M230 528L418 231M230 528L550 230M230 528L580 229M230 528L611 230M230 528L644 237M230 528L218 255M230 528L259 264M230 528L294 252M230 528L324 249M230 528L354 248M230 528L385 246M230 528L415 262M230 528L449 256M230 528L480 254M230 528L576 264M230 528L624 274M230 528L229 288M230 528L260 295M230 528L291 297M230 528L322 296M230 528L358 289M230 528L390 300M230 528L420 292M230 528L451 288M230 528L484 288M230 528L514 278M230 528L545 288M230 528L576 309M230 528L620 304M230 528L660 300M230 528L210 326M230 528L268 329M230 528L298 336M230 528L328 342M230 528L359 319M230 528L440 322M230 528L620 335M230 528L578 340M230 528L218 357M230 528L260 360M230 528L368 350M230 528L405 356M230 528L435 353M230 528L473 345M230 528L510 340M230 528L540 344M230 528L548 375M230 528L578 371M230 528L660 371M230 528L206 395M230 528L253 390M230 528L299 376M230 528L344 380M230 528L374 380M230 528L412 386M230 528L443 387M230 528L473 378M230 528L504 393M230 528L534 405M230 528L596 408M230 528L626 400M230 528L658 402M230 528L218 434M230 528L248 420M230 528L287 415M230 528L321 426M230 528L352 410M230 528L382 410M230 528L430 418M230 528L461 421M230 528L566 430M230 528L624 440M230 528L288 445M230 528L384 442M230 528L458 452M230 528L510 453M230 528L554 460M230 528L224 478M230 528L254 465M230 528L288 482M230 528L322 476M230 528L360 472M230 528L395 472M230 528L426 468M230 528L456 482M230 528L517 484M230 528L548 492M230 528L620 470M230 528L486 502M230 528L319 506M230 528L350 508M230 528L390 502M230 528L623 500M230 528L296 542M230 528L330 544M230 528L380 536M230 528L411 532M230 528L450 516M230 528L474 549M230 528L505 532M230 528L554 533M230 528L372 578M230 528L403 570M230 528L441 562M230 528L486 582M230 528L528 580M230 528L568 564"/>
<path d="M296 542L385 164M296 542L415 160M296 542L482 176M296 542L513 186M296 542L420 190M296 542L450 196M296 542L554 198M296 542L481 208M296 542L306 214M296 542L342 218M296 542L376 216M296 542L418 231M296 542L550 230M296 542L580 229M296 542L611 230M296 542L259 264M296 542L294 252M296 542L324 249M296 542L354 248M296 542L385 246M296 542L415 262M296 542L449 256M296 542L480 254M296 542L576 264M296 542L624 274M296 542L229 288M296 542L260 295M296 542L291 297M296 542L322 296M296 542L358 289M296 542L390 300M296 542L420 292M296 542L451 288M296 542L484 288M296 542L514 278M296 542L545 288M296 542L576 309M296 542L620 304M296 542L268 329M296 542L298 336M296 542L328 342M296 542L359 319M296 542L440 322M296 542L620 335M296 542L578 340M296 542L260 360M296 542L368 350M296 542L405 356M296 542L435 353M296 542L473 345M296 542L510 340M296 542L540 344M296 542L548 375M296 542L578 371M296 542L253 390M296 542L299 376M296 542L344 380M296 542L374 380M296 542L412 386M296 542L443 387M296 542L473 378M296 542L504 393M296 542L534 405M296 542L596 408M296 542L626 400M296 542L218 434M296 542L248 420M296 542L287 415M296 542L321 426M296 542L352 410M296 542L382 410M296 542L430 418M296 542L461 421M296 542L566 430M296 542L624 440M296 542L288 445M296 542L384 442M296 542L458 452M296 542L510 453M296 542L554 460M296 542L224 478M296 542L254 465M296 542L288 482M296 542L322 476M296 542L360 472M296 542L395 472M296 542L426 468M296 542L456 482M296 542L517 484M296 542L548 492M296 542L486 502M296 542L319 506M296 542L350 508M296 542L390 502M296 542L330 544M296 542L380 536M296 542L411 532M296 542L450 516M296 542L474 549M296 542L505 532M296 542L554 533M296 542L372 578M296 542L403 570M296 542L441 562M296 542L486 582"/>
<path d="M330 544L415 160M330 544L482 176M330 544L513 186M330 544L420 190M330 544L450 196M330 544L481 208M330 544L342 218M330 544L376 216M330 544L418 231M330 544L550 230M330 544L580 229M330 544L259 264M330 544L294 252M330 544L324 249M330 544L354 248M330 544L385 246M330 544L415 262M330 544L449 256M330 544L480 254M330 544L576 264M330 544L260 295M330 544L291 297M330 544L322 296M330 544L358 289M330 544L390 300M330 544L420 292M330 544L451 288M330 544L484 288M330 544L514 278M330 544L545 288M330 544L576 309M330 544L268 329M330 544L298 336M330 544L328 342M330 544L359 319M330 544L440 322M330 544L620 335M330 544L578 340M330 544L260 360M330 544L368 350M330 544L405 356M330 544L435 353M330 544L473 345M330 544L510 340M330 544L540 344M330 544L548 375M330 544L578 371M330 544L253 390M330 544L299 376M330 544L344 380M330 544L374 380M330 544L412 386M330 544L443 387M330 544L473 378M330 544L504 393M330 544L534 405M330 544L596 408M330 544L626 400M330 544L248 420M330 544L287 415M330 544L321 426M330 544L352 410M330 544L382 410M330 544L430 418M330 544L461 421M330 544L566 430M330 544L288 445M330 544L384 442M330 544L458 452M330 544L510 453M330 544L554 460M330 544L254 465M330 544L288 482M330 544L322 476M330 544L360 472M330 544L395 472M330 544L426 468M330 544L456 482M330 544L517 484M330 544L548 492M330 544L486 502M330 544L319 506M330 544L350 508M330 544L390 502M330 544L380 536M330 544L411 532M330 544L450 516M330 544L474 549M330 544L505 532M330 544L403 570M330 544L441 562"/>
<path d="M474 549L420 190M474 549L450 196M474 549L481 208M474 549L342 218M474 549L376 216M474 549L418 231M474 549L550 230M474 549L294 252M474 549L324 249M474 549L354 248M474 549L385 246M474 549L415 262M474 549L449 256M474 549L480 254M474 549L576 264M474 549L291 297M474 549L322 296M474 549L358 289M474 549L390 300M474 549L420 292M474 549L451 288M474 549L484 288M474 549L514 278M474 549L545 288M474 549L576 309M474 549L268 329M474 549L298 336M474 549L328 342M474 549L359 319M474 549L440 322M474 549L578 340M474 549L260 360M474 549L368 350M474 549L405 356M474 549L435 353M474 549L473 345M474 549L510 340M474 549L540 344M474 549L548 375M474 549L578 371M474 549L253 390M474 549L299 376M474 549L344 380M474 549L374 380M474 549L412 386M474 549L443 387M474 549L473 378M474 549L504 393M474 549L534 405M474 549L596 408M474 549L287 415M474 549L321 426M474 549L352 410M474 549L382 410M474 549L430 418M474 549L461 421M474 549L566 430M474 549L288 445M474 549L384 442M474 549L458 452M474 549L510 453M474 549L554 460M474 549L288 482M474 549L322 476M474 549L360 472M474 549L395 472M474 549L426 468M474 549L456 482M474 549L517 484M474 549L548 492M474 549L486 502M474 549L319 506M474 549L350 508M474 549L390 502M474 549L380 536M474 549L411 532M474 549L450 516"/>
<path d="M505 532L420 190M505 532L450 196M505 532L481 208M505 532L342 218M505 532L376 216M505 532L418 231M505 532L550 230M505 532L294 252M505 532L324 249M505 532L354 248M505 532L385 246M505 532L415 262M505 532L449 256M505 532L480 254M505 532L576 264M505 532L291 297M505 532L322 296M505 532L358 289M505 532L390 300M505 532L420 292M505 532L451 288M505 532L484 288M505 532L514 278M505 532L545 288M505 532L576 309M505 532L268 329M505 532L298 336M505 532L328 342M505 532L359 319M505 532L440 322M505 532L578 340M505 532L260 360M505 532L368 350M505 532L405 356M505 532L435 353M505 532L473 345M505 532L510 340M505 532L540 344M505 532L548 375M505 532L578 371M505 532L253 390M505 532L299 376M505 532L344 380M505 532L374 380M505 532L412 386M505 532L443 387M505 532L473 378M505 532L504 393M505 532L534 405M505 532L596 408M505 532L248 420M505 532L287 415M505 532L321 426M505 532L352 410M505 532L382 410M505 532L430 418M505 532L461 421M505 532L566 430M505 532L288 445M505 532L384 442M505 532L458 452M505 532L510 453M505 532L554 460M505 532L288 482M505 532L322 476M505 532L360 472M505 532L395 472M505 532L426 468M505 532L456 482M505 532L517 484M505 532L548 492M505 532L486 502M505 532L319 506M505 532L350 508M505 532L390 502M505 532L380 536M505 532L411 532M505 532L450 516M505 532L474 549"/>
<path d="M554 533L385 164M554 533L415 160M554 533L482 176M554 533L513 186M554 533L420 190M554 533L450 196M554 533L554 198M554 533L481 208M554 533L306 214M554 533L342 218M554 533L376 216M554 533L418 231M554 533L550 230M554 533L580 229M554 533L259 264M554 533L294 252M554 533L324 249M554 533L354 248M554 533L385 246M554 533L415 262M554 533L449 256M554 533L480 254M554 533L576 264M554 533L260 295M554 533L291 297M554 533L322 296M554 533L358 289M554 533L390 300M554 533L420 292M554 533L451 288M554 533L484 288M554 533L514 278M554 533L545 288M554 533L576 309M554 533L620 304M554 533L268 329M554 533L298 336M554 533L328 342M554 533L359 319M554 533L440 322M554 533L620 335M554 533L578 340M554 533L260 360M554 533L368 350M554 533L405 356M554 533L435 353M554 533L473 345M554 533L510 340M554 533L540 344M554 533L548 375M554 533L578 371M554 533L253 390M554 533L299 376M554 533L344 380M554 533L374 380M554 533L412 386M554 533L443 387M554 533L473 378M554 533L504 393M554 533L534 405M554 533L596 408M554 533L626 400M554 533L248 420M554 533L287 415M554 533L321 426M554 533L352 410M554 533L382 410M554 533L430 418M554 533L461 421M554 533L566 430M554 533L288 445M554 533L384 442M554 533L458 452M554 533L510 453M554 533L554 460M554 533L254 465M554 533L288 482M554 533L322 476M554 533L360 472M554 533L395 472M554 533L426 468M554 533L456 482M554 533L517 484M554 533L548 492M554 533L486 502M554 533L319 506M554 533L350 508M554 533L390 502M554 533L330 544M554 533L380 536M554 533L411 532M554 533L450 516M554 533L474 549M554 533L505 532M554 533L403 570M554 533L441 562"/>
<path d="M614 538L395 130M614 538L497 141M614 538L562 165M614 538L316 171M614 538L346 164M614 538L385 164M614 538L415 160M614 538L482 176M614 538L513 186M614 538L420 190M614 538L450 196M614 538L554 198M614 538L481 208M614 538L245 218M614 538L306 214M614 538L342 218M614 538L376 216M614 538L418 231M614 538L550 230M614 538L580 229M614 538L611 230M614 538L644 237M614 538L218 255M614 538L259 264M614 538L294 252M614 538L324 249M614 538L354 248M614 538L385 246M614 538L415 262M614 538L449 256M614 538L480 254M614 538L576 264M614 538L624 274M614 538L229 288M614 538L260 295M614 538L291 297M614 538L322 296M614 538L358 289M614 538L390 300M614 538L420 292M614 538L451 288M614 538L484 288M614 538L514 278M614 538L545 288M614 538L576 309M614 538L620 304M614 538L660 300M614 538L210 326M614 538L268 329M614 538L298 336M614 538L328 342M614 538L359 319M614 538L440 322M614 538L620 335M614 538L578 340M614 538L186 364M614 538L218 357M614 538L260 360M614 538L368 350M614 538L405 356M614 538L435 353M614 538L473 345M614 538L510 340M614 538L540 344M614 538L548 375M614 538L578 371M614 538L660 371M614 538L206 395M614 538L253 390M614 538L299 376M614 538L344 380M614 538L374 380M614 538L412 386M614 538L443 387M614 538L473 378M614 538L504 393M614 538L534 405M614 538L596 408M614 538L626 400M614 538L658 402M614 538L218 434M614 538L248 420M614 538L287 415M614 538L321 426M614 538L352 410M614 538L382 410M614 538L430 418M614 538L461 421M614 538L566 430M614 538L624 440M614 538L288 445M614 538L384 442M614 538L458 452M614 538L510 453M614 538L554 460M614 538L224 478M614 538L254 465M614 538L288 482M614 538L322 476M614 538L360 472M614 538L395 472M614 538L426 468M614 538L456 482M614 538L517 484M614 538L548 492M614 538L620 470M614 538L486 502M614 538L319 506M614 538L350 508M614 538L390 502M614 538L623 500M614 538L230 528M614 538L296 542M614 538L330 544M614 538L380 536M614 538L411 532M614 538L450 516M614 538L474 549M614 538L505 532M614 538L554 533M614 538L284 572M614 538L372 578M614 538L403 570M614 538L441 562M614 538L486 582M614 538L528 580M614 538L568 564M614 538L331 600M614 538L362 612M614 538L439 625M614 538L499 613"/>
<path d="M284 572L395 130M284 572L497 141M284 572L562 165M284 572L316 171M284 572L346 164M284 572L385 164M284 572L415 160M284 572L482 176M284 572L513 186M284 572L420 190M284 572L450 196M284 572L554 198M284 572L481 208M284 572L245 218M284 572L306 214M284 572L342 218M284 572L376 216M284 572L418 231M284 572L550 230M284 572L580 229M284 572L611 230M284 572L644 237M284 572L218 255M284 572L259 264M284 572L294 252M284 572L324 249M284 572L354 248M284 572L385 246M284 572L415 262M284 572L449 256M284 572L480 254M284 572L576 264M284 572L624 274M284 572L229 288M284 572L260 295M284 572L291 297M284 572L322 296M284 572L358 289M284 572L390 300M284 572L420 292M284 572L451 288M284 572L484 288M284 572L514 278M284 572L545 288M284 572L576 309M284 572L620 304M284 572L660 300M284 572L210 326M284 572L268 329M284 572L298 336M284 572L328 342M284 572L359 319M284 572L440 322M284 572L620 335M284 572L578 340M284 572L186 364M284 572L218 357M284 572L260 360M284 572L368 350M284 572L405 356M284 572L435 353M284 572L473 345M284 572L510 340M284 572L540 344M284 572L548 375M284 572L578 371M284 572L660 371M284 572L206 395M284 572L253 390M284 572L299 376M284 572L344 380M284 572L374 380M284 572L412 386M284 572L443 387M284 572L473 378M284 572L504 393M284 572L534 405M284 572L596 408M284 572L626 400M284 572L658 402M284 572L218 434M284 572L248 420M284 572L287 415M284 572L321 426M284 572L352 410M284 572L382 410M284 572L430 418M284 572L461 421M284 572L566 430M284 572L624 440M284 572L288 445M284 572L384 442M284 572L458 452M284 572L510 453M284 572L554 460M284 572L224 478M284 572L254 465M284 572L288 482M284 572L322 476M284 572L360 472M284 572L395 472M284 572L426 468M284 572L456 482M284 572L517 484M284 572L548 492M284 572L620 470M284 572L486 502M284 572L319 506M284 572L350 508M284 572L390 502M284 572L623 500M284 572L230 528M284 572L296 542M284 572L330 544M284 572L380 536M284 572L411 532M284 572L450 516M284 572L474 549M284 572L505 532M284 572L554 533M284 572L372 578M284 572L403 570M284 572L441 562M284 572L486 582M284 572L528 580M284 572L568 564M284 572L331 600M284 572L362 612M284 572L439 625M284 572L499 613"/>
<path d="M372 578L385 164M372 578L415 160M372 578L482 176M372 578L513 186M372 578L420 190M372 578L450 196M372 578L554 198M372 578L481 208M372 578L306 214M372 578L342 218M372 578L376 216M372 578L418 231M372 578L550 230M372 578L580 229M372 578L611 230M372 578L259 264M372 578L294 252M372 578L324 249M372 578L354 248M372 578L385 246M372 578L415 262M372 578L449 256M372 578L480 254M372 578L576 264M372 578L624 274M372 578L260 295M372 578L291 297M372 578L322 296M372 578L358 289M372 578L390 300M372 578L420 292M372 578L451 288M372 578L484 288M372 578L514 278M372 578L545 288M372 578L576 309M372 578L620 304M372 578L268 329M372 578L298 336M372 578L328 342M372 578L359 319M372 578L440 322M372 578L620 335M372 578L578 340M372 578L260 360M372 578L368 350M372 578L405 356M372 578L435 353M372 578L473 345M372 578L510 340M372 578L540 344M372 578L548 375M372 578L578 371M372 578L253 390M372 578L299 376M372 578L344 380M372 578L374 380M372 578L412 386M372 578L443 387M372 578L473 378M372 578L504 393M372 578L534 405M372 578L596 408M372 578L626 400M372 578L218 434M372 578L248 420M372 578L287 415M372 578L321 426M372 578L352 410M372 578L382 410M372 578L430 418M372 578L461 421M372 578L566 430M372 578L624 440M372 578L288 445M372 578L384 442M372 578L458 452M372 578L510 453M372 578L554 460M372 578L254 465M372 578L288 482M372 578L322 476M372 578L360 472M372 578L395 472M372 578L426 468M372 578L456 482M372 578L517 484M372 578L548 492M372 578L486 502M372 578L319 506M372 578L350 508M372 578L390 502M372 578L330 544M372 578L380 536M372 578L411 532M372 578L450 516M372 578L474 549M372 578L505 532M372 578L554 533M372 578L403 570M372 578L441 562"/>
<path d="M403 570L415 160M403 570L482 176M403 570L513 186M403 570L420 190M403 570L450 196M403 570L481 208M403 570L342 218M403 570L376 216M403 570L418 231M403 570L550 230M403 570L580 229M403 570L259 264M403 570L294 252M403 570L324 249M403 570L354 248M403 570L385 246M403 570L415 262M403 570L449 256M403 570L480 254M403 570L576 264M403 570L260 295M403 570L291 297M403 570L322 296M403 570L358 289M403 570L390 300M403 570L420 292M403 570L451 288M403 570L484 288M403 570L514 278M403 570L545 288M403 570L576 309M403 570L268 329M403 570L298 336M403 570L328 342M403 570L359 319M403 570L440 322M403 570L620 335M403 570L578 340M403 570L260 360M403 570L368 350M403 570L405 356M403 570L435 353M403 570L473 345M403 570L510 340M403 570L540 344M403 570L548 375M403 570L578 371M403 570L253 390M403 570L299 376M403 570L344 380M403 570L374 380M403 570L412 386M403 570L443 387M403 570L473 378M403 570L504 393M403 570L534 405M403 570L596 408M403 570L626 400M403 570L248 420M403 570L287 415M403 570L321 426M403 570L352 410M403 570L382 410M403 570L430 418M403 570L461 421M403 570L566 430M403 570L288 445M403 570L384 442M403 570L458 452M403 570L510 453M403 570L554 460M403 570L254 465M403 570L288 482M403 570L322 476M403 570L360 472M403 570L395 472M403 570L426 468M403 570L456 482M403 570L517 484M403 570L548 492M403 570L486 502M403 570L319 506M403 570L350 508M403 570L390 502M403 570L380 536M403 570L411 532M403 570L450 516M403 570L474 549M403 570L505 532M403 570L441 562"/>
<path d="M441 562L420 190M441 562L450 196M441 562L481 208M441 562L342 218M441 562L376 216M441 562L418 231M441 562L550 230M441 562L294 252M441 562L324 249M441 562L354 248M441 562L385 246M441 562L415 262M441 562L449 256M441 562L480 254M441 562L576 264M441 562L260 295M441 562L291 297M441 562L322 296M441 562L358 289M441 562L390 300M441 562L420 292M441 562L451 288M441 562L484 288M441 562L514 278M441 562L545 288M441 562L576 309M441 562L268 329M441 562L298 336M441 562L328 342M441 562L359 319M441 562L440 322M441 562L578 340M441 562L260 360M441 562L368 350M441 562L405 356M441 562L435 353M441 562L473 345M441 562L510 340M441 562L540 344M441 562L548 375M441 562L578 371M441 562L253 390M441 562L299 376M441 562L344 380M441 562L374 380M441 562L412 386M441 562L443 387M441 562L473 378M441 562L504 393M441 562L534 405M441 562L596 408M441 562L248 420M441 562L287 415M441 562L321 426M441 562L352 410M441 562L382 410M441 562L430 418M441 562L461 421M441 562L566 430M441 562L288 445M441 562L384 442M441 562L458 452M441 562L510 453M441 562L554 460M441 562L254 465M441 562L288 482M441 562L322 476M441 562L360 472M441 562L395 472M441 562L426 468M441 562L456 482M441 562L517 484M441 562L548 492M441 562L486 502M441 562L319 506M441 562L350 508M441 562L390 502M441 562L380 536M441 562L411 532M441 562L450 516M441 562L474 549M441 562L505 532"/>
<path d="M486 582L385 164M486 582L415 160M486 582L482 176M486 582L513 186M486 582L420 190M486 582L450 196M486 582L554 198M486 582L481 208M486 582L306 214M486 582L342 218M486 582L376 216M486 582L418 231M486 582L550 230M486 582L580 229M486 582L611 230M486 582L259 264M486 582L294 252M486 582L324 249M486 582L354 248M486 582L385 246M486 582L415 262M486 582L449 256M486 582L480 254M486 582L576 264M486 582L624 274M486 582L260 295M486 582L291 297M486 582L322 296M486 582L358 289M486 582L390 300M486 582L420 292M486 582L451 288M486 582L484 288M486 582L514 278M486 582L545 288M486 582L576 309M486 582L620 304M486 582L268 329M486 582L298 336M486 582L328 342M486 582L359 319M486 582L440 322M486 582L620 335M486 582L578 340M486 582L260 360M486 582L368 350M486 582L405 356M486 582L435 353M486 582L473 345M486 582L510 340M486 582L540 344M486 582L548 375M486 582L578 371M486 582L253 390M486 582L299 376M486 582L344 380M486 582L374 380M486 582L412 386M486 582L443 387M486 582L473 378M486 582L504 393M486 582L534 405M486 582L596 408M486 582L626 400M486 582L218 434M486 582L248 420M486 582L287 415M486 582L321 426M486 582L352 410M486 582L382 410M486 582L430 418M486 582L461 421M486 582L566 430M486 582L624 440M486 582L288 445M486 582L384 442M486 582L458 452M486 582L510 453M486 582L554 460M486 582L224 478M486 582L254 465M486 582L288 482M486 582L322 476M486 582L360 472M486 582L395 472M486 582L426 468M486 582L456 482M486 582L517 484M486 582L548 492M486 582L486 502M486 582L319 506M486 582L350 508M486 582L390 502M486 582L330 544M486 582L380 536M486 582L411 532M486 582L450 516M486 582L474 549M486 582L505 532M486 582L554 533M486 582L372 578M486 582L403 570M486 582L441 562"/>
<path d="M528 580L395 130M528 580L497 141M528 580L316 171M528 580L346 164M528 580L385 164M528 580L415 160M528 580L482 176M528 580L513 186M528 580L420 190M528 580L450 196M528 580L554 198M528 580L481 208M528 580L245 218M528 580L306 214M528 580L342 218M528 580L376 216M528 580L418 231M528 580L550 230M528 580L580 229M528 580L611 230M528 580L218 255M528 580L259 264M528 580L294 252M528 580L324 249M528 580L354 248M528 580L385 246M528 580L415 262M528 580L449 256M528 580L480 254M528 580L576 264M528 580L624 274M528 580L229 288M528 580L260 295M528 580L291 297M528 580L322 296M528 580L358 289M528 580L390 300M528 580L420 292M528 580L451 288M528 580L484 288M528 580L514 278M528 580L545 288M528 580L576 309M528 580L620 304M528 580L210 326M528 580L268 329M528 580L298 336M528 580L328 342M528 580L359 319M528 580L440 322M528 580L620 335M528 580L578 340M528 580L218 357M528 580L260 360M528 580L368 350M528 580L405 356M528 580L435 353M528 580L473 345M528 580L510 340M528 580L540 344M528 580L548 375M528 580L578 371M528 580L660 371M528 580L206 395M528 580L253 390M528 580L299 376M528 580L344 380M528 580L374 380M528 580L412 386M528 580L443 387M528 580L473 378M528 580L504 393M528 580L534 405M528 580L596 408M528 580L626 400M528 580L658 402M528 580L218 434M528 580L248 420M528 580L287 415M528 580L321 426M528 580L352 410M528 580L382 410M528 580L430 418M528 580L461 421M528 580L566 430M528 580L624 440M528 580L288 445M528 580L384 442M528 580L458 452M528 580L510 453M528 580L554 460M528 580L224 478M528 580L254 465M528 580L288 482M528 580L322 476M528 580L360 472M528 580L395 472M528 580L426 468M528 580L456 482M528 580L517 484M528 580L548 492M528 580L620 470M528 580L486 502M528 580L319 506M528 580L350 508M528 580L390 502M528 580L296 542M528 580L330 544M528 580L380 536M528 580L411 532M528 580L450 516M528 580L474 549M528 580L505 532M528 580L554 533M528 580L372 578M528 580L403 570M528 580L441 562M528 580L486 582"/>
<path d="M568 564L395 130M568 564L497 141M568 564L562 165M568 564L316 171M568 564L346 164M568 564L385 164M568 564L415 160M568 564L482 176M568 564L513 186M568 564L420 190M568 564L450 196M568 564L554 198M568 564L481 208M568 564L245 218M568 564L306 214M568 564L342 218M568 564L376 216M568 564L418 231M568 564L550 230M568 564L580 229M568 564L611 230M568 564L644 237M568 564L218 255M568 564L259 264M568 564L294 252M568 564L324 249M568 564L354 248M568 564L385 246M568 564L415 262M568 564L449 256M568 564L480 254M568 564L576 264M568 564L624 274M568 564L229 288M568 564L260 295M568 564L291 297M568 564L322 296M568 564L358 289M568 564L390 300M568 564L420 292M568 564L451 288M568 564L484 288M568 564L514 278M568 564L545 288M568 564L576 309M568 564L620 304M568 564L660 300M568 564L210 326M568 564L268 329M568 564L298 336M568 564L328 342M568 564L359 319M568 564L440 322M568 564L620 335M568 564L578 340M568 564L218 357M568 564L260 360M568 564L368 350M568 564L405 356M568 564L435 353M568 564L473 345M568 564L510 340M568 564L540 344M568 564L548 375M568 564L578 371M568 564L660 371M568 564L206 395M568 564L253 390M568 564L299 376M568 564L344 380M568 564L374 380M568 564L412 386M568 564L443 387M568 564L473 378M568 564L504 393M568 564L534 405M568 564L596 408M568 564L626 400M568 564L658 402M568 564L218 434M568 564L248 420M568 564L287 415M568 564L321 426M568 564L352 410M568 564L382 410M568 564L430 418M568 564L461 421M568 564L566 430M568 564L624 440M568 564L288 445M568 564L384 442M568 564L458 452M568 564L510 453M568 564L554 460M568 564L224 478M568 564L254 465M568 564L288 482M568 564L322 476M568 564L360 472M568 564L395 472M568 564L426 468M568 564L456 482M568 564L517 484M568 564L548 492M568 564L620 470M568 564L486 502M568 564L319 506M568 564L350 508M568 564L390 502M568 564L623 500M568 564L296 542M568 564L330 544M568 564L380 536M568 564L411 532M568 564L450 516M568 564L474 549M568 564L505 532M568 564L554 533M568 564L372 578M568 564L403 570M568 564L441 562M568 564L486 582M568 564L528 580"/>
<path d="M331 600L395 130M331 600L497 141M331 600L562 165M331 600L316 171M331 600L346 164M331 600L385 164M331 600L415 160M331 600L482 176M331 600L513 186M331 600L420 190M331 600L450 196M331 600L554 198M331 600L481 208M331 600L245 218M331 600L306 214M331 600L342 218M331 600L376 216M331 600L418 231M331 600L550 230M331 600L580 229M331 600L611 230M331 600L644 237M331 600L218 255M331 600L259 264M331 600L294 252M331 600L324 249M331 600L354 248M331 600L385 246M331 600L415 262M331 600L449 256M331 600L480 254M331 600L576 264M331 600L624 274M331 600L229 288M331 600L260 295M331 600L291 297M331 600L322 296M331 600L358 289M331 600L390 300M331 600L420 292M331 600L451 288M331 600L484 288M331 600L514 278M331 600L545 288M331 600L576 309M331 600L620 304M331 600L660 300M331 600L210 326M331 600L268 329M331 600L298 336M331 600L328 342M331 600L359 319M331 600L440 322M331 600L620 335M331 600L578 340M331 600L186 364M331 600L218 357M331 600L260 360M331 600L368 350M331 600L405 356M331 600L435 353M331 600L473 345M331 600L510 340M331 600L540 344M331 600L548 375M331 600L578 371M331 600L660 371M331 600L206 395M331 600L253 390M331 600L299 376M331 600L344 380M331 600L374 380M331 600L412 386M331 600L443 387M331 600L473 378M331 600L504 393M331 600L534 405M331 600L596 408M331 600L626 400M331 600L658 402M331 600L218 434M331 600L248 420M331 600L287 415M331 600L321 426M331 600L352 410M331 600L382 410M331 600L430 418M331 600L461 421M331 600L566 430M331 600L624 440M331 600L288 445M331 600L384 442M331 600L458 452M331 600L510 453M331 600L554 460M331 600L224 478M331 600L254 465M331 600L288 482M331 600L322 476M331 600L360 472M331 600L395 472M331 600L426 468M331 600L456 482M331 600L517 484M331 600L548 492M331 600L620 470M331 600L486 502M331 600L319 506M331 600L350 508M331 600L390 502M331 600L623 500M331 600L230 528M331 600L296 542M331 600L330 544M331 600L380 536M331 600L411 532M331 600L450 516M331 600L474 549M331 600L505 532M331 600L554 533M331 600L372 578M331 600L403 570M331 600L441 562M331 600L486 582M331 600L528 580M331 600L568 564M331 600L362 612M331 600L439 625M331 600L499 613"/>
<path d="M362 612L395 130M362 612L497 141M362 612L562 165M362 612L316 171M362 612L346 164M362 612L385 164M362 612L415 160M362 612L482 176M362 612L513 186M362 612L420 190M362 612L450 196M362 612L554 198M362 612L481 208M362 612L245 218M362 612L306 214M362 612L342 218M362 612L376 216M362 612L418 231M362 612L550 230M362 612L580 229M362 612L611 230M362 612L644 237M362 612L218 255M362 612L259 264M362 612L294 252M362 612L324 249M362 612L354 248M362 612L385 246M362 612L415 262M362 612L449 256M362 612L480 254M362 612L576 264M362 612L624 274M362 612L229 288M362 612L260 295M362 612L291 297M362 612L322 296M362 612L358 289M362 612L390 300M362 612L420 292M362 612L451 288M362 612L484 288M362 612L514 278M362 612L545 288M362 612L576 309M362 612L620 304M362 612L660 300M362 612L210 326M362 612L268 329M362 612L298 336M362 612L328 342M362 612L359 319M362 612L440 322M362 612L620 335M362 612L578 340M362 612L186 364M362 612L218 357M362 612L260 360M362 612L368 350M362 612L405 356M362 612L435 353M362 612L473 345M362 612L510 340M362 612L540 344M362 612L548 375M362 612L578 371M362 612L660 371M362 612L206 395M362 612L253 390M362 612L299 376M362 612L344 380M362 612L374 380M362 612L412 386M362 612L443 387M362 612L473 378M362 612L504 393M362 612L534 405M362 612L596 408M362 612L626 400M362 612L658 402M362 612L218 434M362 612L248 420M362 612L287 415M362 612L321 426M362 612L352 410M362 612L382 410M362 612L430 418M362 612L461 421M362 612L566 430M362 612L624 440M362 612L288 445M362 612L384 442M362 612L458 452M362 612L510 453M362 612L554 460M362 612L224 478M362 612L254 465M362 612L288 482M362 612L322 476M362 612L360 472M362 612L395 472M362 612L426 468M362 612L456 482M362 612L517 484M362 612L548 492M362 612L620 470M362 612L486 502M362 612L319 506M362 612L350 508M362 612L390 502M362 612L623 500M362 612L230 528M362 612L296 542M362 612L330 544M362 612L380 536M362 612L411 532M362 612L450 516M362 612L474 549M362 612L505 532M362 612L554 533M362 612L372 578M362 612L403 570M362 612L441 562M362 612L486 582M362 612L528 580M362 612L568 564M362 612L439 625M362 612L499 613"/>
<path d="M439 625L395 130M439 625L497 141M439 625L562 165M439 625L316 171M439 625L346 164M439 625L385 164M439 625L415 160M439 625L482 176M439 625L513 186M439 625L420 190M439 625L450 196M439 625L554 198M439 625L481 208M439 625L245 218M439 625L306 214M439 625L342 218M439 625L376 216M439 625L418 231M439 625L550 230M439 625L580 229M439 625L611 230M439 625L644 237M439 625L218 255M439 625L259 264M439 625L294 252M439 625L324 249M439 625L354 248M439 625L385 246M439 625L415 262M439 625L449 256M439 625L480 254M439 625L576 264M439 625L624 274M439 625L229 288M439 625L260 295M439 625L291 297M439 625L322 296M439 625L358 289M439 625L390 300M439 625L420 292M439 625L451 288M439 625L484 288M439 625L514 278M439 625L545 288M439 625L576 309M439 625L620 304M439 625L660 300M439 625L210 326M439 625L268 329M439 625L298 336M439 625L328 342M439 625L359 319M439 625L440 322M439 625L620 335M439 625L578 340M439 625L186 364M439 625L218 357M439 625L260 360M439 625L368 350M439 625L405 356M439 625L435 353M439 625L473 345M439 625L510 340M439 625L540 344M439 625L548 375M439 625L578 371M439 625L660 371M439 625L206 395M439 625L253 390M439 625L299 376M439 625L344 380M439 625L374 380M439 625L412 386M439 625L443 387M439 625L473 378M439 625L504 393M439 625L534 405M439 625L596 408M439 625L626 400M439 625L658 402M439 625L218 434M439 625L248 420M439 625L287 415M439 625L321 426M439 625L352 410M439 625L382 410M439 625L430 418M439 625L461 421M439 625L566 430M439 625L624 440M439 625L288 445M439 625L384 442M439 625L458 452M439 625L510 453M439 625L554 460M439 625L224 478M439 625L254 465M439 625L288 482M439 625L322 476M439 625L360 472M439 625L395 472M439 625L426 468M439 625L456 482M439 625L517 484M439 625L548 492M439 625L620 470M439 625L486 502M439 625L319 506M439 625L350 508M439 625L390 502M439 625L623 500M439 625L230 528M439 625L296 542M439 625L330 544M439 625L380 536M439 625L411 532M439 625L450 516M439 625L474 549M439 625L505 532M439 625L554 533M439 625L372 578M439 625L403 570M439 625L441 562M439 625L486 582M439 625L528 580M439 625L568 564M439 625L499 613"/>
<path d="M499 613L395 130M499 613L497 141M499 613L562 165M499 613L316 171M499 613L346 164M499 613L385 164M499 613L415 160M499 613L482 176M499 613L513 186M499 613L420 190M499 613L450 196M499 613L554 198M499 613L481 208M499 613L245 218M499 613L306 214M499 613L342 218M499 613L376 216M499 613L418 231M499 613L550 230M499 613L580 229M499 613L611 230M499 613L644 237M499 613L218 255M499 613L259 264M499 613L294 252M499 613L324 249M499 613L354 248M499 613L385 246M499 613L415 262M499 613L449 256M499 613L480 254M499 613L576 264M499 613L624 274M499 613L229 288M499 613L260 295M499 613L291 297M499 613L322 296M499 613L358 289M499 613L390 300M499 613L420 292M499 613L451 288M499 613L484 288M499 613L514 278M499 613L545 288M499 613L576 309M499 613L620 304M499 613L660 300M499 613L210 326M499 613L268 329M499 613L298 336M499 613L328 342M499 613L359 319M499 613L440 322M499 613L620 335M499 613L578 340M499 613L186 364M499 613L218 357M499 613L260 360M499 613L368 350M499 613L405 356M499 613L435 353M499 613L473 345M499 613L510 340M499 613L540 344M499 613L548 375M499 613L578 371M499 613L660 371M499 613L206 395M499 613L253 390M499 613L299 376M499 613L344 380M499 613L374 380M499 613L412 386M499 613L443 387M499 613L473 378M499 613L504 393M499 613L534 405M499 613L596 408M499 613L626 400M499 613L658 402M499 613L218 434M499 613L248 420M499 613L287 415M499 613L321 426M499 613L352 410M499 613L382 410M499 613L430 418M499 613L461 421M499 613L566 430M499 613L624 440M499 613L288 445M499 613L384 442M499 613L458 452M499 613L510 453M499 613L554 460M499 613L224 478M499 613L254 465M499 613L288 482M499 613L322 476M499 613L360 472M499 613L395 472M499 613L426 468M499 613L456 482M499 613L517 484M499 613L548 492M499 613L620 470M499 613L486 502M499 613L319 506M499 613L350 508M499 613L390 502M499 613L623 500M499 613L230 528M499 613L296 542M499 613L330 544M499 613L380 536M499 613L411 532M499 613L450 516M499 613L474 549M499 613L505 532M499 613L554 533M499 613L372 578M499 613L403 570M499 613L441 562M499 613L486 582M499 613L528 580M499 613L568 564"/>
</g>
<path d="M67.5 296.5L193 296M67.5 296.5L186 364" stroke="#e2e2e2" stroke-width="1.4" fill="none" stroke-opacity="1.0"/>
<g fill="#d9d9d9" stroke="rgba(0,0,0,0.10)" stroke-width="1.3">
<circle cx="411.5" cy="98.5" r="14.0"/>
<circle cx="481" cy="110" r="14.0"/>
<circle cx="395" cy="129.5" r="14.0"/>
<circle cx="497" cy="141" r="14.0"/>
<circle cx="562" cy="165" r="14.0"/>
<circle cx="283" cy="174.5" r="14.0"/>
<circle cx="315.5" cy="171" r="14.0"/>
<circle cx="345.5" cy="164.5" r="14.0"/>
<circle cx="385" cy="164" r="14.0"/>
<circle cx="415" cy="160" r="14.0"/>
<circle cx="482.5" cy="176.5" r="14.0"/>
<circle cx="513" cy="186" r="14.0"/>
<circle cx="419.5" cy="190.5" r="14.0"/>
<circle cx="450" cy="196" r="14.0"/>
<circle cx="554" cy="198" r="14.0"/>
<circle cx="481" cy="207.5" r="14.0"/>
<circle cx="642" cy="205.5" r="14.0"/>
<circle cx="215" cy="220.5" r="14.0"/>
<circle cx="245" cy="217.5" r="14.0"/>
<circle cx="306" cy="214" r="14.0"/>
<circle cx="342.5" cy="218" r="14.0"/>
<circle cx="376.5" cy="216" r="14.0"/>
<circle cx="418.5" cy="231" r="14.0"/>
<circle cx="549.5" cy="229.5" r="14.0"/>
<circle cx="580" cy="229" r="14.0"/>
<circle cx="611" cy="230" r="14.0"/>
<circle cx="644" cy="237" r="14.0"/>
<circle cx="218.5" cy="255" r="14.0"/>
<circle cx="259" cy="264.5" r="14.0"/>
<circle cx="293.5" cy="251.5" r="14.0"/>
<circle cx="324" cy="249" r="14.0"/>
<circle cx="354.5" cy="248.5" r="14.0"/>
<circle cx="385" cy="246.5" r="14.0"/>
<circle cx="415" cy="261.5" r="14.0"/>
<circle cx="449" cy="256.5" r="14.0"/>
<circle cx="480" cy="254.5" r="14.0"/>
<circle cx="575.5" cy="263.5" r="14.0"/>
<circle cx="624" cy="274" r="14.0"/>
<circle cx="193" cy="296" r="14.0"/>
<circle cx="229" cy="287.5" r="14.0"/>
<circle cx="260" cy="295" r="14.0"/>
<circle cx="291" cy="297" r="14.0"/>
<circle cx="321.5" cy="296" r="14.0"/>
<circle cx="358.5" cy="289" r="14.0"/>
<circle cx="389.5" cy="300.5" r="14.0"/>
<circle cx="420.5" cy="292.5" r="14.0"/>
<circle cx="451" cy="287.5" r="14.0"/>
<circle cx="483.5" cy="288.5" r="14.0"/>
<circle cx="514.5" cy="277.5" r="14.0"/>
<circle cx="545" cy="287.5" r="14.0"/>
<circle cx="575.5" cy="309" r="14.0"/>
<circle cx="620.5" cy="304" r="14.0"/>
<circle cx="660" cy="300" r="14.0"/>
<circle cx="210" cy="326" r="14.0"/>
<circle cx="267.5" cy="329" r="14.0"/>
<circle cx="298" cy="336.5" r="14.0"/>
<circle cx="328.5" cy="341.5" r="14.0"/>
<circle cx="359" cy="319" r="14.0"/>
<circle cx="439.5" cy="322.5" r="14.0"/>
<circle cx="620" cy="335" r="14.0"/>
<circle cx="577.5" cy="340" r="14.0"/>
<circle cx="186.5" cy="364.5" r="14.0"/>
<circle cx="218" cy="357" r="14.0"/>
<circle cx="260.5" cy="359.5" r="14.0"/>
<circle cx="367.5" cy="350.5" r="14.0"/>
<circle cx="405" cy="355.5" r="14.0"/>
<circle cx="435" cy="353" r="14.0"/>
<circle cx="473" cy="345" r="14.0"/>
<circle cx="510" cy="339.5" r="14.0"/>
<circle cx="540.5" cy="344.5" r="14.0"/>
<circle cx="548" cy="375" r="14.0"/>
<circle cx="578" cy="371" r="14.0"/>
<circle cx="659.5" cy="371" r="14.0"/>
<circle cx="690" cy="390" r="14.0"/>
<circle cx="206.5" cy="395" r="14.0"/>
<circle cx="253" cy="390" r="14.0"/>
<circle cx="299" cy="376" r="14.0"/>
<circle cx="344" cy="379.5" r="14.0"/>
<circle cx="374" cy="380.5" r="14.0"/>
<circle cx="412.5" cy="386.5" r="14.0"/>
<circle cx="443" cy="387" r="14.0"/>
<circle cx="473" cy="378.5" r="14.0"/>
<circle cx="504" cy="393" r="14.0"/>
<circle cx="534.5" cy="405" r="14.0"/>
<circle cx="596.5" cy="407.5" r="14.0"/>
<circle cx="626" cy="400" r="14.0"/>
<circle cx="658.5" cy="401.5" r="14.0"/>
<circle cx="180.5" cy="426.5" r="14.0"/>
<circle cx="218" cy="434.5" r="14.0"/>
<circle cx="248" cy="420" r="14.0"/>
<circle cx="287" cy="415" r="14.0"/>
<circle cx="321" cy="425.5" r="14.0"/>
<circle cx="351.5" cy="410.5" r="14.0"/>
<circle cx="382" cy="410.5" r="14.0"/>
<circle cx="430" cy="417.5" r="14.0"/>
<circle cx="461" cy="421" r="14.0"/>
<circle cx="565.5" cy="430" r="14.0"/>
<circle cx="624" cy="440" r="14.0"/>
<circle cx="287.5" cy="445" r="14.0"/>
<circle cx="384" cy="441.5" r="14.0"/>
<circle cx="457.5" cy="451.5" r="14.0"/>
<circle cx="510" cy="453" r="14.0"/>
<circle cx="554" cy="460" r="14.0"/>
<circle cx="192.5" cy="497" r="14.0"/>
<circle cx="223.5" cy="477.5" r="14.0"/>
<circle cx="253.5" cy="465" r="14.0"/>
<circle cx="288.5" cy="481.5" r="14.0"/>
<circle cx="322.5" cy="475.5" r="14.0"/>
<circle cx="360.5" cy="471.5" r="14.0"/>
<circle cx="395" cy="472" r="14.0"/>
<circle cx="425.5" cy="467.5" r="14.0"/>
<circle cx="455.5" cy="482" r="14.0"/>
<circle cx="517" cy="483.5" r="14.0"/>
<circle cx="547.5" cy="491.5" r="14.0"/>
<circle cx="620" cy="470" r="14.0"/>
<circle cx="486.5" cy="502" r="14.0"/>
<circle cx="319" cy="506.5" r="14.0"/>
<circle cx="350" cy="507.5" r="14.0"/>
<circle cx="390.5" cy="502.5" r="14.0"/>
<circle cx="623" cy="500" r="14.0"/>
<circle cx="230" cy="527.5" r="14.0"/>
<circle cx="296.5" cy="541.5" r="14.0"/>
<circle cx="329.5" cy="544" r="14.0"/>
<circle cx="380" cy="535.5" r="14.0"/>
<circle cx="411" cy="532.5" r="14.0"/>
<circle cx="450.5" cy="516" r="14.0"/>
<circle cx="474" cy="549" r="14.0"/>
<circle cx="505" cy="532" r="14.0"/>
<circle cx="553.5" cy="533" r="14.0"/>
<circle cx="613.5" cy="538" r="14.0"/>
<circle cx="283.5" cy="571.5" r="14.0"/>
<circle cx="372" cy="578.5" r="14.0"/>
<circle cx="403" cy="570" r="14.0"/>
<circle cx="441" cy="561.5" r="14.0"/>
<circle cx="485.5" cy="582.5" r="14.0"/>
<circle cx="528" cy="580.5" r="14.0"/>
<circle cx="568" cy="563.5" r="14.0"/>
<circle cx="331" cy="600.5" r="14.0"/>
<circle cx="362" cy="611.5" r="14.0"/>
<circle cx="439" cy="625" r="14.0"/>
<circle cx="499" cy="613" r="14.0"/>
</g>
<g fill="#d9d9d9" stroke="#c2c2c2" stroke-width="1.3">
<circle cx="67.5" cy="296.5" r="14.0"/>
</g>
<g stroke="#b8b8b8" stroke-width="1.2" fill="none" stroke-opacity="0.45">
<path d="M961 129L898 152M961 129L977 159M961 129L849 174M961 129L932 176M961 129L1034 177M961 129L873 194M961 129L1012 199M961 129L824 219M961 129L947 216M961 129L793 244M961 129L855 240M961 129L919 237M961 129L978 240M961 129L1053 238M961 129L1076 259M961 129L893 261M961 129L946 254M961 129L864 278M961 129L1030 278M961 129L932 285M961 129L784 303M961 129L838 298M961 129L876 321M961 129L914 321M961 129L948 327M961 129L822 333M961 129L1032 333M961 129L1086 330M961 129L969 350M961 129L1058 350M961 129L993 369M961 129L843 372M961 129L903 380M961 129L870 394M961 129L968 403M961 129L1038 400M961 129L919 425M961 129L983 435M961 129L994 275"/>
<path d="M898 152L977 159M898 152L849 174M898 152L932 176M898 152L1034 177M898 152L873 194M898 152L1012 199M898 152L824 219M898 152L947 216M898 152L793 244M898 152L855 240M898 152L919 237M898 152L978 240M898 152L1053 238M898 152L1076 259M898 152L893 261M898 152L946 254M898 152L864 278M898 152L1030 278M898 152L932 285M898 152L784 303M898 152L838 298M898 152L876 321M898 152L914 321M898 152L948 327M898 152L822 333M898 152L1032 333M898 152L1086 330M898 152L969 350M898 152L1058 350M898 152L993 369M898 152L843 372M898 152L903 380M898 152L870 394M898 152L968 403M898 152L1038 400M898 152L919 425M898 152L983 435M898 152L994 275"/>
<path d="M977 159L849 174M977 159L932 176M977 159L1034 177M977 159L873 194M977 159L1012 199M977 159L824 219M977 159L947 216M977 159L793 244M977 159L855 240M977 159L919 237M977 159L978 240M977 159L1053 238M977 159L1076 259M977 159L893 261M977 159L946 254M977 159L864 278M977 159L1030 278M977 159L932 285M977 159L784 303M977 159L838 298M977 159L876 321M977 159L914 321M977 159L948 327M977 159L822 333M977 159L1032 333M977 159L1086 330M977 159L969 350M977 159L1058 350M977 159L993 369M977 159L843 372M977 159L903 380M977 159L870 394M977 159L968 403M977 159L1038 400M977 159L919 425M977 159L983 435M977 159L994 275"/>
<path d="M849 174L932 176M849 174L1034 177M849 174L873 194M849 174L1012 199M849 174L824 219M849 174L947 216M849 174L793 244M849 174L855 240M849 174L919 237M849 174L978 240M849 174L1053 238M849 174L1076 259M849 174L893 261M849 174L946 254M849 174L864 278M849 174L1030 278M849 174L932 285M849 174L784 303M849 174L838 298M849 174L876 321M849 174L914 321M849 174L948 327M849 174L822 333M849 174L1032 333M849 174L1086 330M849 174L969 350M849 174L1058 350M849 174L993 369M849 174L843 372M849 174L903 380M849 174L870 394M849 174L968 403M849 174L1038 400M849 174L919 425M849 174L983 435M849 174L994 275"/>
<path d="M932 176L1034 177M932 176L873 194M932 176L1012 199M932 176L824 219M932 176L947 216M932 176L793 244M932 176L855 240M932 176L919 237M932 176L978 240M932 176L1053 238M932 176L1076 259M932 176L893 261M932 176L946 254M932 176L864 278M932 176L1030 278M932 176L932 285M932 176L784 303M932 176L838 298M932 176L876 321M932 176L914 321M932 176L948 327M932 176L822 333M932 176L1032 333M932 176L1086 330M932 176L969 350M932 176L1058 350M932 176L993 369M932 176L843 372M932 176L903 380M932 176L870 394M932 176L968 403M932 176L1038 400M932 176L919 425M932 176L983 435M932 176L994 275"/>
<path d="M1034 177L873 194M1034 177L1012 199M1034 177L824 219M1034 177L947 216M1034 177L793 244M1034 177L855 240M1034 177L919 237M1034 177L978 240M1034 177L1053 238M1034 177L1076 259M1034 177L893 261M1034 177L946 254M1034 177L864 278M1034 177L1030 278M1034 177L932 285M1034 177L784 303M1034 177L838 298M1034 177L876 321M1034 177L914 321M1034 177L948 327M1034 177L822 333M1034 177L1032 333M1034 177L1086 330M1034 177L969 350M1034 177L1058 350M1034 177L993 369M1034 177L843 372M1034 177L903 380M1034 177L870 394M1034 177L968 403M1034 177L1038 400M1034 177L919 425M1034 177L983 435M1034 177L994 275"/>
<path d="M873 194L1012 199M873 194L824 219M873 194L947 216M873 194L793 244M873 194L855 240M873 194L919 237M873 194L978 240M873 194L1053 238M873 194L1076 259M873 194L893 261M873 194L946 254M873 194L864 278M873 194L1030 278M873 194L932 285M873 194L784 303M873 194L838 298M873 194L876 321M873 194L914 321M873 194L948 327M873 194L822 333M873 194L1032 333M873 194L1086 330M873 194L969 350M873 194L1058 350M873 194L993 369M873 194L843 372M873 194L903 380M873 194L870 394M873 194L968 403M873 194L1038 400M873 194L919 425M873 194L983 435M873 194L994 275"/>
<path d="M1012 199L824 219M1012 199L947 216M1012 199L793 244M1012 199L855 240M1012 199L919 237M1012 199L978 240M1012 199L1053 238M1012 199L1076 259M1012 199L893 261M1012 199L946 254M1012 199L864 278M1012 199L1030 278M1012 199L932 285M1012 199L784 303M1012 199L838 298M1012 199L876 321M1012 199L914 321M1012 199L948 327M1012 199L822 333M1012 199L1032 333M1012 199L1086 330M1012 199L969 350M1012 199L1058 350M1012 199L993 369M1012 199L843 372M1012 199L903 380M1012 199L870 394M1012 199L968 403M1012 199L1038 400M1012 199L919 425M1012 199L983 435M1012 199L994 275"/>
<path d="M824 219L947 216M824 219L793 244M824 219L855 240M824 219L919 237M824 219L978 240M824 219L1053 238M824 219L1076 259M824 219L893 261M824 219L946 254M824 219L864 278M824 219L1030 278M824 219L932 285M824 219L784 303M824 219L838 298M824 219L876 321M824 219L914 321M824 219L948 327M824 219L822 333M824 219L1032 333M824 219L1086 330M824 219L969 350M824 219L1058 350M824 219L993 369M824 219L843 372M824 219L903 380M824 219L870 394M824 219L968 403M824 219L1038 400M824 219L919 425M824 219L983 435M824 219L994 275"/>
<path d="M947 216L793 244M947 216L855 240M947 216L919 237M947 216L978 240M947 216L1053 238M947 216L1076 259M947 216L893 261M947 216L946 254M947 216L864 278M947 216L1030 278M947 216L932 285M947 216L784 303M947 216L838 298M947 216L876 321M947 216L914 321M947 216L948 327M947 216L822 333M947 216L1032 333M947 216L1086 330M947 216L969 350M947 216L1058 350M947 216L993 369M947 216L843 372M947 216L903 380M947 216L870 394M947 216L968 403M947 216L1038 400M947 216L919 425M947 216L983 435M947 216L994 275"/>
<path d="M793 244L855 240M793 244L919 237M793 244L978 240M793 244L1053 238M793 244L1076 259M793 244L893 261M793 244L946 254M793 244L864 278M793 244L1030 278M793 244L932 285M793 244L784 303M793 244L838 298M793 244L876 321M793 244L914 321M793 244L948 327M793 244L822 333M793 244L1032 333M793 244L1086 330M793 244L969 350M793 244L1058 350M793 244L993 369M793 244L843 372M793 244L903 380M793 244L870 394M793 244L968 403M793 244L1038 400M793 244L919 425M793 244L983 435M793 244L994 275"/>
<path d="M855 240L919 237M855 240L978 240M855 240L1053 238M855 240L1076 259M855 240L893 261M855 240L946 254M855 240L864 278M855 240L1030 278M855 240L932 285M855 240L784 303M855 240L838 298M855 240L876 321M855 240L914 321M855 240L948 327M855 240L822 333M855 240L1032 333M855 240L1086 330M855 240L969 350M855 240L1058 350M855 240L993 369M855 240L843 372M855 240L903 380M855 240L870 394M855 240L968 403M855 240L1038 400M855 240L919 425M855 240L983 435M855 240L994 275"/>
<path d="M919 237L978 240M919 237L1053 238M919 237L1076 259M919 237L893 261M919 237L946 254M919 237L864 278M919 237L1030 278M919 237L932 285M919 237L784 303M919 237L838 298M919 237L876 321M919 237L914 321M919 237L948 327M919 237L822 333M919 237L1032 333M919 237L1086 330M919 237L969 350M919 237L1058 350M919 237L993 369M919 237L843 372M919 237L903 380M919 237L870 394M919 237L968 403M919 237L1038 400M919 237L919 425M919 237L983 435M919 237L994 275"/>
<path d="M978 240L1053 238M978 240L1076 259M978 240L893 261M978 240L946 254M978 240L864 278M978 240L1030 278M978 240L932 285M978 240L784 303M978 240L838 298M978 240L876 321M978 240L914 321M978 240L948 327M978 240L822 333M978 240L1032 333M978 240L1086 330M978 240L969 350M978 240L1058 350M978 240L993 369M978 240L843 372M978 240L903 380M978 240L870 394M978 240L968 403M978 240L1038 400M978 240L919 425M978 240L983 435M978 240L994 275"/>
<path d="M1053 238L1076 259M1053 238L893 261M1053 238L946 254M1053 238L864 278M1053 238L1030 278M1053 238L932 285M1053 238L784 303M1053 238L838 298M1053 238L876 321M1053 238L914 321M1053 238L948 327M1053 238L822 333M1053 238L1032 333M1053 238L1086 330M1053 238L969 350M1053 238L1058 350M1053 238L993 369M1053 238L843 372M1053 238L903 380M1053 238L870 394M1053 238L968 403M1053 238L1038 400M1053 238L919 425M1053 238L983 435M1053 238L994 275"/>
<path d="M1076 259L893 261M1076 259L946 254M1076 259L864 278M1076 259L1030 278M1076 259L932 285M1076 259L784 303M1076 259L838 298M1076 259L876 321M1076 259L914 321M1076 259L948 327M1076 259L822 333M1076 259L1032 333M1076 259L1086 330M1076 259L969 350M1076 259L1058 350M1076 259L993 369M1076 259L843 372M1076 259L903 380M1076 259L870 394M1076 259L968 403M1076 259L1038 400M1076 259L919 425M1076 259L983 435M1076 259L994 275"/>
<path d="M893 261L946 254M893 261L864 278M893 261L1030 278M893 261L932 285M893 261L784 303M893 261L838 298M893 261L876 321M893 261L914 321M893 261L948 327M893 261L822 333M893 261L1032 333M893 261L1086 330M893 261L969 350M893 261L1058 350M893 261L993 369M893 261L843 372M893 261L903 380M893 261L870 394M893 261L968 403M893 261L1038 400M893 261L919 425M893 261L983 435M893 261L994 275"/>
<path d="M946 254L864 278M946 254L1030 278M946 254L932 285M946 254L784 303M946 254L838 298M946 254L876 321M946 254L914 321M946 254L948 327M946 254L822 333M946 254L1032 333M946 254L1086 330M946 254L969 350M946 254L1058 350M946 254L993 369M946 254L843 372M946 254L903 380M946 254L870 394M946 254L968 403M946 254L1038 400M946 254L919 425M946 254L983 435M946 254L994 275"/>
<path d="M864 278L1030 278M864 278L932 285M864 278L784 303M864 278L838 298M864 278L876 321M864 278L914 321M864 278L948 327M864 278L822 333M864 278L1032 333M864 278L1086 330M864 278L969 350M864 278L1058 350M864 278L993 369M864 278L843 372M864 278L903 380M864 278L870 394M864 278L968 403M864 278L1038 400M864 278L919 425M864 278L983 435M864 278L994 275"/>
<path d="M1030 278L932 285M1030 278L784 303M1030 278L838 298M1030 278L876 321M1030 278L914 321M1030 278L948 327M1030 278L822 333M1030 278L1032 333M1030 278L1086 330M1030 278L969 350M1030 278L1058 350M1030 278L993 369M1030 278L843 372M1030 278L903 380M1030 278L870 394M1030 278L968 403M1030 278L1038 400M1030 278L919 425M1030 278L983 435M1030 278L994 275"/>
<path d="M932 285L784 303M932 285L838 298M932 285L876 321M932 285L914 321M932 285L948 327M932 285L822 333M932 285L1032 333M932 285L1086 330M932 285L969 350M932 285L1058 350M932 285L993 369M932 285L843 372M932 285L903 380M932 285L870 394M932 285L968 403M932 285L1038 400M932 285L919 425M932 285L983 435M932 285L994 275"/>
<path d="M784 303L838 298M784 303L876 321M784 303L914 321M784 303L948 327M784 303L822 333M784 303L1032 333M784 303L1086 330M784 303L969 350M784 303L1058 350M784 303L993 369M784 303L843 372M784 303L903 380M784 303L870 394M784 303L968 403M784 303L1038 400M784 303L919 425M784 303L983 435M784 303L994 275"/>
<path d="M838 298L876 321M838 298L914 321M838 298L948 327M838 298L822 333M838 298L1032 333M838 298L1086 330M838 298L969 350M838 298L1058 350M838 298L993 369M838 298L843 372M838 298L903 380M838 298L870 394M838 298L968 403M838 298L1038 400M838 298L919 425M838 298L983 435M838 298L994 275"/>
<path d="M876 321L914 321M876 321L948 327M876 321L822 333M876 321L1032 333M876 321L1086 330M876 321L969 350M876 321L1058 350M876 321L993 369M876 321L843 372M876 321L903 380M876 321L870 394M876 321L968 403M876 321L1038 400M876 321L919 425M876 321L983 435M876 321L994 275"/>
<path d="M914 321L948 327M914 321L822 333M914 321L1032 333M914 321L1086 330M914 321L969 350M914 321L1058 350M914 321L993 369M914 321L843 372M914 321L903 380M914 321L870 394M914 321L968 403M914 321L1038 400M914 321L919 425M914 321L983 435M914 321L994 275"/>
<path d="M948 327L822 333M948 327L1032 333M948 327L1086 330M948 327L969 350M948 327L1058 350M948 327L993 369M948 327L843 372M948 327L903 380M948 327L870 394M948 327L968 403M948 327L1038 400M948 327L919 425M948 327L983 435M948 327L994 275"/>
<path d="M822 333L1032 333M822 333L1086 330M822 333L969 350M822 333L1058 350M822 333L993 369M822 333L843 372M822 333L903 380M822 333L870 394M822 333L968 403M822 333L1038 400M822 333L919 425M822 333L983 435M822 333L994 275"/>
<path d="M1032 333L1086 330M1032 333L969 350M1032 333L1058 350M1032 333L993 369M1032 333L843 372M1032 333L903 380M1032 333L870 394M1032 333L968 403M1032 333L1038 400M1032 333L919 425M1032 333L983 435M1032 333L994 275"/>
<path d="M1086 330L969 350M1086 330L1058 350M1086 330L993 369M1086 330L843 372M1086 330L903 380M1086 330L870 394M1086 330L968 403M1086 330L1038 400M1086 330L919 425M1086 330L983 435M1086 330L994 275"/>
<path d="M969 350L1058 350M969 350L993 369M969 350L843 372M969 350L903 380M969 350L870 394M969 350L968 403M969 350L1038 400M969 350L919 425M969 350L983 435M969 350L994 275"/>
<path d="M1058 350L993 369M1058 350L843 372M1058 350L903 380M1058 350L870 394M1058 350L968 403M1058 350L1038 400M1058 350L919 425M1058 350L983 435M1058 350L994 275"/>
<path d="M993 369L843 372M993 369L903 380M993 369L870 394M993 369L968 403M993 369L1038 400M993 369L919 425M993 369L983 435M993 369L994 275"/>
<path d="M843 372L903 380M843 372L870 394M843 372L968 403M843 372L1038 400M843 372L919 425M843 372L983 435M843 372L994 275"/>
<path d="M903 380L870 394M903 380L968 403M903 380L1038 400M903 380L919 425M903 380L983 435M903 380L994 275"/>
<path d="M870 394L968 403M870 394L1038 400M870 394L919 425M870 394L983 435M870 394L994 275"/>
<path d="M968 403L1038 400M968 403L919 425M968 403L983 435M968 403L994 275"/>
<path d="M1038 400L919 425M1038 400L983 435M1038 400L994 275"/>
<path d="M919 425L983 435M919 425L994 275"/>
<path d="M983 435L994 275"/>
</g>
<g fill="#fed52b" stroke="#f2c623" stroke-width="1.3">
<circle cx="960.9" cy="128.8" r="14.3"/>
<circle cx="898.1" cy="152.1" r="14.3"/>
<circle cx="976.7" cy="159" r="14.3"/>
<circle cx="849.1" cy="174.3" r="14.3"/>
<circle cx="931.5" cy="176.3" r="14.3"/>
<circle cx="1034.3" cy="177.2" r="14.3"/>
<circle cx="872.8" cy="193.9" r="14.3"/>
<circle cx="1012.4" cy="198.8" r="14.3"/>
<circle cx="823.5" cy="218.6" r="14.3"/>
<circle cx="946.8" cy="216.3" r="14.3"/>
<circle cx="793.3" cy="243.7" r="14.3"/>
<circle cx="855.2" cy="240" r="14.3"/>
<circle cx="918.8" cy="236.8" r="14.3"/>
<circle cx="978.2" cy="240" r="14.3"/>
<circle cx="1053.3" cy="238.2" r="14.3"/>
<circle cx="1075.5" cy="259" r="14.3"/>
<circle cx="892.6" cy="261.3" r="14.3"/>
<circle cx="945.9" cy="253.5" r="14.3"/>
<circle cx="864.4" cy="278.5" r="14.3"/>
<circle cx="1029.7" cy="278.5" r="14.3"/>
<circle cx="931.5" cy="285.2" r="14.3"/>
<circle cx="784.1" cy="303.3" r="14.3"/>
<circle cx="838.5" cy="298.1" r="14.3"/>
<circle cx="876.5" cy="321.2" r="14.3"/>
<circle cx="914.2" cy="321.2" r="14.3"/>
<circle cx="947.9" cy="327.2" r="14.3"/>
<circle cx="821.8" cy="332.7" r="14.3"/>
<circle cx="1032.3" cy="333.3" r="14.3"/>
<circle cx="1086.4" cy="329.5" r="14.3"/>
<circle cx="969" cy="350" r="14.3"/>
<circle cx="1057.9" cy="350.5" r="14.3"/>
<circle cx="993.1" cy="369.3" r="14.3"/>
<circle cx="842.8" cy="371.8" r="14.3"/>
<circle cx="902.7" cy="380.5" r="14.3"/>
<circle cx="869.6" cy="394.3" r="14.3"/>
<circle cx="968.1" cy="403.2" r="14.3"/>
<circle cx="1037.5" cy="400.1" r="14.3"/>
<circle cx="919.1" cy="425.4" r="14.3"/>
<circle cx="982.8" cy="435.2" r="14.3"/>
</g>
<g fill="#ff7b00" stroke="#f07000" stroke-width="1.3">
<circle cx="994" cy="275.4" r="14.3"/>
</g>
<text x="859.6" y="91.1" font-size="30.5" fill="#333" font-style="italic" textLength="152.0" lengthAdjust="spacingAndGlyphs">Alcaligenes</text>
<path d="M746.4 541.6L863.3 507.3M746.4 541.6L827.9 564.4M746.4 541.6L815.1 595.1M746.4 541.6L776.4 659.1M863.3 507.3L827.9 564.4M863.3 507.3L891.8 624M827.9 564.4L891.8 624M815.1 595.1L891.8 624M815.1 595.1L776.4 659.1M776.4 659.1L891.8 624M827.9 564.4L815.1 595.1" stroke="#e0e0e0" stroke-width="1.5" fill="none" stroke-opacity="1.0"/>
<g fill="#d9d9d9" stroke="#c2c2c2" stroke-width="1.3">
<circle cx="746.4" cy="541.6" r="13.7"/>
<circle cx="863.3" cy="507.3" r="13.7"/>
<circle cx="827.9" cy="564.4" r="13.7"/>
<circle cx="815.1" cy="595.1" r="13.7"/>
<circle cx="891.8" cy="624" r="13.7"/>
<circle cx="776.4" cy="659.1" r="13.7"/>
</g>
<path d="M991.2 507.3L1062.2 510.7M991.2 507.3L993.2 538M991.2 507.3L1058.4 542.4M991.2 507.3L949.3 573.1M991.2 507.3L1025.1 574.6M991.2 507.3L1063.3 573.1M991.2 507.3L1100 583.8M991.2 507.3L990.8 606.3M991.2 507.3L1046.1 615.6M991.2 507.3L984.1 637M991.2 507.3L1054.4 645.9M1062.2 510.7L993.2 538M1062.2 510.7L1058.4 542.4M1062.2 510.7L949.3 573.1M1062.2 510.7L1025.1 574.6M1062.2 510.7L1063.3 573.1M1062.2 510.7L1100 583.8M1062.2 510.7L990.8 606.3M1062.2 510.7L1046.1 615.6M1062.2 510.7L984.1 637M1062.2 510.7L1054.4 645.9M993.2 538L1058.4 542.4M993.2 538L949.3 573.1M993.2 538L1025.1 574.6M993.2 538L1063.3 573.1M993.2 538L1100 583.8M993.2 538L990.8 606.3M993.2 538L1046.1 615.6M993.2 538L984.1 637M993.2 538L1054.4 645.9M1058.4 542.4L949.3 573.1M1058.4 542.4L1025.1 574.6M1058.4 542.4L1063.3 573.1M1058.4 542.4L1100 583.8M1058.4 542.4L990.8 606.3M1058.4 542.4L1046.1 615.6M1058.4 542.4L984.1 637M1058.4 542.4L1054.4 645.9M949.3 573.1L1025.1 574.6M949.3 573.1L1063.3 573.1M949.3 573.1L1100 583.8M949.3 573.1L990.8 606.3M949.3 573.1L1046.1 615.6M949.3 573.1L984.1 637M949.3 573.1L1054.4 645.9M1025.1 574.6L1063.3 573.1M1025.1 574.6L1100 583.8M1025.1 574.6L990.8 606.3M1025.1 574.6L1046.1 615.6M1025.1 574.6L984.1 637M1025.1 574.6L1054.4 645.9M1063.3 573.1L1100 583.8M1063.3 573.1L990.8 606.3M1063.3 573.1L1046.1 615.6M1063.3 573.1L984.1 637M1063.3 573.1L1054.4 645.9M1100 583.8L990.8 606.3M1100 583.8L1046.1 615.6M1100 583.8L984.1 637M1100 583.8L1054.4 645.9M990.8 606.3L1046.1 615.6M990.8 606.3L984.1 637M990.8 606.3L1054.4 645.9M1046.1 615.6L984.1 637M1046.1 615.6L1054.4 645.9M984.1 637L1054.4 645.9" stroke="#d6d6d6" stroke-width="1.2" fill="none" stroke-opacity="0.8"/>
<g fill="#d9d9d9" stroke="#c2c2c2" stroke-width="1.3">
<circle cx="991.2" cy="507.3" r="13.7"/>
<circle cx="1062.2" cy="510.7" r="13.7"/>
<circle cx="993.2" cy="538" r="13.7"/>
<circle cx="1058.4" cy="542.4" r="13.7"/>
<circle cx="949.3" cy="573.1" r="13.7"/>
<circle cx="1025.1" cy="574.6" r="13.7"/>
<circle cx="1063.3" cy="573.1" r="13.7"/>
<circle cx="1100" cy="583.8" r="13.7"/>
<circle cx="990.8" cy="606.3" r="13.7"/>
<circle cx="1046.1" cy="615.6" r="13.7"/>
<circle cx="984.1" cy="637" r="13.7"/>
<circle cx="1054.4" cy="645.9" r="13.7"/>
</g>
<path d="M118.3 681.9L202.4 700.4M118.3 681.9L148.6 733.3M118.3 681.9L75.2 756.3M118.3 681.9L145.7 763.4M118.3 681.9L211.8 784M118.3 681.9L134.5 819.5M202.4 700.4L148.6 733.3M202.4 700.4L75.2 756.3M202.4 700.4L145.7 763.4M202.4 700.4L211.8 784M202.4 700.4L134.5 819.5M148.6 733.3L75.2 756.3M148.6 733.3L145.7 763.4M148.6 733.3L211.8 784M148.6 733.3L134.5 819.5M75.2 756.3L145.7 763.4M75.2 756.3L211.8 784M75.2 756.3L134.5 819.5M145.7 763.4L211.8 784M145.7 763.4L134.5 819.5M211.8 784L134.5 819.5" stroke="#e0e0e0" stroke-width="1.5" fill="none" stroke-opacity="1.0"/>
<g fill="#d9d9d9" stroke="#c2c2c2" stroke-width="1.3">
<circle cx="118.3" cy="681.9" r="13.7"/>
<circle cx="202.4" cy="700.4" r="13.7"/>
<circle cx="148.6" cy="733.3" r="13.7"/>
<circle cx="75.2" cy="756.3" r="13.7"/>
<circle cx="145.7" cy="763.4" r="13.7"/>
<circle cx="211.8" cy="784" r="13.7"/>
<circle cx="134.5" cy="819.5" r="13.7"/>
</g>
<path d="M334.5 681.9L269 738.6M334.5 681.9L336.3 739.1M334.5 681.9L410 725M334.5 681.9L346 769.9M334.5 681.9L301.6 817.4M334.5 681.9L388.8 808.5M269 738.6L336.3 739.1M269 738.6L410 725M269 738.6L346 769.9M269 738.6L301.6 817.4M269 738.6L388.8 808.5M336.3 739.1L410 725M336.3 739.1L346 769.9M336.3 739.1L301.6 817.4M336.3 739.1L388.8 808.5M410 725L346 769.9M410 725L301.6 817.4M410 725L388.8 808.5M346 769.9L301.6 817.4M346 769.9L388.8 808.5M301.6 817.4L388.8 808.5" stroke="#e0e0e0" stroke-width="1.5" fill="none" stroke-opacity="1.0"/>
<g fill="#d9d9d9" stroke="#c2c2c2" stroke-width="1.3">
<circle cx="334.5" cy="681.9" r="13.7"/>
<circle cx="269" cy="738.6" r="13.7"/>
<circle cx="336.3" cy="739.1" r="13.7"/>
<circle cx="410" cy="725" r="13.7"/>
<circle cx="346" cy="769.9" r="13.7"/>
<circle cx="301.6" cy="817.4" r="13.7"/>
<circle cx="388.8" cy="808.5" r="13.7"/>
</g>
<path d="M467.7 808.5L516.2 782.4M516.2 782.4L566.4 755.5M566.4 755.5L582.6 711.9M566.4 755.5L625.6 728.9M566.4 755.5L610.2 770.4M582.6 711.9L625.6 728.9M582.6 711.9L610.2 770.4M625.6 728.9L610.2 770.4" stroke="#e0e0e0" stroke-width="1.5" fill="none" stroke-opacity="1.0"/>
<g fill="#d9d9d9" stroke="#c2c2c2" stroke-width="1.3">
<circle cx="467.7" cy="808.5" r="13.7"/>
<circle cx="516.2" cy="782.4" r="13.7"/>
<circle cx="566.4" cy="755.5" r="13.7"/>
<circle cx="582.6" cy="711.9" r="13.7"/>
<circle cx="625.6" cy="728.9" r="13.7"/>
<circle cx="610.2" cy="770.4" r="13.7"/>
</g>
<path d="M712.6 712.1L682.8 752.4M712.6 712.1L751.7 744.1M712.6 712.1L716.1 742.1M682.8 752.4L716.1 742.1M682.8 752.4L720.7 779.4M716.1 742.1L751.7 744.1M716.1 742.1L720.7 779.4M751.7 744.1L720.7 779.4M682.8 752.4L751.7 744.1" stroke="#e0e0e0" stroke-width="1.5" fill="none" stroke-opacity="1.0"/>
<g fill="#d9d9d9" stroke="#c2c2c2" stroke-width="1.3">
<circle cx="712.6" cy="712.1" r="13.7"/>
<circle cx="682.8" cy="752.4" r="13.7"/>
<circle cx="716.1" cy="742.1" r="13.7"/>
<circle cx="751.7" cy="744.1" r="13.7"/>
<circle cx="720.7" cy="779.4" r="13.7"/>
</g>
<path d="M831.7 712.1L866.3 719.6M831.7 712.1L809.3 742.6M831.7 712.1L836 775.2M866.3 719.6L809.3 742.6M866.3 719.6L873.6 758M866.3 719.6L836 775.2M809.3 742.6L873.6 758M809.3 742.6L836 775.2M873.6 758L836 775.2" stroke="#e0e0e0" stroke-width="1.5" fill="none" stroke-opacity="1.0"/>
<g fill="#d9d9d9" stroke="#c2c2c2" stroke-width="1.3">
<circle cx="831.7" cy="712.1" r="13.7"/>
<circle cx="866.3" cy="719.6" r="13.7"/>
<circle cx="809.3" cy="742.6" r="13.7"/>
<circle cx="873.6" cy="758" r="13.7"/>
<circle cx="836" cy="775.2" r="13.7"/>
</g>
<path d="M930.9 712.1L936 771.6" stroke="#e0e0e0" stroke-width="1.5" fill="none" stroke-opacity="1.0"/>
<g fill="#d9d9d9" stroke="#c2c2c2" stroke-width="1.3">
<circle cx="930.9" cy="712.1" r="13.7"/>
<circle cx="936" cy="771.6" r="13.7"/>
</g>
<path d="M993.3 712.1L1002.8 769.1" stroke="#e0e0e0" stroke-width="1.5" fill="none" stroke-opacity="1.0"/>
<g fill="#d9d9d9" stroke="#c2c2c2" stroke-width="1.3">
<circle cx="993.3" cy="712.1" r="13.7"/>
<circle cx="1002.8" cy="769.1" r="13.7"/>
</g>
<path d="M1073.3 712.1L1060.4 768.3" stroke="#e0e0e0" stroke-width="1.5" fill="none" stroke-opacity="1.0"/>
<g fill="#d9d9d9" stroke="#c2c2c2" stroke-width="1.3">
<circle cx="1073.3" cy="712.1" r="13.7"/>
<circle cx="1060.4" cy="768.3" r="13.7"/>
</g>
<path d="M1130.6 712.1L1130.6 768.3" stroke="#e0e0e0" stroke-width="1.5" fill="none" stroke-opacity="1.0"/>
<g fill="#d9d9d9" stroke="#c2c2c2" stroke-width="1.3">
<circle cx="1130.6" cy="712.1" r="13.7"/>
<circle cx="1130.6" cy="768.3" r="13.7"/>
</g>
<path d="M1189.4 712.1L1188.4 766.6" stroke="#e0e0e0" stroke-width="1.5" fill="none" stroke-opacity="1.0"/>
<g fill="#d9d9d9" stroke="#c2c2c2" stroke-width="1.3">
<circle cx="1189.4" cy="712.1" r="13.7"/>
<circle cx="1188.4" cy="766.6" r="13.7"/>
</g>
<path d="M75.2 876.4L75.8 931.2" stroke="#e0e0e0" stroke-width="1.5" fill="none" stroke-opacity="1.0"/>
<g fill="#d9d9d9" stroke="#c2c2c2" stroke-width="1.3">
<circle cx="75.2" cy="876.4" r="13.7"/>
<circle cx="75.8" cy="931.2" r="13.7"/>
</g>
<path d="M241.8 876.4L253.1 930.8" stroke="#e0e0e0" stroke-width="1.5" fill="none" stroke-opacity="1.0"/>
<g fill="#d9d9d9" stroke="#c2c2c2" stroke-width="1.3">
<circle cx="241.8" cy="876.4" r="13.7"/>
<circle cx="253.1" cy="930.8" r="13.7"/>
</g>
<path d="M310.8 876.4L317.8 930.8" stroke="#e0e0e0" stroke-width="1.5" fill="none" stroke-opacity="1.0"/>
<g fill="#d9d9d9" stroke="#c2c2c2" stroke-width="1.3">
<circle cx="310.8" cy="876.4" r="13.7"/>
<circle cx="317.8" cy="930.8" r="13.7"/>
</g>
<path d="M377.9 876.4L375.5 930.8" stroke="#e0e0e0" stroke-width="1.5" fill="none" stroke-opacity="1.0"/>
<g fill="#d9d9d9" stroke="#c2c2c2" stroke-width="1.3">
<circle cx="377.9" cy="876.4" r="13.7"/>
<circle cx="375.5" cy="930.8" r="13.7"/>
</g>
<path d="M435.6 876.4L437.4 930.8" stroke="#e0e0e0" stroke-width="1.5" fill="none" stroke-opacity="1.0"/>
<g fill="#d9d9d9" stroke="#c2c2c2" stroke-width="1.3">
<circle cx="435.6" cy="876.4" r="13.7"/>
<circle cx="437.4" cy="930.8" r="13.7"/>
</g>
<path d="M494.8 876.4L496.7 930.8" stroke="#e0e0e0" stroke-width="1.5" fill="none" stroke-opacity="1.0"/>
<g fill="#d9d9d9" stroke="#c2c2c2" stroke-width="1.3">
<circle cx="494.8" cy="876.4" r="13.7"/>
<circle cx="496.7" cy="930.8" r="13.7"/>
</g>
<path d="M555.1 876.4L554.4 930.8" stroke="#e0e0e0" stroke-width="1.5" fill="none" stroke-opacity="1.0"/>
<g fill="#d9d9d9" stroke="#c2c2c2" stroke-width="1.3">
<circle cx="555.1" cy="876.4" r="13.7"/>
<circle cx="554.4" cy="930.8" r="13.7"/>
</g>
<path d="M613.9 876.4L613.1 930.8" stroke="#e0e0e0" stroke-width="1.5" fill="none" stroke-opacity="1.0"/>
<g fill="#d9d9d9" stroke="#c2c2c2" stroke-width="1.3">
<circle cx="613.9" cy="876.4" r="13.7"/>
<circle cx="613.1" cy="930.8" r="13.7"/>
</g>
<path d="M671.6 876.4L671.6 930.9" stroke="#e0e0e0" stroke-width="1.5" fill="none" stroke-opacity="1.0"/>
<g fill="#d9d9d9" stroke="#c2c2c2" stroke-width="1.3">
<circle cx="671.6" cy="876.4" r="13.7"/>
<circle cx="671.6" cy="930.9" r="13.7"/>
</g>
<path d="M839 876.4L839 930.4" stroke="#e0e0e0" stroke-width="1.5" fill="none" stroke-opacity="1.0"/>
<g fill="#d9d9d9" stroke="#c2c2c2" stroke-width="1.3">
<circle cx="839" cy="876.4" r="13.7"/>
<circle cx="839" cy="930.4" r="13.7"/>
</g>
<path d="M1003 876.4L1001.2 929.1" stroke="#e0e0e0" stroke-width="1.5" fill="none" stroke-opacity="1.0"/>
<g fill="#d9d9d9" stroke="#c2c2c2" stroke-width="1.3">
<circle cx="1003" cy="876.4" r="13.7"/>
<circle cx="1001.2" cy="929.1" r="13.7"/>
</g>
<path d="M1169.4 876.4L1176.9 928.6" stroke="#e0e0e0" stroke-width="1.5" fill="none" stroke-opacity="1.0"/>
<g fill="#d9d9d9" stroke="#c2c2c2" stroke-width="1.3">
<circle cx="1169.4" cy="876.4" r="13.7"/>
<circle cx="1176.9" cy="928.6" r="13.7"/>
</g>
<path d="M142.3 876.4L184.1 909.8M142.3 876.4L133.2 930.7M184.1 909.8L133.2 930.7" stroke="#e0e0e0" stroke-width="1.5" fill="none" stroke-opacity="1.0"/>
<g fill="#d9d9d9" stroke="#c2c2c2" stroke-width="1.3">
<circle cx="142.3" cy="876.4" r="13.7"/>
<circle cx="184.1" cy="909.8" r="13.7"/>
<circle cx="133.2" cy="930.7" r="13.7"/>
</g>
<path d="M735.8 876.4L781.2 883.6M735.8 876.4L729.1 921.9M735.8 876.4L774.5 930.4M781.2 883.6L729.1 921.9M781.2 883.6L774.5 930.4M729.1 921.9L774.5 930.4" stroke="#e0e0e0" stroke-width="1.5" fill="none" stroke-opacity="1.0"/>
<g fill="#d9d9d9" stroke="#c2c2c2" stroke-width="1.3">
<circle cx="735.8" cy="876.4" r="13.7"/>
<circle cx="781.2" cy="883.6" r="13.7"/>
<circle cx="729.1" cy="921.9" r="13.7"/>
<circle cx="774.5" cy="930.4" r="13.7"/>
</g>
<path d="M896.2 876.4L943.7 902.1M896.2 876.4L896.7 929.6M943.7 902.1L896.7 929.6" stroke="#e0e0e0" stroke-width="1.5" fill="none" stroke-opacity="1.0"/>
<g fill="#d9d9d9" stroke="#c2c2c2" stroke-width="1.3">
<circle cx="896.2" cy="876.4" r="13.7"/>
<circle cx="943.7" cy="902.1" r="13.7"/>
<circle cx="896.7" cy="929.6" r="13.7"/>
</g>
<path d="M1099.1 876.4L1060.5 913.2M1099.1 876.4L1112.4 928.6M1060.5 913.2L1112.4 928.6" stroke="#e0e0e0" stroke-width="1.5" fill="none" stroke-opacity="1.0"/>
<g fill="#d9d9d9" stroke="#c2c2c2" stroke-width="1.3">
<circle cx="1099.1" cy="876.4" r="13.7"/>
<circle cx="1060.5" cy="913.2" r="13.7"/>
<circle cx="1112.4" cy="928.6" r="13.7"/>
</g>
<path d="M75.2 997.6L128.8 988.5M75.2 997.6L109.2 1039.9M128.8 988.5L109.2 1039.9" stroke="#e0e0e0" stroke-width="1.5" fill="none" stroke-opacity="1.0"/>
<g fill="#d9d9d9" stroke="#c2c2c2" stroke-width="1.3">
<circle cx="75.2" cy="997.6" r="13.7"/>
<circle cx="128.8" cy="988.5" r="13.7"/>
<circle cx="109.2" cy="1039.9" r="13.7"/>
</g>
<path d="M348.1 988.5L401.4 993.4M348.1 988.5L370.5 1037.8M401.4 993.4L370.5 1037.8" stroke="#e0e0e0" stroke-width="1.5" fill="none" stroke-opacity="1.0"/>
<g fill="#d9d9d9" stroke="#c2c2c2" stroke-width="1.3">
<circle cx="348.1" cy="988.5" r="13.7"/>
<circle cx="401.4" cy="993.4" r="13.7"/>
<circle cx="370.5" cy="1037.8" r="13.7"/>
</g>
<path d="M458.8 988.5L511.5 997.1M458.8 988.5L479.2 1037.8M511.5 997.1L479.2 1037.8" stroke="#e0e0e0" stroke-width="1.5" fill="none" stroke-opacity="1.0"/>
<g fill="#d9d9d9" stroke="#c2c2c2" stroke-width="1.3">
<circle cx="458.8" cy="988.5" r="13.7"/>
<circle cx="511.5" cy="997.1" r="13.7"/>
<circle cx="479.2" cy="1037.8" r="13.7"/>
</g>
<path d="M569 993.4L623 988.5M569 993.4L600.3 1037.8M623 988.5L600.3 1037.8" stroke="#e0e0e0" stroke-width="1.5" fill="none" stroke-opacity="1.0"/>
<g fill="#d9d9d9" stroke="#c2c2c2" stroke-width="1.3">
<circle cx="569" cy="993.4" r="13.7"/>
<circle cx="623" cy="988.5" r="13.7"/>
<circle cx="600.3" cy="1037.8" r="13.7"/>
</g>
<path d="M212.3 988.5L186 1039.4" stroke="#e0e0e0" stroke-width="1.5" fill="none" stroke-opacity="1.0"/>
<g fill="#d9d9d9" stroke="#c2c2c2" stroke-width="1.3">
<circle cx="212.3" cy="988.5" r="13.7"/>
<circle cx="186" cy="1039.4" r="13.7"/>
</g>
<path d="M290.1 988.5L269.8 1038.9" stroke="#e0e0e0" stroke-width="1.5" fill="none" stroke-opacity="1.0"/>
<g fill="#d9d9d9" stroke="#c2c2c2" stroke-width="1.3">
<circle cx="290.1" cy="988.5" r="13.7"/>
<circle cx="269.8" cy="1038.9" r="13.7"/>
</g>
<g fill="#d9d9d9" stroke="#c2c2c2" stroke-width="1.3">
<circle cx="680.6" cy="988.2" r="13.7"/>
<circle cx="738.1" cy="988.2" r="13.7"/>
<circle cx="795.6" cy="988.2" r="13.7"/>
<circle cx="853.1" cy="988.2" r="13.7"/>
<circle cx="910.6" cy="988.2" r="13.7"/>
<circle cx="968.1" cy="988.2" r="13.7"/>
<circle cx="1025.6" cy="988.2" r="13.7"/>
<circle cx="1083.1" cy="988.2" r="13.7"/>
<circle cx="1140.6" cy="988.2" r="13.7"/>
<circle cx="1198.1" cy="988.2" r="13.7"/>
<circle cx="680.6" cy="1037" r="13.7"/>
<circle cx="738.1" cy="1037" r="13.7"/>
<circle cx="795.6" cy="1037" r="13.7"/>
<circle cx="853.1" cy="1037" r="13.7"/>
<circle cx="910.6" cy="1037" r="13.7"/>
<circle cx="968.1" cy="1037" r="13.7"/>
<circle cx="1025.6" cy="1037" r="13.7"/>
<circle cx="1083.1" cy="1037" r="13.7"/>
<circle cx="1140.6" cy="1037" r="13.7"/>
<circle cx="1198.1" cy="1037" r="13.7"/>
</g>
<g fill="#d9d9d9" stroke="#c2c2c2" stroke-width="1.3">
<circle cx="132.8" cy="1097.2" r="13.7"/>
<circle cx="190.4" cy="1097.2" r="13.7"/>
<circle cx="247.9" cy="1097.2" r="13.7"/>
<circle cx="305.4" cy="1097.2" r="13.7"/>
<circle cx="362.9" cy="1097.2" r="13.7"/>
<circle cx="420.5" cy="1097.2" r="13.7"/>
<circle cx="478" cy="1097.2" r="13.7"/>
<circle cx="535.5" cy="1097.2" r="13.7"/>
<circle cx="593.1" cy="1097.2" r="13.7"/>
<circle cx="650.6" cy="1097.2" r="13.7"/>
<circle cx="708.1" cy="1097.2" r="13.7"/>
<circle cx="765.7" cy="1097.2" r="13.7"/>
<circle cx="75.3" cy="1154.5" r="13.7"/>
<circle cx="132.8" cy="1154.5" r="13.7"/>
<circle cx="190.4" cy="1154.5" r="13.7"/>
<circle cx="247.9" cy="1154.5" r="13.7"/>
<circle cx="305.4" cy="1154.5" r="13.7"/>
<circle cx="362.9" cy="1154.5" r="13.7"/>
<circle cx="420.5" cy="1154.5" r="13.7"/>
<circle cx="478" cy="1154.5" r="13.7"/>
<circle cx="535.5" cy="1154.5" r="13.7"/>
<circle cx="593.1" cy="1154.5" r="13.7"/>
<circle cx="650.6" cy="1154.5" r="13.7"/>
<circle cx="708.1" cy="1154.5" r="13.7"/>
<circle cx="765.7" cy="1154.5" r="13.7"/>
<circle cx="75.3" cy="1211.9" r="13.7"/>
<circle cx="132.8" cy="1211.9" r="13.7"/>
<circle cx="190.4" cy="1211.9" r="13.7"/>
<circle cx="247.9" cy="1211.9" r="13.7"/>
<circle cx="305.4" cy="1211.9" r="13.7"/>
<circle cx="362.9" cy="1211.9" r="13.7"/>
<circle cx="420.5" cy="1211.9" r="13.7"/>
<circle cx="478" cy="1211.9" r="13.7"/>
<circle cx="535.5" cy="1211.9" r="13.7"/>
<circle cx="593.1" cy="1211.9" r="13.7"/>
<circle cx="650.6" cy="1211.9" r="13.7"/>
<circle cx="708.1" cy="1211.9" r="13.7"/>
<circle cx="765.7" cy="1211.9" r="13.7"/>
<circle cx="75.3" cy="1269.6" r="13.7"/>
<circle cx="132.8" cy="1269.6" r="13.7"/>
<circle cx="190.4" cy="1269.6" r="13.7"/>
<circle cx="247.9" cy="1269.6" r="13.7"/>
<circle cx="305.4" cy="1269.6" r="13.7"/>
<circle cx="362.9" cy="1269.6" r="13.7"/>
<circle cx="420.5" cy="1269.6" r="13.7"/>
<circle cx="478" cy="1269.6" r="13.7"/>
<circle cx="535.5" cy="1269.6" r="13.7"/>
<circle cx="593.1" cy="1269.6" r="13.7"/>
<circle cx="650.6" cy="1269.6" r="13.7"/>
<circle cx="708.1" cy="1269.6" r="13.7"/>
<circle cx="765.7" cy="1269.6" r="13.7"/>
</g>
<g fill="#fed52b" stroke="#f2c623" stroke-width="1.3">
<circle cx="75.3" cy="1097.2" r="13.7"/>
</g>
<rect x="826.5" y="1083.2" width="388.4" height="218" fill="#fff" stroke="#8a8a8a" stroke-width="1.6"/>
<text x="852.2" y="1125.4" font-size="31.3" fill="#303030"  textLength="276.1" lengthAdjust="spacingAndGlyphs">NCBI classification:</text>
<g fill="#d9d9d9" stroke="#c2c2c2" stroke-width="0">
<circle cx="867.2" cy="1163.2" r="13.2"/>
</g>
<g fill="#fdc82a" stroke="#c2c2c2" stroke-width="0">
<circle cx="867.2" cy="1212.9" r="13.2"/>
</g>
<g fill="#ff7b00" stroke="#c2c2c2" stroke-width="0">
<circle cx="867.8" cy="1261.6" r="13.2"/>
</g>
<text x="892.8" y="1172.9" font-size="31.3" fill="#303030"  textLength="268.1" lengthAdjust="spacingAndGlyphs"><tspan font-style="italic">Alcaligenaceae</tspan> spp.</text>
<text x="892.8" y="1222.3" font-size="31.3" fill="#303030"  textLength="217.0" lengthAdjust="spacingAndGlyphs"><tspan font-style="italic">Alcaligenes</tspan> spp.</text>
<text x="892.8" y="1271.1" font-size="31.3" fill="#303030"  textLength="301.4" lengthAdjust="spacingAndGlyphs"><tspan font-style="italic">A. f</tspan>aecalis DSM 30030</text>
<text x="13.9" y="76.9" font-size="51.0" fill="#333" font-weight="bold" textLength="35.7" lengthAdjust="spacingAndGlyphs">A</text>
<text x="1308.2" y="74.6" font-size="51.4" fill="#333" font-weight="bold" textLength="31.0" lengthAdjust="spacingAndGlyphs">B</text>
<text x="1306.5" y="722.3" font-size="52.0" fill="#333" font-weight="bold" textLength="30.3" lengthAdjust="spacingAndGlyphs">C</text>
<rect x="1453.2" y="36.4" width="809.1000000000001" height="460.70000000000005" fill="#f5f5f6" stroke="#d9d9d9" stroke-width="1.5"/>
<line x1="1454.0" x2="2261.5" y1="476.1" y2="476.1" stroke="#e3e3e3" stroke-width="1.5"/>
<line x1="1439.4" x2="1453.2" y1="476.1" y2="476.1" stroke="#333" stroke-width="2.8"/>
<text x="1430" y="486.7" font-size="30.5" fill="#4d4d4d" text-anchor="end">0</text>
<line x1="1454.0" x2="2261.5" y1="324.1" y2="324.1" stroke="#e3e3e3" stroke-width="1.5"/>
<line x1="1439.4" x2="1453.2" y1="324.1" y2="324.1" stroke="#333" stroke-width="2.8"/>
<text x="1430" y="334.7" font-size="30.5" fill="#4d4d4d" text-anchor="end">5</text>
<line x1="1454.0" x2="2261.5" y1="172.1" y2="172.1" stroke="#e3e3e3" stroke-width="1.5"/>
<line x1="1439.4" x2="1453.2" y1="172.1" y2="172.1" stroke="#333" stroke-width="2.8"/>
<text x="1430" y="182.7" font-size="30.5" fill="#4d4d4d" text-anchor="end">10</text>
<line x1="1482.2" x2="1482.2" y1="497.1" y2="509.5" stroke="#333" stroke-width="2.8"/>
<text x="1481.6" y="552.4" font-size="30.8" fill="#4d4d4d" text-anchor="middle">0.87</text>
<line x1="1670.9" x2="1670.9" y1="497.1" y2="509.5" stroke="#333" stroke-width="2.8"/>
<text x="1670.3" y="552.4" font-size="30.8" fill="#4d4d4d" text-anchor="middle">0.90</text>
<line x1="1859.6" x2="1859.6" y1="497.1" y2="509.5" stroke="#333" stroke-width="2.8"/>
<text x="1859" y="552.4" font-size="30.8" fill="#4d4d4d" text-anchor="middle">0.93</text>
<line x1="2048.4" x2="2048.4" y1="497.1" y2="509.5" stroke="#333" stroke-width="2.8"/>
<text x="2047.8" y="552.4" font-size="30.8" fill="#4d4d4d" text-anchor="middle">0.96</text>
<line x1="2237.1" x2="2237.1" y1="497.1" y2="509.5" stroke="#333" stroke-width="2.8"/>
<text x="2236.5" y="552.4" font-size="30.8" fill="#4d4d4d" text-anchor="middle">0.99</text>
<text x="1819.2" y="593.0" font-size="35.4" fill="#151515"  textLength="117.5" lengthAdjust="spacingAndGlyphs">ANI (%)</text>
<text transform="translate(1378.7,347.8) rotate(-90)" x="-2.8" y="0" font-size="35.6" fill="#151515"  textLength="117.5" lengthAdjust="spacingAndGlyphs">Density</text>
<path d="M1490.3 360.8L1496.5 356.9L1502.7 353.5L1508.8 350.4L1515.0 347.6L1521.2 345.1L1527.4 342.8L1533.5 340.7L1539.7 338.8L1545.9 337.0L1552.1 335.2L1558.3 333.4L1564.4 331.6L1570.6 329.6L1576.8 327.6L1583.0 325.4L1589.2 323.0L1595.3 320.3L1601.5 317.3L1607.7 313.9L1613.9 310.1L1620.0 305.9L1626.2 301.2L1632.4 296.0L1638.6 290.2L1644.8 283.8L1650.9 276.7L1657.1 268.9L1663.3 260.4L1669.5 251.2L1675.6 241.3L1681.8 230.9L1688.0 220.1L1694.2 208.9L1700.4 197.6L1706.5 186.0L1712.7 174.4L1718.9 162.9L1725.1 151.5L1731.2 140.3L1737.4 129.4L1743.6 119.0L1749.8 109.0L1756.0 99.7L1762.1 91.1L1768.3 83.2L1774.5 76.2L1780.7 70.2L1786.9 65.2L1793.0 61.4L1799.2 58.8L1805.4 57.6L1811.6 57.8L1817.7 59.5L1823.9 62.9L1830.1 67.8L1836.3 73.9L1842.5 80.8L1848.6 88.4L1854.8 96.7L1861.0 105.9L1867.2 116.1L1873.3 127.4L1879.5 139.9L1885.7 153.6L1891.9 168.5L1898.1 184.5L1904.2 201.3L1910.4 218.4L1916.6 235.2L1922.8 251.3L1928.9 266.6L1935.1 280.9L1941.3 294.3L1947.5 306.9L1953.7 318.6L1959.8 329.3L1966.0 339.2L1972.2 348.1L1978.4 356.2L1984.6 363.3L1990.7 369.3L1996.9 374.3L2003.1 378.0L2009.3 380.5L2015.4 381.8L2021.6 381.6L2027.8 380.2L2034.0 377.6L2040.2 373.8L2046.3 369.1L2052.5 363.5L2058.7 357.1L2064.9 350.0L2071.0 342.4L2077.2 334.2L2083.4 325.7L2089.6 316.9L2095.8 307.9L2101.9 298.9L2108.1 289.9L2114.3 281.1L2120.5 272.6L2126.6 264.5L2132.8 257.0L2139.0 250.1L2145.2 244.1L2151.4 238.9L2157.5 234.7L2163.7 231.7L2169.9 229.9L2176.1 229.4L2182.3 230.0L2188.4 231.8L2194.6 234.6L2200.8 238.6L2207.0 243.5L2213.1 249.4L2219.3 256.3L2225.5 264.0" fill="none" stroke="#ff7d06" stroke-width="5" stroke-linecap="butt" stroke-linejoin="round"/>
<rect x="1456.1" y="718.5" width="809.9000000000001" height="464.0" fill="#f5f5f6" stroke="#dadada" stroke-width="1.5"/>
<line x1="1456.8999999999999" x2="2265.2" y1="1161.5" y2="1161.5" stroke="#e4e4e4" stroke-width="1.6"/>
<line x1="1456.8999999999999" x2="2265.2" y1="1073" y2="1073" stroke="#e4e4e4" stroke-width="1.0"/>
<line x1="1456.8999999999999" x2="2265.2" y1="984.5" y2="984.5" stroke="#e4e4e4" stroke-width="1.6"/>
<line x1="1456.8999999999999" x2="2265.2" y1="896" y2="896" stroke="#e4e4e4" stroke-width="1.0"/>
<line x1="1456.8999999999999" x2="2265.2" y1="807.5" y2="807.5" stroke="#e4e4e4" stroke-width="1.6"/>
<line x1="1442" x2="1456.1" y1="1161.5" y2="1161.5" stroke="#333" stroke-width="2.8"/>
<text x="1437" y="1172.5" font-size="31" fill="#4d4d4d" text-anchor="end">1</text>
<line x1="1442" x2="1456.1" y1="984.5" y2="984.5" stroke="#333" stroke-width="2.8"/>
<text x="1437" y="995.5" font-size="31" fill="#4d4d4d" text-anchor="end">10</text>
<line x1="1442" x2="1456.1" y1="807.5" y2="807.5" stroke="#333" stroke-width="2.8"/>
<text x="1437" y="818.5" font-size="31" fill="#4d4d4d" text-anchor="end">100</text>
<line x1="1505.5" x2="1505.5" y1="1182.5" y2="1192.3" stroke="#333" stroke-width="2.8"/>
<text x="1505.5" y="1219.5" font-size="30.5" fill="#4d4d4d" text-anchor="middle">0.0</text>
<line x1="1676.1" x2="1676.1" y1="1182.5" y2="1192.3" stroke="#333" stroke-width="2.8"/>
<text x="1676.1" y="1219.5" font-size="30.5" fill="#4d4d4d" text-anchor="middle">0.1</text>
<line x1="1846.8" x2="1846.8" y1="1182.5" y2="1192.3" stroke="#333" stroke-width="2.8"/>
<text x="1846.8" y="1219.5" font-size="30.5" fill="#4d4d4d" text-anchor="middle">0.2</text>
<line x1="2017.4" x2="2017.4" y1="1182.5" y2="1192.3" stroke="#333" stroke-width="2.8"/>
<text x="2017.4" y="1219.5" font-size="30.5" fill="#4d4d4d" text-anchor="middle">0.3</text>
<line x1="2188" x2="2188" y1="1182.5" y2="1192.3" stroke="#333" stroke-width="2.8"/>
<text x="2188" y="1219.5" font-size="30.5" fill="#4d4d4d" text-anchor="middle">0.4</text>
<polygon points="1517.4,1161.5 1517.4,948.3 1541.9,948.3 1541.9,1108.2 1566.5,1108.2 1566.5,1161.5" fill="#fdc92b"/>
<polygon points="1591.0,1161.5 1591.0,931.2 1615.5,931.2 1615.5,1037.7 1640.1,1037.7 1640.1,958.6 1664.6,958.6 1664.6,1023.7 1689.2,1023.7 1689.2,1077.0 1713.7,1077.0 1713.7,1161.5" fill="#fdc92b"/>
<polygon points="1959.1,1161.5 1959.1,739.4 1983.6,739.4 1983.6,789.0 2008.2,789.0 2008.2,850.0 2032.7,850.0 2032.7,895.5 2057.3,895.5 2057.3,882.4 2081.8,882.4 2081.8,842.4 2106.3,842.4 2106.3,837.4 2130.9,837.4 2130.9,880.0 2155.4,880.0 2155.4,964.9 2180.0,964.9 2180.0,984.5 2204.5,984.5 2204.5,1161.5" fill="#595959"/>
<line x1="1761.6" x2="1761.6" y1="718.5" y2="1182.7" stroke="#2b2b2b" stroke-width="3.4" stroke-dasharray="20.4,21.38" stroke-dashoffset="15.8"/>
<text x="1737.3" y="1277.2" font-size="36.0" fill="#151515"  textLength="245.5" lengthAdjust="spacingAndGlyphs">Mash distances</text>
<text transform="translate(1360.7,1031.1) rotate(-90)" x="-2.8" y="0" font-size="35.8" fill="#151515"  textLength="163.8" lengthAdjust="spacingAndGlyphs">Frequency</text>
</svg></body></html>
